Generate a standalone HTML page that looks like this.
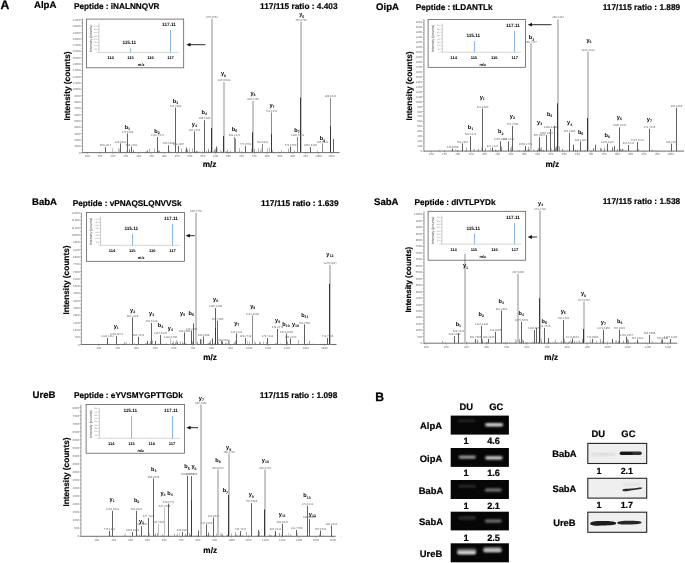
<!DOCTYPE html>
<html><head><meta charset="utf-8"><style>
html,body{margin:0;padding:0;background:#fff;}
svg{display:block;font-family:"Liberation Sans", sans-serif;text-rendering:geometricPrecision;filter:blur(0.35px);}
</style></head><body>
<svg width="685" height="563" viewBox="0 0 685 563" font-family='"Liberation Sans", sans-serif'>
<rect width="685" height="563" fill="#fff"/>
<g>
<text x="34.00" y="8.40" font-size="9.6" font-weight="bold" text-anchor="start" fill="#000" stroke="#000" stroke-width="0.211" >AlpA</text>
<text x="74.00" y="8.50" font-size="8.2" font-weight="bold" text-anchor="start" fill="#000" stroke="#000" stroke-width="0.180" >Peptide : iNALNNQVR</text>
<text x="337.60" y="8.50" font-size="8.3" font-weight="bold" text-anchor="end" fill="#000" stroke="#000" stroke-width="0.183" >117/115 ratio : 4.403</text>
<line x1="82.50" y1="18.80" x2="82.50" y2="153.10" stroke="#707070" stroke-width="0.7" />
<line x1="80.90" y1="152.60" x2="82.50" y2="152.60" stroke="#777" stroke-width="0.5" />
<text x="80.60" y="153.60" font-size="2.9" text-anchor="end" fill="#707070">0</text>
<line x1="81.50" y1="149.44" x2="82.50" y2="149.44" stroke="#777" stroke-width="0.5" />
<line x1="80.90" y1="146.28" x2="82.50" y2="146.28" stroke="#777" stroke-width="0.5" />
<text x="80.60" y="147.28" font-size="2.9" text-anchor="end" fill="#707070">1000</text>
<line x1="81.50" y1="143.12" x2="82.50" y2="143.12" stroke="#777" stroke-width="0.5" />
<line x1="80.90" y1="139.96" x2="82.50" y2="139.96" stroke="#777" stroke-width="0.5" />
<text x="80.60" y="140.96" font-size="2.9" text-anchor="end" fill="#707070">2000</text>
<line x1="81.50" y1="136.80" x2="82.50" y2="136.80" stroke="#777" stroke-width="0.5" />
<line x1="80.90" y1="133.64" x2="82.50" y2="133.64" stroke="#777" stroke-width="0.5" />
<text x="80.60" y="134.64" font-size="2.9" text-anchor="end" fill="#707070">3000</text>
<line x1="81.50" y1="130.48" x2="82.50" y2="130.48" stroke="#777" stroke-width="0.5" />
<line x1="80.90" y1="127.32" x2="82.50" y2="127.32" stroke="#777" stroke-width="0.5" />
<text x="80.60" y="128.32" font-size="2.9" text-anchor="end" fill="#707070">4000</text>
<line x1="81.50" y1="124.16" x2="82.50" y2="124.16" stroke="#777" stroke-width="0.5" />
<line x1="80.90" y1="121.00" x2="82.50" y2="121.00" stroke="#777" stroke-width="0.5" />
<text x="80.60" y="122.00" font-size="2.9" text-anchor="end" fill="#707070">5000</text>
<line x1="81.50" y1="117.84" x2="82.50" y2="117.84" stroke="#777" stroke-width="0.5" />
<line x1="80.90" y1="114.68" x2="82.50" y2="114.68" stroke="#777" stroke-width="0.5" />
<text x="80.60" y="115.68" font-size="2.9" text-anchor="end" fill="#707070">6000</text>
<line x1="81.50" y1="111.52" x2="82.50" y2="111.52" stroke="#777" stroke-width="0.5" />
<line x1="80.90" y1="108.36" x2="82.50" y2="108.36" stroke="#777" stroke-width="0.5" />
<text x="80.60" y="109.36" font-size="2.9" text-anchor="end" fill="#707070">7000</text>
<line x1="81.50" y1="105.20" x2="82.50" y2="105.20" stroke="#777" stroke-width="0.5" />
<line x1="80.90" y1="102.04" x2="82.50" y2="102.04" stroke="#777" stroke-width="0.5" />
<text x="80.60" y="103.04" font-size="2.9" text-anchor="end" fill="#707070">8000</text>
<line x1="81.50" y1="98.88" x2="82.50" y2="98.88" stroke="#777" stroke-width="0.5" />
<line x1="80.90" y1="95.72" x2="82.50" y2="95.72" stroke="#777" stroke-width="0.5" />
<text x="80.60" y="96.72" font-size="2.9" text-anchor="end" fill="#707070">9000</text>
<line x1="81.50" y1="92.56" x2="82.50" y2="92.56" stroke="#777" stroke-width="0.5" />
<line x1="80.90" y1="89.40" x2="82.50" y2="89.40" stroke="#777" stroke-width="0.5" />
<text x="80.60" y="90.40" font-size="2.9" text-anchor="end" fill="#707070">10000</text>
<line x1="81.50" y1="86.24" x2="82.50" y2="86.24" stroke="#777" stroke-width="0.5" />
<line x1="80.90" y1="83.08" x2="82.50" y2="83.08" stroke="#777" stroke-width="0.5" />
<text x="80.60" y="84.08" font-size="2.9" text-anchor="end" fill="#707070">11000</text>
<line x1="81.50" y1="79.92" x2="82.50" y2="79.92" stroke="#777" stroke-width="0.5" />
<line x1="80.90" y1="76.76" x2="82.50" y2="76.76" stroke="#777" stroke-width="0.5" />
<text x="80.60" y="77.76" font-size="2.9" text-anchor="end" fill="#707070">12000</text>
<line x1="81.50" y1="73.60" x2="82.50" y2="73.60" stroke="#777" stroke-width="0.5" />
<line x1="80.90" y1="70.44" x2="82.50" y2="70.44" stroke="#777" stroke-width="0.5" />
<text x="80.60" y="71.44" font-size="2.9" text-anchor="end" fill="#707070">13000</text>
<line x1="81.50" y1="67.28" x2="82.50" y2="67.28" stroke="#777" stroke-width="0.5" />
<line x1="80.90" y1="64.12" x2="82.50" y2="64.12" stroke="#777" stroke-width="0.5" />
<text x="80.60" y="65.12" font-size="2.9" text-anchor="end" fill="#707070">14000</text>
<line x1="81.50" y1="60.96" x2="82.50" y2="60.96" stroke="#777" stroke-width="0.5" />
<line x1="80.90" y1="57.80" x2="82.50" y2="57.80" stroke="#777" stroke-width="0.5" />
<text x="80.60" y="58.80" font-size="2.9" text-anchor="end" fill="#707070">15000</text>
<line x1="81.50" y1="54.64" x2="82.50" y2="54.64" stroke="#777" stroke-width="0.5" />
<line x1="80.90" y1="51.48" x2="82.50" y2="51.48" stroke="#777" stroke-width="0.5" />
<text x="80.60" y="52.48" font-size="2.9" text-anchor="end" fill="#707070">16000</text>
<line x1="81.50" y1="48.32" x2="82.50" y2="48.32" stroke="#777" stroke-width="0.5" />
<line x1="80.90" y1="45.16" x2="82.50" y2="45.16" stroke="#777" stroke-width="0.5" />
<text x="80.60" y="46.16" font-size="2.9" text-anchor="end" fill="#707070">17000</text>
<line x1="81.50" y1="42.00" x2="82.50" y2="42.00" stroke="#777" stroke-width="0.5" />
<line x1="80.90" y1="38.84" x2="82.50" y2="38.84" stroke="#777" stroke-width="0.5" />
<text x="80.60" y="39.84" font-size="2.9" text-anchor="end" fill="#707070">18000</text>
<line x1="81.50" y1="35.68" x2="82.50" y2="35.68" stroke="#777" stroke-width="0.5" />
<line x1="80.90" y1="32.52" x2="82.50" y2="32.52" stroke="#777" stroke-width="0.5" />
<text x="80.60" y="33.52" font-size="2.9" text-anchor="end" fill="#707070">19000</text>
<line x1="81.50" y1="29.36" x2="82.50" y2="29.36" stroke="#777" stroke-width="0.5" />
<line x1="80.90" y1="26.20" x2="82.50" y2="26.20" stroke="#777" stroke-width="0.5" />
<text x="80.60" y="27.20" font-size="2.9" text-anchor="end" fill="#707070">20000</text>
<line x1="81.50" y1="23.04" x2="82.50" y2="23.04" stroke="#777" stroke-width="0.5" />
<line x1="80.90" y1="19.88" x2="82.50" y2="19.88" stroke="#777" stroke-width="0.5" />
<text x="80.60" y="20.88" font-size="2.9" text-anchor="end" fill="#707070">21000</text>
<line x1="82.50" y1="152.60" x2="339.50" y2="152.60" stroke="#4a4a4a" stroke-width="0.8" />
<line x1="87.20" y1="152.60" x2="87.20" y2="154.10" stroke="#777" stroke-width="0.5" />
<text x="87.20" y="156.90" font-size="2.9" text-anchor="middle" fill="#707070">100</text>
<line x1="93.62" y1="152.60" x2="93.62" y2="153.50" stroke="#999" stroke-width="0.4" />
<line x1="100.05" y1="152.60" x2="100.05" y2="154.10" stroke="#777" stroke-width="0.5" />
<text x="100.05" y="156.90" font-size="2.9" text-anchor="middle" fill="#707070">150</text>
<line x1="106.47" y1="152.60" x2="106.47" y2="153.50" stroke="#999" stroke-width="0.4" />
<line x1="112.90" y1="152.60" x2="112.90" y2="154.10" stroke="#777" stroke-width="0.5" />
<text x="112.90" y="156.90" font-size="2.9" text-anchor="middle" fill="#707070">200</text>
<line x1="119.32" y1="152.60" x2="119.32" y2="153.50" stroke="#999" stroke-width="0.4" />
<line x1="125.75" y1="152.60" x2="125.75" y2="154.10" stroke="#777" stroke-width="0.5" />
<text x="125.75" y="156.90" font-size="2.9" text-anchor="middle" fill="#707070">250</text>
<line x1="132.17" y1="152.60" x2="132.17" y2="153.50" stroke="#999" stroke-width="0.4" />
<line x1="138.60" y1="152.60" x2="138.60" y2="154.10" stroke="#777" stroke-width="0.5" />
<text x="138.60" y="156.90" font-size="2.9" text-anchor="middle" fill="#707070">300</text>
<line x1="145.03" y1="152.60" x2="145.03" y2="153.50" stroke="#999" stroke-width="0.4" />
<line x1="151.45" y1="152.60" x2="151.45" y2="154.10" stroke="#777" stroke-width="0.5" />
<text x="151.45" y="156.90" font-size="2.9" text-anchor="middle" fill="#707070">350</text>
<line x1="157.88" y1="152.60" x2="157.88" y2="153.50" stroke="#999" stroke-width="0.4" />
<line x1="164.30" y1="152.60" x2="164.30" y2="154.10" stroke="#777" stroke-width="0.5" />
<text x="164.30" y="156.90" font-size="2.9" text-anchor="middle" fill="#707070">400</text>
<line x1="170.72" y1="152.60" x2="170.72" y2="153.50" stroke="#999" stroke-width="0.4" />
<line x1="177.15" y1="152.60" x2="177.15" y2="154.10" stroke="#777" stroke-width="0.5" />
<text x="177.15" y="156.90" font-size="2.9" text-anchor="middle" fill="#707070">450</text>
<line x1="183.57" y1="152.60" x2="183.57" y2="153.50" stroke="#999" stroke-width="0.4" />
<line x1="190.00" y1="152.60" x2="190.00" y2="154.10" stroke="#777" stroke-width="0.5" />
<text x="190.00" y="156.90" font-size="2.9" text-anchor="middle" fill="#707070">500</text>
<line x1="196.42" y1="152.60" x2="196.42" y2="153.50" stroke="#999" stroke-width="0.4" />
<line x1="202.85" y1="152.60" x2="202.85" y2="154.10" stroke="#777" stroke-width="0.5" />
<text x="202.85" y="156.90" font-size="2.9" text-anchor="middle" fill="#707070">550</text>
<line x1="209.27" y1="152.60" x2="209.27" y2="153.50" stroke="#999" stroke-width="0.4" />
<line x1="215.70" y1="152.60" x2="215.70" y2="154.10" stroke="#777" stroke-width="0.5" />
<text x="215.70" y="156.90" font-size="2.9" text-anchor="middle" fill="#707070">600</text>
<line x1="222.12" y1="152.60" x2="222.12" y2="153.50" stroke="#999" stroke-width="0.4" />
<line x1="228.55" y1="152.60" x2="228.55" y2="154.10" stroke="#777" stroke-width="0.5" />
<text x="228.55" y="156.90" font-size="2.9" text-anchor="middle" fill="#707070">650</text>
<line x1="234.97" y1="152.60" x2="234.97" y2="153.50" stroke="#999" stroke-width="0.4" />
<line x1="241.40" y1="152.60" x2="241.40" y2="154.10" stroke="#777" stroke-width="0.5" />
<text x="241.40" y="156.90" font-size="2.9" text-anchor="middle" fill="#707070">700</text>
<line x1="247.82" y1="152.60" x2="247.82" y2="153.50" stroke="#999" stroke-width="0.4" />
<line x1="254.25" y1="152.60" x2="254.25" y2="154.10" stroke="#777" stroke-width="0.5" />
<text x="254.25" y="156.90" font-size="2.9" text-anchor="middle" fill="#707070">750</text>
<line x1="260.67" y1="152.60" x2="260.67" y2="153.50" stroke="#999" stroke-width="0.4" />
<line x1="267.10" y1="152.60" x2="267.10" y2="154.10" stroke="#777" stroke-width="0.5" />
<text x="267.10" y="156.90" font-size="2.9" text-anchor="middle" fill="#707070">800</text>
<line x1="273.52" y1="152.60" x2="273.52" y2="153.50" stroke="#999" stroke-width="0.4" />
<line x1="279.95" y1="152.60" x2="279.95" y2="154.10" stroke="#777" stroke-width="0.5" />
<text x="279.95" y="156.90" font-size="2.9" text-anchor="middle" fill="#707070">850</text>
<line x1="286.38" y1="152.60" x2="286.38" y2="153.50" stroke="#999" stroke-width="0.4" />
<line x1="292.80" y1="152.60" x2="292.80" y2="154.10" stroke="#777" stroke-width="0.5" />
<text x="292.80" y="156.90" font-size="2.9" text-anchor="middle" fill="#707070">900</text>
<line x1="299.23" y1="152.60" x2="299.23" y2="153.50" stroke="#999" stroke-width="0.4" />
<line x1="305.65" y1="152.60" x2="305.65" y2="154.10" stroke="#777" stroke-width="0.5" />
<text x="305.65" y="156.90" font-size="2.9" text-anchor="middle" fill="#707070">950</text>
<line x1="312.08" y1="152.60" x2="312.08" y2="153.50" stroke="#999" stroke-width="0.4" />
<line x1="318.50" y1="152.60" x2="318.50" y2="154.10" stroke="#777" stroke-width="0.5" />
<text x="318.50" y="156.90" font-size="2.9" text-anchor="middle" fill="#707070">1000</text>
<line x1="324.93" y1="152.60" x2="324.93" y2="153.50" stroke="#999" stroke-width="0.4" />
<line x1="331.35" y1="152.60" x2="331.35" y2="154.10" stroke="#777" stroke-width="0.5" />
<text x="331.35" y="156.90" font-size="2.9" text-anchor="middle" fill="#707070">1050</text>
<line x1="337.78" y1="152.60" x2="337.78" y2="153.50" stroke="#999" stroke-width="0.4" />
<text x="0" y="0" font-size="8.3" font-weight="bold" text-anchor="middle" fill="#000" stroke="#000" stroke-width="0.18" transform="translate(70.00,86.00) rotate(-90)">Intensity (counts)</text>
<text x="209.50" y="167.20" font-size="8.2" font-weight="bold" text-anchor="middle" fill="#000" stroke="#000" stroke-width="0.180" >m/z</text>
<line x1="189.50" y1="151.98" x2="189.50" y2="152.60" stroke="rgb(143,143,143)" stroke-width="0.5" />
<line x1="129.50" y1="149.51" x2="129.50" y2="152.60" stroke="rgb(72,72,72)" stroke-width="0.5" />
<line x1="195.50" y1="152.00" x2="195.50" y2="152.60" stroke="rgb(124,124,124)" stroke-width="0.5" />
<line x1="171.50" y1="152.00" x2="171.50" y2="152.60" stroke="rgb(113,113,113)" stroke-width="0.5" />
<line x1="137.50" y1="152.00" x2="137.50" y2="152.60" stroke="rgb(114,114,114)" stroke-width="0.5" />
<line x1="133.50" y1="151.19" x2="133.50" y2="152.60" stroke="rgb(88,88,88)" stroke-width="0.5" />
<line x1="230.50" y1="151.11" x2="230.50" y2="152.60" stroke="rgb(67,67,67)" stroke-width="0.5" />
<line x1="223.50" y1="151.72" x2="223.50" y2="152.60" stroke="rgb(88,88,88)" stroke-width="0.5" />
<line x1="129.50" y1="149.15" x2="129.50" y2="152.60" stroke="rgb(97,97,97)" stroke-width="0.5" />
<line x1="202.50" y1="151.29" x2="202.50" y2="152.60" stroke="rgb(133,133,133)" stroke-width="0.5" />
<line x1="187.50" y1="149.55" x2="187.50" y2="152.60" stroke="rgb(83,83,83)" stroke-width="0.5" />
<line x1="147.50" y1="151.16" x2="147.50" y2="152.60" stroke="rgb(84,84,84)" stroke-width="0.5" />
<line x1="196.50" y1="151.26" x2="196.50" y2="152.60" stroke="rgb(68,68,68)" stroke-width="0.5" />
<line x1="221.50" y1="150.93" x2="221.50" y2="152.60" stroke="rgb(123,123,123)" stroke-width="0.5" />
<line x1="237.50" y1="151.65" x2="237.50" y2="152.60" stroke="rgb(100,100,100)" stroke-width="0.5" />
<line x1="208.50" y1="148.46" x2="208.50" y2="152.60" stroke="rgb(106,106,106)" stroke-width="0.5" />
<line x1="185.50" y1="149.74" x2="185.50" y2="152.60" stroke="rgb(149,149,149)" stroke-width="0.5" />
<line x1="254.50" y1="152.00" x2="254.50" y2="152.60" stroke="rgb(98,98,98)" stroke-width="0.5" />
<line x1="216.50" y1="148.98" x2="216.50" y2="152.60" stroke="rgb(153,153,153)" stroke-width="0.5" />
<line x1="206.50" y1="150.98" x2="206.50" y2="152.60" stroke="rgb(69,69,69)" stroke-width="0.5" />
<line x1="151.50" y1="151.67" x2="151.50" y2="152.60" stroke="rgb(156,156,156)" stroke-width="0.5" />
<line x1="192.50" y1="148.34" x2="192.50" y2="152.60" stroke="rgb(113,113,113)" stroke-width="0.5" />
<line x1="126.50" y1="150.66" x2="126.50" y2="152.60" stroke="rgb(157,157,157)" stroke-width="0.5" />
<line x1="220.50" y1="149.79" x2="220.50" y2="152.60" stroke="rgb(164,164,164)" stroke-width="0.5" />
<line x1="187.50" y1="150.49" x2="187.50" y2="152.60" stroke="rgb(136,136,136)" stroke-width="0.5" />
<line x1="212.50" y1="149.72" x2="212.50" y2="152.60" stroke="rgb(68,68,68)" stroke-width="0.5" />
<line x1="267.50" y1="148.21" x2="267.50" y2="152.60" stroke="rgb(120,120,120)" stroke-width="0.5" />
<line x1="240.50" y1="152.00" x2="240.50" y2="152.60" stroke="rgb(153,153,153)" stroke-width="0.5" />
<line x1="241.50" y1="150.78" x2="241.50" y2="152.60" stroke="rgb(147,147,147)" stroke-width="0.5" />
<line x1="263.50" y1="151.90" x2="263.50" y2="152.60" stroke="rgb(109,109,109)" stroke-width="0.5" />
<line x1="278.50" y1="151.81" x2="278.50" y2="152.60" stroke="rgb(119,119,119)" stroke-width="0.5" />
<line x1="194.50" y1="150.97" x2="194.50" y2="152.60" stroke="rgb(123,123,123)" stroke-width="0.5" />
<line x1="133.50" y1="149.96" x2="133.50" y2="152.60" stroke="rgb(76,76,76)" stroke-width="0.5" />
<line x1="247.50" y1="151.72" x2="247.50" y2="152.60" stroke="rgb(123,123,123)" stroke-width="0.5" />
<line x1="140.50" y1="151.59" x2="140.50" y2="152.60" stroke="rgb(130,130,130)" stroke-width="0.5" />
<line x1="182.50" y1="151.99" x2="182.50" y2="152.60" stroke="rgb(115,115,115)" stroke-width="0.5" />
<line x1="272.50" y1="151.90" x2="272.50" y2="152.60" stroke="rgb(113,113,113)" stroke-width="0.5" />
<line x1="317.50" y1="150.57" x2="317.50" y2="152.60" stroke="rgb(108,108,108)" stroke-width="0.5" />
<line x1="301.50" y1="151.98" x2="301.50" y2="152.60" stroke="rgb(82,82,82)" stroke-width="0.5" />
<line x1="158.50" y1="150.71" x2="158.50" y2="152.60" stroke="rgb(61,61,61)" stroke-width="0.5" />
<line x1="211.50" y1="151.08" x2="211.50" y2="152.60" stroke="rgb(93,93,93)" stroke-width="0.5" />
<line x1="182.50" y1="151.99" x2="182.50" y2="152.60" stroke="rgb(128,128,128)" stroke-width="0.5" />
<line x1="196.50" y1="151.18" x2="196.50" y2="152.60" stroke="rgb(76,76,76)" stroke-width="0.5" />
<line x1="239.50" y1="151.38" x2="239.50" y2="152.60" stroke="rgb(139,139,139)" stroke-width="0.5" />
<line x1="234.50" y1="150.18" x2="234.50" y2="152.60" stroke="rgb(118,118,118)" stroke-width="0.5" />
<line x1="281.50" y1="149.86" x2="281.50" y2="152.60" stroke="rgb(147,147,147)" stroke-width="0.5" />
<line x1="258.50" y1="151.73" x2="258.50" y2="152.60" stroke="rgb(111,111,111)" stroke-width="0.5" />
<line x1="199.50" y1="151.50" x2="199.50" y2="152.60" stroke="rgb(111,111,111)" stroke-width="0.5" />
<line x1="135.50" y1="152.00" x2="135.50" y2="152.60" stroke="rgb(86,86,86)" stroke-width="0.5" />
<line x1="205.50" y1="151.99" x2="205.50" y2="152.60" stroke="rgb(136,136,136)" stroke-width="0.5" />
<line x1="131.50" y1="152.00" x2="131.50" y2="152.60" stroke="rgb(79,79,79)" stroke-width="0.5" />
<line x1="217.50" y1="148.15" x2="217.50" y2="152.60" stroke="rgb(138,138,138)" stroke-width="0.5" />
<line x1="119.50" y1="148.99" x2="119.50" y2="152.60" stroke="rgb(138,138,138)" stroke-width="0.5" />
<line x1="197.50" y1="150.85" x2="197.50" y2="152.60" stroke="rgb(104,104,104)" stroke-width="0.5" />
<line x1="226.50" y1="151.52" x2="226.50" y2="152.60" stroke="rgb(74,74,74)" stroke-width="0.5" />
<line x1="269.50" y1="147.59" x2="269.50" y2="152.60" stroke="rgb(119,119,119)" stroke-width="0.5" />
<line x1="210.50" y1="151.86" x2="210.50" y2="152.60" stroke="rgb(78,78,78)" stroke-width="0.5" />
<line x1="146.50" y1="151.82" x2="146.50" y2="152.60" stroke="rgb(93,93,93)" stroke-width="0.5" />
<line x1="210.50" y1="150.51" x2="210.50" y2="152.60" stroke="rgb(126,126,126)" stroke-width="0.5" />
<line x1="118.50" y1="148.13" x2="118.50" y2="152.60" stroke="rgb(127,127,127)" stroke-width="0.5" />
<line x1="194.50" y1="150.52" x2="194.50" y2="152.60" stroke="rgb(63,63,63)" stroke-width="0.5" />
<line x1="250.50" y1="151.88" x2="250.50" y2="152.60" stroke="rgb(142,142,142)" stroke-width="0.5" />
<line x1="272.50" y1="150.48" x2="272.50" y2="152.60" stroke="rgb(93,93,93)" stroke-width="0.5" />
<line x1="215.50" y1="148.63" x2="215.50" y2="152.60" stroke="rgb(105,105,105)" stroke-width="0.5" />
<line x1="253.50" y1="151.32" x2="253.50" y2="152.60" stroke="rgb(159,159,159)" stroke-width="0.5" />
<line x1="213.50" y1="150.84" x2="213.50" y2="152.60" stroke="rgb(138,138,138)" stroke-width="0.5" />
<line x1="261.50" y1="147.70" x2="261.50" y2="152.60" stroke="rgb(169,169,169)" stroke-width="0.5" />
<line x1="167.50" y1="151.94" x2="167.50" y2="152.60" stroke="rgb(111,111,111)" stroke-width="0.5" />
<line x1="247.50" y1="151.95" x2="247.50" y2="152.60" stroke="rgb(126,126,126)" stroke-width="0.5" />
<line x1="212.50" y1="150.24" x2="212.50" y2="152.60" stroke="rgb(63,63,63)" stroke-width="0.5" />
<line x1="256.50" y1="151.53" x2="256.50" y2="152.60" stroke="rgb(84,84,84)" stroke-width="0.5" />
<line x1="239.50" y1="148.06" x2="239.50" y2="152.60" stroke="rgb(117,117,117)" stroke-width="0.5" />
<line x1="260.50" y1="150.30" x2="260.50" y2="152.60" stroke="rgb(104,104,104)" stroke-width="0.5" />
<line x1="300.50" y1="151.78" x2="300.50" y2="152.60" stroke="rgb(88,88,88)" stroke-width="0.5" />
<line x1="146.50" y1="151.53" x2="146.50" y2="152.60" stroke="rgb(103,103,103)" stroke-width="0.5" />
<line x1="169.50" y1="150.91" x2="169.50" y2="152.60" stroke="rgb(138,138,138)" stroke-width="0.5" />
<line x1="267.50" y1="151.50" x2="267.50" y2="152.60" stroke="rgb(143,143,143)" stroke-width="0.5" />
<line x1="192.50" y1="150.80" x2="192.50" y2="152.60" stroke="rgb(166,166,166)" stroke-width="0.5" />
<line x1="234.50" y1="148.61" x2="234.50" y2="152.60" stroke="rgb(160,160,160)" stroke-width="0.5" />
<line x1="242.50" y1="151.96" x2="242.50" y2="152.60" stroke="rgb(82,82,82)" stroke-width="0.5" />
<line x1="204.50" y1="150.84" x2="204.50" y2="152.60" stroke="rgb(71,71,71)" stroke-width="0.5" />
<line x1="258.50" y1="147.87" x2="258.50" y2="152.60" stroke="rgb(110,110,110)" stroke-width="0.5" />
<line x1="208.50" y1="150.15" x2="208.50" y2="152.60" stroke="rgb(70,70,70)" stroke-width="0.5" />
<line x1="245.50" y1="151.98" x2="245.50" y2="152.60" stroke="rgb(76,76,76)" stroke-width="0.5" />
<line x1="120.50" y1="151.07" x2="120.50" y2="152.60" stroke="rgb(119,119,119)" stroke-width="0.5" />
<line x1="260.50" y1="151.99" x2="260.50" y2="152.60" stroke="rgb(165,165,165)" stroke-width="0.5" />
<line x1="225.50" y1="151.52" x2="225.50" y2="152.60" stroke="rgb(104,104,104)" stroke-width="0.5" />
<line x1="159.50" y1="151.26" x2="159.50" y2="152.60" stroke="rgb(62,62,62)" stroke-width="0.5" />
<line x1="112.50" y1="147.88" x2="112.50" y2="152.60" stroke="rgb(143,143,143)" stroke-width="0.5" />
<line x1="147.50" y1="150.11" x2="147.50" y2="152.60" stroke="rgb(77,77,77)" stroke-width="0.5" />
<line x1="204.50" y1="149.02" x2="204.50" y2="152.60" stroke="rgb(165,165,165)" stroke-width="0.5" />
<line x1="274.50" y1="152.00" x2="274.50" y2="152.60" stroke="rgb(87,87,87)" stroke-width="0.5" />
<line x1="184.50" y1="151.94" x2="184.50" y2="152.60" stroke="rgb(135,135,135)" stroke-width="0.5" />
<line x1="189.50" y1="151.27" x2="189.50" y2="152.60" stroke="rgb(166,166,166)" stroke-width="0.5" />
<line x1="154.50" y1="148.61" x2="154.50" y2="152.60" stroke="rgb(105,105,105)" stroke-width="0.5" />
<line x1="281.50" y1="150.69" x2="281.50" y2="152.60" stroke="rgb(164,164,164)" stroke-width="0.5" />
<line x1="283.50" y1="151.67" x2="283.50" y2="152.60" stroke="rgb(124,124,124)" stroke-width="0.5" />
<line x1="154.50" y1="151.98" x2="154.50" y2="152.60" stroke="rgb(125,125,125)" stroke-width="0.5" />
<line x1="115.50" y1="151.62" x2="115.50" y2="152.60" stroke="rgb(83,83,83)" stroke-width="0.5" />
<line x1="227.50" y1="149.90" x2="227.50" y2="152.60" stroke="rgb(79,79,79)" stroke-width="0.5" />
<line x1="163.50" y1="151.52" x2="163.50" y2="152.60" stroke="rgb(152,152,152)" stroke-width="0.5" />
<line x1="151.50" y1="152.00" x2="151.50" y2="152.60" stroke="rgb(147,147,147)" stroke-width="0.5" />
<line x1="215.50" y1="151.23" x2="215.50" y2="152.60" stroke="rgb(160,160,160)" stroke-width="0.5" />
<line x1="254.50" y1="148.90" x2="254.50" y2="152.60" stroke="rgb(67,67,67)" stroke-width="0.5" />
<line x1="177.50" y1="151.90" x2="177.50" y2="152.60" stroke="rgb(158,158,158)" stroke-width="0.5" />
<line x1="145.50" y1="151.58" x2="145.50" y2="152.60" stroke="rgb(63,63,63)" stroke-width="0.5" />
<line x1="251.50" y1="148.58" x2="251.50" y2="152.60" stroke="rgb(116,116,116)" stroke-width="0.5" />
<line x1="189.50" y1="147.85" x2="189.50" y2="152.60" stroke="rgb(137,137,137)" stroke-width="0.5" />
<line x1="214.50" y1="150.50" x2="214.50" y2="152.60" stroke="rgb(117,117,117)" stroke-width="0.5" />
<line x1="214.50" y1="149.63" x2="214.50" y2="152.60" stroke="rgb(124,124,124)" stroke-width="0.5" />
<line x1="294.50" y1="150.46" x2="294.50" y2="152.60" stroke="rgb(93,93,93)" stroke-width="0.5" />
<line x1="288.50" y1="148.80" x2="288.50" y2="152.60" stroke="rgb(85,85,85)" stroke-width="0.5" />
<line x1="267.50" y1="151.99" x2="267.50" y2="152.60" stroke="rgb(75,75,75)" stroke-width="0.5" />
<line x1="199.50" y1="151.86" x2="199.50" y2="152.60" stroke="rgb(145,145,145)" stroke-width="0.5" />
<line x1="176.50" y1="152.00" x2="176.50" y2="152.60" stroke="rgb(145,145,145)" stroke-width="0.5" />
<line x1="186.50" y1="151.99" x2="186.50" y2="152.60" stroke="rgb(159,159,159)" stroke-width="0.5" />
<line x1="159.50" y1="150.35" x2="159.50" y2="152.60" stroke="rgb(144,144,144)" stroke-width="0.5" />
<line x1="195.50" y1="151.93" x2="195.50" y2="152.60" stroke="rgb(77,77,77)" stroke-width="0.5" />
<line x1="305.50" y1="151.95" x2="305.50" y2="152.60" stroke="rgb(72,72,72)" stroke-width="0.5" />
<line x1="200.50" y1="151.48" x2="200.50" y2="152.60" stroke="rgb(145,145,145)" stroke-width="0.5" />
<line x1="265.50" y1="151.98" x2="265.50" y2="152.60" stroke="rgb(115,115,115)" stroke-width="0.5" />
<line x1="323.50" y1="151.70" x2="323.50" y2="152.60" stroke="rgb(113,113,113)" stroke-width="0.5" />
<line x1="167.50" y1="151.85" x2="167.50" y2="152.60" stroke="rgb(152,152,152)" stroke-width="0.5" />
<line x1="195.50" y1="151.83" x2="195.50" y2="152.60" stroke="rgb(118,118,118)" stroke-width="0.5" />
<line x1="205.50" y1="152.00" x2="205.50" y2="152.60" stroke="rgb(102,102,102)" stroke-width="0.5" />
<line x1="215.50" y1="151.88" x2="215.50" y2="152.60" stroke="rgb(68,68,68)" stroke-width="0.5" />
<line x1="149.50" y1="148.51" x2="149.50" y2="152.60" stroke="rgb(89,89,89)" stroke-width="0.5" />
<line x1="307.50" y1="151.99" x2="307.50" y2="152.60" stroke="rgb(93,93,93)" stroke-width="0.5" />
<line x1="181.50" y1="148.65" x2="181.50" y2="152.60" stroke="rgb(83,83,83)" stroke-width="0.5" />
<line x1="181.50" y1="151.99" x2="181.50" y2="152.60" stroke="rgb(114,114,114)" stroke-width="0.5" />
<line x1="212.00" y1="18.40" x2="212.00" y2="152.60" stroke="#c4c4c4" stroke-width="1.9" />
<line x1="211.50" y1="128.00" x2="211.50" y2="152.60" stroke="#383838" stroke-width="1.0" />
<text x="212.00" y="17.50" font-size="2.8" text-anchor="middle" fill="#6a6a6a" font-weight="normal">679.7651</text>
<line x1="301.00" y1="21.70" x2="301.00" y2="152.60" stroke="#c4c4c4" stroke-width="1.9" />
<line x1="300.50" y1="97.50" x2="300.50" y2="152.60" stroke="#383838" stroke-width="1.0" />
<text x="301.00" y="20.80" font-size="2.8" text-anchor="middle" fill="#6a6a6a" font-weight="normal">455.9791</text>
<line x1="224.00" y1="82.20" x2="224.00" y2="152.60" stroke="#c4c4c4" stroke-width="1.9" />
<line x1="223.50" y1="136.00" x2="223.50" y2="152.60" stroke="#383838" stroke-width="1.0" />
<text x="224.00" y="81.30" font-size="2.8" text-anchor="middle" fill="#6a6a6a" font-weight="normal">1204.9103</text>
<line x1="253.00" y1="101.00" x2="253.00" y2="152.60" stroke="#c4c4c4" stroke-width="1.9" />
<line x1="252.50" y1="132.30" x2="252.50" y2="152.60" stroke="#383838" stroke-width="1.0" />
<text x="253.00" y="100.10" font-size="2.8" text-anchor="middle" fill="#6a6a6a" font-weight="normal">819.2465</text>
<line x1="271.50" y1="112.50" x2="271.50" y2="152.60" stroke="#8a8a8a" stroke-width="1.0" />
<line x1="271.50" y1="134.00" x2="271.50" y2="152.60" stroke="#383838" stroke-width="1.0" />
<text x="271.50" y="111.60" font-size="2.8" text-anchor="middle" fill="#6a6a6a" font-weight="normal">721.1942</text>
<line x1="175.50" y1="107.60" x2="175.50" y2="152.60" stroke="#505050" stroke-width="0.9" />
<text x="175.50" y="106.70" font-size="2.8" text-anchor="middle" fill="#6a6a6a" font-weight="normal">525.7968</text>
<line x1="204.50" y1="120.20" x2="204.50" y2="152.60" stroke="#505050" stroke-width="0.9" />
<text x="204.50" y="119.30" font-size="2.8" text-anchor="middle" fill="#6a6a6a" font-weight="normal">298.5406</text>
<line x1="194.50" y1="131.50" x2="194.50" y2="152.60" stroke="#505050" stroke-width="0.9" />
<text x="194.50" y="130.60" font-size="2.8" text-anchor="middle" fill="#6a6a6a" font-weight="normal">184.2451</text>
<line x1="234.50" y1="137.00" x2="234.50" y2="152.60" stroke="#8a8a8a" stroke-width="1.0" />
<text x="234.50" y="136.10" font-size="2.8" text-anchor="middle" fill="#6a6a6a" font-weight="normal">683.2372</text>
<line x1="235.50" y1="138.50" x2="235.50" y2="152.60" stroke="#8a8a8a" stroke-width="1.0" />
<line x1="297.50" y1="137.00" x2="297.50" y2="152.60" stroke="#8a8a8a" stroke-width="1.0" />
<text x="297.50" y="136.10" font-size="2.8" text-anchor="middle" fill="#6a6a6a" font-weight="normal">1395.4643</text>
<line x1="322.50" y1="143.50" x2="322.50" y2="152.60" stroke="#8a8a8a" stroke-width="1.0" />
<text x="322.50" y="142.60" font-size="2.8" text-anchor="middle" fill="#6a6a6a" font-weight="normal">286.5332</text>
<line x1="330.50" y1="98.00" x2="330.50" y2="152.60" stroke="#8a8a8a" stroke-width="1.0" />
<line x1="330.50" y1="126.00" x2="330.50" y2="152.60" stroke="#383838" stroke-width="1.0" />
<text x="330.50" y="97.10" font-size="2.8" text-anchor="middle" fill="#6a6a6a" font-weight="normal">399.8434</text>
<line x1="333.50" y1="139.00" x2="333.50" y2="152.60" stroke="#505050" stroke-width="0.9" />
<line x1="127.50" y1="133.50" x2="127.50" y2="152.60" stroke="#505050" stroke-width="0.9" />
<text x="127.50" y="132.60" font-size="2.8" text-anchor="middle" fill="#6a6a6a" font-weight="normal">173.6556</text>
<line x1="157.50" y1="137.00" x2="157.50" y2="152.60" stroke="#505050" stroke-width="0.9" />
<text x="157.50" y="136.10" font-size="2.8" text-anchor="middle" fill="#6a6a6a" font-weight="normal">1282.7844</text>
<line x1="105.50" y1="147.20" x2="105.50" y2="152.60" stroke="#505050" stroke-width="0.9" />
<text x="105.50" y="146.30" font-size="2.8" text-anchor="middle" fill="#6a6a6a" font-weight="normal">698.3117</text>
<line x1="120.50" y1="143.40" x2="120.50" y2="152.60" stroke="#505050" stroke-width="0.9" />
<text x="120.50" y="142.50" font-size="2.8" text-anchor="middle" fill="#6a6a6a" font-weight="normal">238.9632</text>
<line x1="131.50" y1="146.70" x2="131.50" y2="152.60" stroke="#505050" stroke-width="0.9" />
<text x="131.50" y="145.80" font-size="2.8" text-anchor="middle" fill="#6a6a6a" font-weight="normal">638.2793</text>
<line x1="168.50" y1="145.30" x2="168.50" y2="152.60" stroke="#505050" stroke-width="0.9" />
<text x="168.50" y="144.40" font-size="2.8" text-anchor="middle" fill="#6a6a6a" font-weight="normal">480.5290</text>
<line x1="178.50" y1="146.00" x2="178.50" y2="152.60" stroke="#505050" stroke-width="0.9" />
<text x="178.50" y="145.10" font-size="2.8" text-anchor="middle" fill="#6a6a6a" font-weight="normal">253.3967</text>
<line x1="262.50" y1="144.00" x2="262.50" y2="152.60" stroke="#8a8a8a" stroke-width="1.0" />
<text x="262.50" y="143.10" font-size="2.8" text-anchor="middle" fill="#6a6a6a" font-weight="normal">563.6111</text>
<line x1="245.50" y1="146.00" x2="245.50" y2="152.60" stroke="#505050" stroke-width="0.9" />
<text x="245.50" y="145.10" font-size="2.8" text-anchor="middle" fill="#6a6a6a" font-weight="normal">774.9701</text>
<line x1="290.50" y1="146.50" x2="290.50" y2="152.60" stroke="#505050" stroke-width="0.9" />
<text x="290.50" y="145.60" font-size="2.8" text-anchor="middle" fill="#6a6a6a" font-weight="normal">571.5750</text>
<line x1="310.50" y1="147.00" x2="310.50" y2="152.60" stroke="#505050" stroke-width="0.9" />
<text x="310.50" y="146.10" font-size="2.8" text-anchor="middle" fill="#6a6a6a" font-weight="normal">1062.9193</text>
<line x1="186.50" y1="147.50" x2="186.50" y2="152.60" stroke="#505050" stroke-width="0.9" />
<line x1="216.50" y1="146.50" x2="216.50" y2="152.60" stroke="#505050" stroke-width="0.9" />
<text x="127.40" y="128.50" font-size="5.6" font-weight="bold" text-anchor="middle" fill="#000">b<tspan font-size="3.58" dy="1.2">1</tspan></text>
<text x="157.00" y="132.70" font-size="5.6" font-weight="bold" text-anchor="middle" fill="#000">b<tspan font-size="3.58" dy="1.2">2</tspan></text>
<text x="175.50" y="102.90" font-size="5.6" font-weight="bold" text-anchor="middle" fill="#000">b<tspan font-size="3.58" dy="1.2">3</tspan></text>
<text x="194.40" y="125.70" font-size="5.6" font-weight="bold" text-anchor="middle" fill="#000">y<tspan font-size="3.58" dy="1.2">4</tspan></text>
<text x="204.30" y="113.70" font-size="5.6" font-weight="bold" text-anchor="middle" fill="#000">b<tspan font-size="3.58" dy="1.2">4</tspan></text>
<text x="234.50" y="130.70" font-size="5.6" font-weight="bold" text-anchor="middle" fill="#000">b<tspan font-size="3.58" dy="1.2">5</tspan></text>
<text x="223.50" y="75.40" font-size="5.6" font-weight="bold" text-anchor="middle" fill="#000">y<tspan font-size="3.58" dy="1.2">6</tspan></text>
<text x="253.00" y="94.70" font-size="5.6" font-weight="bold" text-anchor="middle" fill="#000">y<tspan font-size="3.58" dy="1.2">8</tspan></text>
<text x="272.00" y="106.70" font-size="5.6" font-weight="bold" text-anchor="middle" fill="#000">y<tspan font-size="3.58" dy="1.2">7</tspan></text>
<text x="297.00" y="131.70" font-size="5.6" font-weight="bold" text-anchor="middle" fill="#000">b<tspan font-size="3.58" dy="1.2">7</tspan></text>
<text x="322.50" y="140.40" font-size="5.6" font-weight="bold" text-anchor="middle" fill="#000">b<tspan font-size="3.58" dy="1.2">8</tspan></text>
<text x="301.80" y="16.30" font-size="5.6" font-weight="bold" text-anchor="middle" fill="#000">y<tspan font-size="3.58" dy="1.2">5</tspan></text>
<rect x="86.50" y="19.10" width="97.20" height="48.70" fill="none" stroke="#555" stroke-width="0.75"/>
<line x1="98.90" y1="23.30" x2="98.90" y2="52.40" stroke="#999" stroke-width="0.5" />
<line x1="97.70" y1="52.40" x2="98.90" y2="52.40" stroke="#999" stroke-width="0.4" />
<text x="97.30" y="53.00" font-size="1.7" text-anchor="end" fill="#888">0</text>
<line x1="97.70" y1="49.10" x2="98.90" y2="49.10" stroke="#999" stroke-width="0.4" />
<text x="97.30" y="49.70" font-size="1.7" text-anchor="end" fill="#888">500</text>
<line x1="97.70" y1="45.80" x2="98.90" y2="45.80" stroke="#999" stroke-width="0.4" />
<text x="97.30" y="46.40" font-size="1.7" text-anchor="end" fill="#888">1000</text>
<line x1="97.70" y1="42.50" x2="98.90" y2="42.50" stroke="#999" stroke-width="0.4" />
<text x="97.30" y="43.10" font-size="1.7" text-anchor="end" fill="#888">1500</text>
<line x1="97.70" y1="39.20" x2="98.90" y2="39.20" stroke="#999" stroke-width="0.4" />
<text x="97.30" y="39.80" font-size="1.7" text-anchor="end" fill="#888">2000</text>
<line x1="97.70" y1="35.90" x2="98.90" y2="35.90" stroke="#999" stroke-width="0.4" />
<text x="97.30" y="36.50" font-size="1.7" text-anchor="end" fill="#888">2500</text>
<line x1="97.70" y1="32.60" x2="98.90" y2="32.60" stroke="#999" stroke-width="0.4" />
<text x="97.30" y="33.20" font-size="1.7" text-anchor="end" fill="#888">3000</text>
<line x1="97.70" y1="29.30" x2="98.90" y2="29.30" stroke="#999" stroke-width="0.4" />
<text x="97.30" y="29.90" font-size="1.7" text-anchor="end" fill="#888">3500</text>
<line x1="97.70" y1="26.00" x2="98.90" y2="26.00" stroke="#999" stroke-width="0.4" />
<text x="97.30" y="26.60" font-size="1.7" text-anchor="end" fill="#888">4000</text>
<line x1="98.90" y1="52.40" x2="179.20" y2="52.40" stroke="#b8b8b8" stroke-width="0.6" />
<text x="0" y="0" font-size="3.6" text-anchor="middle" fill="#333" transform="translate(92.20,38.35) rotate(-90)">Intensity (counts)</text>
<line x1="110.45" y1="52.40" x2="110.45" y2="53.20" stroke="#aaa" stroke-width="0.4" />
<text x="110.45" y="59.30" font-size="4.1" font-weight="bold" text-anchor="middle" fill="#000" >114</text>
<line x1="130.50" y1="52.40" x2="130.50" y2="53.20" stroke="#aaa" stroke-width="0.4" />
<text x="130.50" y="59.30" font-size="4.1" font-weight="bold" text-anchor="middle" fill="#000" >115</text>
<line x1="150.55" y1="52.40" x2="150.55" y2="53.20" stroke="#aaa" stroke-width="0.4" />
<text x="150.55" y="59.30" font-size="4.1" font-weight="bold" text-anchor="middle" fill="#000" >116</text>
<line x1="170.60" y1="52.40" x2="170.60" y2="53.20" stroke="#aaa" stroke-width="0.4" />
<text x="170.60" y="59.30" font-size="4.1" font-weight="bold" text-anchor="middle" fill="#000" >117</text>
<text x="141.20" y="66.00" font-size="4.0" font-weight="bold" text-anchor="middle" fill="#000" >m/z</text>
<line x1="130.50" y1="48.20" x2="130.50" y2="52.40" stroke="#78aade" stroke-width="0.85" />
<line x1="170.50" y1="29.80" x2="170.50" y2="52.40" stroke="#78aade" stroke-width="0.85" />
<text x="129.30" y="44.40" font-size="4.7" font-weight="bold" text-anchor="middle" fill="#000" >115.11</text>
<text x="169.00" y="26.10" font-size="4.7" font-weight="bold" text-anchor="middle" fill="#000" >117.11</text>
<line x1="189.60" y1="44.70" x2="205.40" y2="44.70" stroke="#111" stroke-width="0.9" />
<path d="M186.30,44.70 L190.50,42.80 L190.50,46.60 Z" fill="#111"/>
</g>
<g>
<text x="376.00" y="10.10" font-size="9.6" font-weight="bold" text-anchor="start" fill="#000" stroke="#000" stroke-width="0.211" >OipA</text>
<text x="415.70" y="10.30" font-size="8.2" font-weight="bold" text-anchor="start" fill="#000" stroke="#000" stroke-width="0.180" >Peptide : tLDANTLk</text>
<text x="680.20" y="10.30" font-size="8.3" font-weight="bold" text-anchor="end" fill="#000" stroke="#000" stroke-width="0.183" >117/115 ratio : 1.889</text>
<line x1="424.00" y1="19.50" x2="424.00" y2="151.60" stroke="#707070" stroke-width="0.7" />
<line x1="422.40" y1="151.10" x2="424.00" y2="151.10" stroke="#777" stroke-width="0.5" />
<text x="422.10" y="152.10" font-size="2.9" text-anchor="end" fill="#707070">0</text>
<line x1="423.00" y1="148.62" x2="424.00" y2="148.62" stroke="#777" stroke-width="0.5" />
<line x1="422.40" y1="146.15" x2="424.00" y2="146.15" stroke="#777" stroke-width="0.5" />
<text x="422.10" y="147.15" font-size="2.9" text-anchor="end" fill="#707070">100</text>
<line x1="423.00" y1="143.68" x2="424.00" y2="143.68" stroke="#777" stroke-width="0.5" />
<line x1="422.40" y1="141.20" x2="424.00" y2="141.20" stroke="#777" stroke-width="0.5" />
<text x="422.10" y="142.20" font-size="2.9" text-anchor="end" fill="#707070">200</text>
<line x1="423.00" y1="138.73" x2="424.00" y2="138.73" stroke="#777" stroke-width="0.5" />
<line x1="422.40" y1="136.25" x2="424.00" y2="136.25" stroke="#777" stroke-width="0.5" />
<text x="422.10" y="137.25" font-size="2.9" text-anchor="end" fill="#707070">300</text>
<line x1="423.00" y1="133.78" x2="424.00" y2="133.78" stroke="#777" stroke-width="0.5" />
<line x1="422.40" y1="131.30" x2="424.00" y2="131.30" stroke="#777" stroke-width="0.5" />
<text x="422.10" y="132.30" font-size="2.9" text-anchor="end" fill="#707070">400</text>
<line x1="423.00" y1="128.83" x2="424.00" y2="128.83" stroke="#777" stroke-width="0.5" />
<line x1="422.40" y1="126.35" x2="424.00" y2="126.35" stroke="#777" stroke-width="0.5" />
<text x="422.10" y="127.35" font-size="2.9" text-anchor="end" fill="#707070">500</text>
<line x1="423.00" y1="123.88" x2="424.00" y2="123.88" stroke="#777" stroke-width="0.5" />
<line x1="422.40" y1="121.40" x2="424.00" y2="121.40" stroke="#777" stroke-width="0.5" />
<text x="422.10" y="122.40" font-size="2.9" text-anchor="end" fill="#707070">600</text>
<line x1="423.00" y1="118.93" x2="424.00" y2="118.93" stroke="#777" stroke-width="0.5" />
<line x1="422.40" y1="116.45" x2="424.00" y2="116.45" stroke="#777" stroke-width="0.5" />
<text x="422.10" y="117.45" font-size="2.9" text-anchor="end" fill="#707070">700</text>
<line x1="423.00" y1="113.98" x2="424.00" y2="113.98" stroke="#777" stroke-width="0.5" />
<line x1="422.40" y1="111.50" x2="424.00" y2="111.50" stroke="#777" stroke-width="0.5" />
<text x="422.10" y="112.50" font-size="2.9" text-anchor="end" fill="#707070">800</text>
<line x1="423.00" y1="109.03" x2="424.00" y2="109.03" stroke="#777" stroke-width="0.5" />
<line x1="422.40" y1="106.55" x2="424.00" y2="106.55" stroke="#777" stroke-width="0.5" />
<text x="422.10" y="107.55" font-size="2.9" text-anchor="end" fill="#707070">900</text>
<line x1="423.00" y1="104.08" x2="424.00" y2="104.08" stroke="#777" stroke-width="0.5" />
<line x1="422.40" y1="101.60" x2="424.00" y2="101.60" stroke="#777" stroke-width="0.5" />
<text x="422.10" y="102.60" font-size="2.9" text-anchor="end" fill="#707070">1000</text>
<line x1="423.00" y1="99.13" x2="424.00" y2="99.13" stroke="#777" stroke-width="0.5" />
<line x1="422.40" y1="96.65" x2="424.00" y2="96.65" stroke="#777" stroke-width="0.5" />
<text x="422.10" y="97.65" font-size="2.9" text-anchor="end" fill="#707070">1100</text>
<line x1="423.00" y1="94.18" x2="424.00" y2="94.18" stroke="#777" stroke-width="0.5" />
<line x1="422.40" y1="91.70" x2="424.00" y2="91.70" stroke="#777" stroke-width="0.5" />
<text x="422.10" y="92.70" font-size="2.9" text-anchor="end" fill="#707070">1200</text>
<line x1="423.00" y1="89.23" x2="424.00" y2="89.23" stroke="#777" stroke-width="0.5" />
<line x1="422.40" y1="86.75" x2="424.00" y2="86.75" stroke="#777" stroke-width="0.5" />
<text x="422.10" y="87.75" font-size="2.9" text-anchor="end" fill="#707070">1300</text>
<line x1="423.00" y1="84.28" x2="424.00" y2="84.28" stroke="#777" stroke-width="0.5" />
<line x1="422.40" y1="81.80" x2="424.00" y2="81.80" stroke="#777" stroke-width="0.5" />
<text x="422.10" y="82.80" font-size="2.9" text-anchor="end" fill="#707070">1400</text>
<line x1="423.00" y1="79.33" x2="424.00" y2="79.33" stroke="#777" stroke-width="0.5" />
<line x1="422.40" y1="76.85" x2="424.00" y2="76.85" stroke="#777" stroke-width="0.5" />
<text x="422.10" y="77.85" font-size="2.9" text-anchor="end" fill="#707070">1500</text>
<line x1="423.00" y1="74.38" x2="424.00" y2="74.38" stroke="#777" stroke-width="0.5" />
<line x1="422.40" y1="71.90" x2="424.00" y2="71.90" stroke="#777" stroke-width="0.5" />
<text x="422.10" y="72.90" font-size="2.9" text-anchor="end" fill="#707070">1600</text>
<line x1="423.00" y1="69.43" x2="424.00" y2="69.43" stroke="#777" stroke-width="0.5" />
<line x1="422.40" y1="66.95" x2="424.00" y2="66.95" stroke="#777" stroke-width="0.5" />
<text x="422.10" y="67.95" font-size="2.9" text-anchor="end" fill="#707070">1700</text>
<line x1="423.00" y1="64.48" x2="424.00" y2="64.48" stroke="#777" stroke-width="0.5" />
<line x1="422.40" y1="62.00" x2="424.00" y2="62.00" stroke="#777" stroke-width="0.5" />
<text x="422.10" y="63.00" font-size="2.9" text-anchor="end" fill="#707070">1800</text>
<line x1="423.00" y1="59.53" x2="424.00" y2="59.53" stroke="#777" stroke-width="0.5" />
<line x1="422.40" y1="57.05" x2="424.00" y2="57.05" stroke="#777" stroke-width="0.5" />
<text x="422.10" y="58.05" font-size="2.9" text-anchor="end" fill="#707070">1900</text>
<line x1="423.00" y1="54.58" x2="424.00" y2="54.58" stroke="#777" stroke-width="0.5" />
<line x1="422.40" y1="52.10" x2="424.00" y2="52.10" stroke="#777" stroke-width="0.5" />
<text x="422.10" y="53.10" font-size="2.9" text-anchor="end" fill="#707070">2000</text>
<line x1="423.00" y1="49.63" x2="424.00" y2="49.63" stroke="#777" stroke-width="0.5" />
<line x1="422.40" y1="47.15" x2="424.00" y2="47.15" stroke="#777" stroke-width="0.5" />
<text x="422.10" y="48.15" font-size="2.9" text-anchor="end" fill="#707070">2100</text>
<line x1="423.00" y1="44.68" x2="424.00" y2="44.68" stroke="#777" stroke-width="0.5" />
<line x1="422.40" y1="42.20" x2="424.00" y2="42.20" stroke="#777" stroke-width="0.5" />
<text x="422.10" y="43.20" font-size="2.9" text-anchor="end" fill="#707070">2200</text>
<line x1="423.00" y1="39.73" x2="424.00" y2="39.73" stroke="#777" stroke-width="0.5" />
<line x1="422.40" y1="37.25" x2="424.00" y2="37.25" stroke="#777" stroke-width="0.5" />
<text x="422.10" y="38.25" font-size="2.9" text-anchor="end" fill="#707070">2300</text>
<line x1="423.00" y1="34.78" x2="424.00" y2="34.78" stroke="#777" stroke-width="0.5" />
<line x1="422.40" y1="32.30" x2="424.00" y2="32.30" stroke="#777" stroke-width="0.5" />
<text x="422.10" y="33.30" font-size="2.9" text-anchor="end" fill="#707070">2400</text>
<line x1="423.00" y1="29.83" x2="424.00" y2="29.83" stroke="#777" stroke-width="0.5" />
<line x1="422.40" y1="27.35" x2="424.00" y2="27.35" stroke="#777" stroke-width="0.5" />
<text x="422.10" y="28.35" font-size="2.9" text-anchor="end" fill="#707070">2500</text>
<line x1="423.00" y1="24.88" x2="424.00" y2="24.88" stroke="#777" stroke-width="0.5" />
<line x1="422.40" y1="22.40" x2="424.00" y2="22.40" stroke="#777" stroke-width="0.5" />
<text x="422.10" y="23.40" font-size="2.9" text-anchor="end" fill="#707070">2600</text>
<line x1="423.00" y1="19.93" x2="424.00" y2="19.93" stroke="#777" stroke-width="0.5" />
<line x1="424.00" y1="151.10" x2="684.00" y2="151.10" stroke="#4a4a4a" stroke-width="0.8" />
<line x1="431.20" y1="151.10" x2="431.20" y2="152.60" stroke="#777" stroke-width="0.5" />
<text x="431.20" y="155.40" font-size="2.9" text-anchor="middle" fill="#707070">100</text>
<line x1="437.85" y1="151.10" x2="437.85" y2="152.00" stroke="#999" stroke-width="0.4" />
<line x1="444.50" y1="151.10" x2="444.50" y2="152.60" stroke="#777" stroke-width="0.5" />
<text x="444.50" y="155.40" font-size="2.9" text-anchor="middle" fill="#707070">150</text>
<line x1="451.15" y1="151.10" x2="451.15" y2="152.00" stroke="#999" stroke-width="0.4" />
<line x1="457.80" y1="151.10" x2="457.80" y2="152.60" stroke="#777" stroke-width="0.5" />
<text x="457.80" y="155.40" font-size="2.9" text-anchor="middle" fill="#707070">200</text>
<line x1="464.45" y1="151.10" x2="464.45" y2="152.00" stroke="#999" stroke-width="0.4" />
<line x1="471.10" y1="151.10" x2="471.10" y2="152.60" stroke="#777" stroke-width="0.5" />
<text x="471.10" y="155.40" font-size="2.9" text-anchor="middle" fill="#707070">250</text>
<line x1="477.75" y1="151.10" x2="477.75" y2="152.00" stroke="#999" stroke-width="0.4" />
<line x1="484.40" y1="151.10" x2="484.40" y2="152.60" stroke="#777" stroke-width="0.5" />
<text x="484.40" y="155.40" font-size="2.9" text-anchor="middle" fill="#707070">300</text>
<line x1="491.05" y1="151.10" x2="491.05" y2="152.00" stroke="#999" stroke-width="0.4" />
<line x1="497.70" y1="151.10" x2="497.70" y2="152.60" stroke="#777" stroke-width="0.5" />
<text x="497.70" y="155.40" font-size="2.9" text-anchor="middle" fill="#707070">350</text>
<line x1="504.35" y1="151.10" x2="504.35" y2="152.00" stroke="#999" stroke-width="0.4" />
<line x1="511.00" y1="151.10" x2="511.00" y2="152.60" stroke="#777" stroke-width="0.5" />
<text x="511.00" y="155.40" font-size="2.9" text-anchor="middle" fill="#707070">400</text>
<line x1="517.65" y1="151.10" x2="517.65" y2="152.00" stroke="#999" stroke-width="0.4" />
<line x1="524.30" y1="151.10" x2="524.30" y2="152.60" stroke="#777" stroke-width="0.5" />
<text x="524.30" y="155.40" font-size="2.9" text-anchor="middle" fill="#707070">450</text>
<line x1="530.95" y1="151.10" x2="530.95" y2="152.00" stroke="#999" stroke-width="0.4" />
<line x1="537.60" y1="151.10" x2="537.60" y2="152.60" stroke="#777" stroke-width="0.5" />
<text x="537.60" y="155.40" font-size="2.9" text-anchor="middle" fill="#707070">500</text>
<line x1="544.25" y1="151.10" x2="544.25" y2="152.00" stroke="#999" stroke-width="0.4" />
<line x1="550.90" y1="151.10" x2="550.90" y2="152.60" stroke="#777" stroke-width="0.5" />
<text x="550.90" y="155.40" font-size="2.9" text-anchor="middle" fill="#707070">550</text>
<line x1="557.55" y1="151.10" x2="557.55" y2="152.00" stroke="#999" stroke-width="0.4" />
<line x1="564.20" y1="151.10" x2="564.20" y2="152.60" stroke="#777" stroke-width="0.5" />
<text x="564.20" y="155.40" font-size="2.9" text-anchor="middle" fill="#707070">600</text>
<line x1="570.85" y1="151.10" x2="570.85" y2="152.00" stroke="#999" stroke-width="0.4" />
<line x1="577.50" y1="151.10" x2="577.50" y2="152.60" stroke="#777" stroke-width="0.5" />
<text x="577.50" y="155.40" font-size="2.9" text-anchor="middle" fill="#707070">650</text>
<line x1="584.15" y1="151.10" x2="584.15" y2="152.00" stroke="#999" stroke-width="0.4" />
<line x1="590.80" y1="151.10" x2="590.80" y2="152.60" stroke="#777" stroke-width="0.5" />
<text x="590.80" y="155.40" font-size="2.9" text-anchor="middle" fill="#707070">700</text>
<line x1="597.45" y1="151.10" x2="597.45" y2="152.00" stroke="#999" stroke-width="0.4" />
<line x1="604.10" y1="151.10" x2="604.10" y2="152.60" stroke="#777" stroke-width="0.5" />
<text x="604.10" y="155.40" font-size="2.9" text-anchor="middle" fill="#707070">750</text>
<line x1="610.75" y1="151.10" x2="610.75" y2="152.00" stroke="#999" stroke-width="0.4" />
<line x1="617.40" y1="151.10" x2="617.40" y2="152.60" stroke="#777" stroke-width="0.5" />
<text x="617.40" y="155.40" font-size="2.9" text-anchor="middle" fill="#707070">800</text>
<line x1="624.05" y1="151.10" x2="624.05" y2="152.00" stroke="#999" stroke-width="0.4" />
<line x1="630.70" y1="151.10" x2="630.70" y2="152.60" stroke="#777" stroke-width="0.5" />
<text x="630.70" y="155.40" font-size="2.9" text-anchor="middle" fill="#707070">850</text>
<line x1="637.35" y1="151.10" x2="637.35" y2="152.00" stroke="#999" stroke-width="0.4" />
<line x1="644.00" y1="151.10" x2="644.00" y2="152.60" stroke="#777" stroke-width="0.5" />
<text x="644.00" y="155.40" font-size="2.9" text-anchor="middle" fill="#707070">900</text>
<line x1="650.65" y1="151.10" x2="650.65" y2="152.00" stroke="#999" stroke-width="0.4" />
<line x1="657.30" y1="151.10" x2="657.30" y2="152.60" stroke="#777" stroke-width="0.5" />
<text x="657.30" y="155.40" font-size="2.9" text-anchor="middle" fill="#707070">950</text>
<line x1="663.95" y1="151.10" x2="663.95" y2="152.00" stroke="#999" stroke-width="0.4" />
<line x1="670.60" y1="151.10" x2="670.60" y2="152.60" stroke="#777" stroke-width="0.5" />
<text x="670.60" y="155.40" font-size="2.9" text-anchor="middle" fill="#707070">1000</text>
<line x1="677.25" y1="151.10" x2="677.25" y2="152.00" stroke="#999" stroke-width="0.4" />
<text x="0" y="0" font-size="8.3" font-weight="bold" text-anchor="middle" fill="#000" stroke="#000" stroke-width="0.18" transform="translate(411.50,86.00) rotate(-90)">Intensity (counts)</text>
<text x="552.30" y="166.80" font-size="8.2" font-weight="bold" text-anchor="middle" fill="#000" stroke="#000" stroke-width="0.180" >m/z</text>
<line x1="579.50" y1="150.41" x2="579.50" y2="151.10" stroke="rgb(162,162,162)" stroke-width="0.5" />
<line x1="457.50" y1="150.43" x2="457.50" y2="151.10" stroke="rgb(61,61,61)" stroke-width="0.5" />
<line x1="457.50" y1="149.92" x2="457.50" y2="151.10" stroke="rgb(84,84,84)" stroke-width="0.5" />
<line x1="557.50" y1="150.43" x2="557.50" y2="151.10" stroke="rgb(117,117,117)" stroke-width="0.5" />
<line x1="490.50" y1="148.03" x2="490.50" y2="151.10" stroke="rgb(115,115,115)" stroke-width="0.5" />
<line x1="577.50" y1="149.77" x2="577.50" y2="151.10" stroke="rgb(110,110,110)" stroke-width="0.5" />
<line x1="651.50" y1="150.37" x2="651.50" y2="151.10" stroke="rgb(87,87,87)" stroke-width="0.5" />
<line x1="658.50" y1="150.32" x2="658.50" y2="151.10" stroke="rgb(166,166,166)" stroke-width="0.5" />
<line x1="620.50" y1="148.76" x2="620.50" y2="151.10" stroke="rgb(77,77,77)" stroke-width="0.5" />
<line x1="543.50" y1="150.31" x2="543.50" y2="151.10" stroke="rgb(66,66,66)" stroke-width="0.5" />
<line x1="610.50" y1="150.50" x2="610.50" y2="151.10" stroke="rgb(140,140,140)" stroke-width="0.5" />
<line x1="591.50" y1="150.42" x2="591.50" y2="151.10" stroke="rgb(80,80,80)" stroke-width="0.5" />
<line x1="474.50" y1="149.18" x2="474.50" y2="151.10" stroke="rgb(108,108,108)" stroke-width="0.5" />
<line x1="617.50" y1="149.14" x2="617.50" y2="151.10" stroke="rgb(96,96,96)" stroke-width="0.5" />
<line x1="569.50" y1="149.00" x2="569.50" y2="151.10" stroke="rgb(65,65,65)" stroke-width="0.5" />
<line x1="550.50" y1="150.48" x2="550.50" y2="151.10" stroke="rgb(117,117,117)" stroke-width="0.5" />
<line x1="444.50" y1="150.28" x2="444.50" y2="151.10" stroke="rgb(102,102,102)" stroke-width="0.5" />
<line x1="652.50" y1="149.76" x2="652.50" y2="151.10" stroke="rgb(91,91,91)" stroke-width="0.5" />
<line x1="466.50" y1="147.41" x2="466.50" y2="151.10" stroke="rgb(87,87,87)" stroke-width="0.5" />
<line x1="537.50" y1="150.50" x2="537.50" y2="151.10" stroke="rgb(108,108,108)" stroke-width="0.5" />
<line x1="483.50" y1="150.40" x2="483.50" y2="151.10" stroke="rgb(143,143,143)" stroke-width="0.5" />
<line x1="511.50" y1="149.92" x2="511.50" y2="151.10" stroke="rgb(60,60,60)" stroke-width="0.5" />
<line x1="485.50" y1="148.05" x2="485.50" y2="151.10" stroke="rgb(78,78,78)" stroke-width="0.5" />
<line x1="543.50" y1="150.50" x2="543.50" y2="151.10" stroke="rgb(62,62,62)" stroke-width="0.5" />
<line x1="528.50" y1="149.38" x2="528.50" y2="151.10" stroke="rgb(70,70,70)" stroke-width="0.5" />
<line x1="567.50" y1="149.83" x2="567.50" y2="151.10" stroke="rgb(156,156,156)" stroke-width="0.5" />
<line x1="501.50" y1="147.30" x2="501.50" y2="151.10" stroke="rgb(160,160,160)" stroke-width="0.5" />
<line x1="620.50" y1="150.23" x2="620.50" y2="151.10" stroke="rgb(101,101,101)" stroke-width="0.5" />
<line x1="587.50" y1="149.96" x2="587.50" y2="151.10" stroke="rgb(96,96,96)" stroke-width="0.5" />
<line x1="588.50" y1="149.30" x2="588.50" y2="151.10" stroke="rgb(65,65,65)" stroke-width="0.5" />
<line x1="607.50" y1="148.86" x2="607.50" y2="151.10" stroke="rgb(125,125,125)" stroke-width="0.5" />
<line x1="573.50" y1="148.72" x2="573.50" y2="151.10" stroke="rgb(163,163,163)" stroke-width="0.5" />
<line x1="556.50" y1="147.11" x2="556.50" y2="151.10" stroke="rgb(156,156,156)" stroke-width="0.5" />
<line x1="556.50" y1="147.88" x2="556.50" y2="151.10" stroke="rgb(162,162,162)" stroke-width="0.5" />
<line x1="455.50" y1="149.04" x2="455.50" y2="151.10" stroke="rgb(162,162,162)" stroke-width="0.5" />
<line x1="623.50" y1="149.07" x2="623.50" y2="151.10" stroke="rgb(148,148,148)" stroke-width="0.5" />
<line x1="575.50" y1="150.50" x2="575.50" y2="151.10" stroke="rgb(65,65,65)" stroke-width="0.5" />
<line x1="496.50" y1="150.29" x2="496.50" y2="151.10" stroke="rgb(73,73,73)" stroke-width="0.5" />
<line x1="539.50" y1="150.09" x2="539.50" y2="151.10" stroke="rgb(66,66,66)" stroke-width="0.5" />
<line x1="573.50" y1="149.39" x2="573.50" y2="151.10" stroke="rgb(147,147,147)" stroke-width="0.5" />
<line x1="519.50" y1="150.42" x2="519.50" y2="151.10" stroke="rgb(118,118,118)" stroke-width="0.5" />
<line x1="601.50" y1="148.61" x2="601.50" y2="151.10" stroke="rgb(124,124,124)" stroke-width="0.5" />
<line x1="625.50" y1="150.50" x2="625.50" y2="151.10" stroke="rgb(127,127,127)" stroke-width="0.5" />
<line x1="478.50" y1="148.70" x2="478.50" y2="151.10" stroke="rgb(92,92,92)" stroke-width="0.5" />
<line x1="604.50" y1="147.77" x2="604.50" y2="151.10" stroke="rgb(90,90,90)" stroke-width="0.5" />
<line x1="589.50" y1="150.46" x2="589.50" y2="151.10" stroke="rgb(154,154,154)" stroke-width="0.5" />
<line x1="576.50" y1="150.06" x2="576.50" y2="151.10" stroke="rgb(168,168,168)" stroke-width="0.5" />
<line x1="540.50" y1="150.01" x2="540.50" y2="151.10" stroke="rgb(147,147,147)" stroke-width="0.5" />
<line x1="526.50" y1="150.50" x2="526.50" y2="151.10" stroke="rgb(140,140,140)" stroke-width="0.5" />
<line x1="575.50" y1="150.50" x2="575.50" y2="151.10" stroke="rgb(78,78,78)" stroke-width="0.5" />
<line x1="533.50" y1="149.26" x2="533.50" y2="151.10" stroke="rgb(148,148,148)" stroke-width="0.5" />
<line x1="529.50" y1="149.68" x2="529.50" y2="151.10" stroke="rgb(61,61,61)" stroke-width="0.5" />
<line x1="553.50" y1="149.98" x2="553.50" y2="151.10" stroke="rgb(146,146,146)" stroke-width="0.5" />
<line x1="488.50" y1="150.45" x2="488.50" y2="151.10" stroke="rgb(122,122,122)" stroke-width="0.5" />
<line x1="527.50" y1="149.88" x2="527.50" y2="151.10" stroke="rgb(119,119,119)" stroke-width="0.5" />
<line x1="551.50" y1="148.47" x2="551.50" y2="151.10" stroke="rgb(130,130,130)" stroke-width="0.5" />
<line x1="511.50" y1="146.29" x2="511.50" y2="151.10" stroke="rgb(120,120,120)" stroke-width="0.5" />
<line x1="456.50" y1="150.06" x2="456.50" y2="151.10" stroke="rgb(164,164,164)" stroke-width="0.5" />
<line x1="556.50" y1="146.07" x2="556.50" y2="151.10" stroke="rgb(94,94,94)" stroke-width="0.5" />
<line x1="541.50" y1="147.04" x2="541.50" y2="151.10" stroke="rgb(86,86,86)" stroke-width="0.5" />
<line x1="481.50" y1="150.50" x2="481.50" y2="151.10" stroke="rgb(155,155,155)" stroke-width="0.5" />
<line x1="559.50" y1="146.61" x2="559.50" y2="151.10" stroke="rgb(76,76,76)" stroke-width="0.5" />
<line x1="569.50" y1="149.37" x2="569.50" y2="151.10" stroke="rgb(95,95,95)" stroke-width="0.5" />
<line x1="622.50" y1="148.93" x2="622.50" y2="151.10" stroke="rgb(89,89,89)" stroke-width="0.5" />
<line x1="555.50" y1="147.47" x2="555.50" y2="151.10" stroke="rgb(110,110,110)" stroke-width="0.5" />
<line x1="461.50" y1="150.50" x2="461.50" y2="151.10" stroke="rgb(122,122,122)" stroke-width="0.5" />
<line x1="581.50" y1="150.20" x2="581.50" y2="151.10" stroke="rgb(153,153,153)" stroke-width="0.5" />
<line x1="498.50" y1="150.32" x2="498.50" y2="151.10" stroke="rgb(100,100,100)" stroke-width="0.5" />
<line x1="493.50" y1="150.34" x2="493.50" y2="151.10" stroke="rgb(101,101,101)" stroke-width="0.5" />
<line x1="593.50" y1="147.84" x2="593.50" y2="151.10" stroke="rgb(75,75,75)" stroke-width="0.5" />
<line x1="638.50" y1="150.47" x2="638.50" y2="151.10" stroke="rgb(61,61,61)" stroke-width="0.5" />
<line x1="626.50" y1="150.39" x2="626.50" y2="151.10" stroke="rgb(107,107,107)" stroke-width="0.5" />
<line x1="477.50" y1="150.23" x2="477.50" y2="151.10" stroke="rgb(135,135,135)" stroke-width="0.5" />
<line x1="481.50" y1="146.93" x2="481.50" y2="151.10" stroke="rgb(156,156,156)" stroke-width="0.5" />
<line x1="524.50" y1="150.50" x2="524.50" y2="151.10" stroke="rgb(73,73,73)" stroke-width="0.5" />
<line x1="473.50" y1="149.19" x2="473.50" y2="151.10" stroke="rgb(141,141,141)" stroke-width="0.5" />
<line x1="636.50" y1="150.43" x2="636.50" y2="151.10" stroke="rgb(94,94,94)" stroke-width="0.5" />
<line x1="547.50" y1="150.36" x2="547.50" y2="151.10" stroke="rgb(158,158,158)" stroke-width="0.5" />
<line x1="539.50" y1="146.57" x2="539.50" y2="151.10" stroke="rgb(63,63,63)" stroke-width="0.5" />
<line x1="604.50" y1="149.37" x2="604.50" y2="151.10" stroke="rgb(130,130,130)" stroke-width="0.5" />
<line x1="562.50" y1="148.82" x2="562.50" y2="151.10" stroke="rgb(66,66,66)" stroke-width="0.5" />
<line x1="636.50" y1="150.19" x2="636.50" y2="151.10" stroke="rgb(138,138,138)" stroke-width="0.5" />
<line x1="593.50" y1="149.30" x2="593.50" y2="151.10" stroke="rgb(96,96,96)" stroke-width="0.5" />
<line x1="554.50" y1="147.09" x2="554.50" y2="151.10" stroke="rgb(130,130,130)" stroke-width="0.5" />
<line x1="495.50" y1="150.03" x2="495.50" y2="151.10" stroke="rgb(103,103,103)" stroke-width="0.5" />
<line x1="525.50" y1="150.42" x2="525.50" y2="151.10" stroke="rgb(154,154,154)" stroke-width="0.5" />
<line x1="654.50" y1="150.42" x2="654.50" y2="151.10" stroke="rgb(143,143,143)" stroke-width="0.5" />
<line x1="518.50" y1="149.99" x2="518.50" y2="151.10" stroke="rgb(145,145,145)" stroke-width="0.5" />
<line x1="542.50" y1="150.48" x2="542.50" y2="151.10" stroke="rgb(80,80,80)" stroke-width="0.5" />
<line x1="481.50" y1="149.94" x2="481.50" y2="151.10" stroke="rgb(163,163,163)" stroke-width="0.5" />
<line x1="555.50" y1="150.45" x2="555.50" y2="151.10" stroke="rgb(102,102,102)" stroke-width="0.5" />
<line x1="671.50" y1="150.09" x2="671.50" y2="151.10" stroke="rgb(77,77,77)" stroke-width="0.5" />
<line x1="562.50" y1="150.43" x2="562.50" y2="151.10" stroke="rgb(82,82,82)" stroke-width="0.5" />
<line x1="534.50" y1="150.50" x2="534.50" y2="151.10" stroke="rgb(90,90,90)" stroke-width="0.5" />
<line x1="538.50" y1="148.11" x2="538.50" y2="151.10" stroke="rgb(85,85,85)" stroke-width="0.5" />
<line x1="622.50" y1="148.60" x2="622.50" y2="151.10" stroke="rgb(112,112,112)" stroke-width="0.5" />
<line x1="540.50" y1="148.63" x2="540.50" y2="151.10" stroke="rgb(86,86,86)" stroke-width="0.5" />
<line x1="539.50" y1="150.33" x2="539.50" y2="151.10" stroke="rgb(67,67,67)" stroke-width="0.5" />
<line x1="555.50" y1="149.65" x2="555.50" y2="151.10" stroke="rgb(106,106,106)" stroke-width="0.5" />
<line x1="495.50" y1="149.93" x2="495.50" y2="151.10" stroke="rgb(140,140,140)" stroke-width="0.5" />
<line x1="600.50" y1="147.75" x2="600.50" y2="151.10" stroke="rgb(71,71,71)" stroke-width="0.5" />
<line x1="523.50" y1="150.43" x2="523.50" y2="151.10" stroke="rgb(111,111,111)" stroke-width="0.5" />
<line x1="575.50" y1="150.14" x2="575.50" y2="151.10" stroke="rgb(99,99,99)" stroke-width="0.5" />
<line x1="612.50" y1="147.51" x2="612.50" y2="151.10" stroke="rgb(62,62,62)" stroke-width="0.5" />
<line x1="495.50" y1="150.15" x2="495.50" y2="151.10" stroke="rgb(157,157,157)" stroke-width="0.5" />
<line x1="624.50" y1="150.02" x2="624.50" y2="151.10" stroke="rgb(135,135,135)" stroke-width="0.5" />
<line x1="554.50" y1="150.50" x2="554.50" y2="151.10" stroke="rgb(165,165,165)" stroke-width="0.5" />
<line x1="559.50" y1="150.04" x2="559.50" y2="151.10" stroke="rgb(117,117,117)" stroke-width="0.5" />
<line x1="519.50" y1="150.49" x2="519.50" y2="151.10" stroke="rgb(79,79,79)" stroke-width="0.5" />
<line x1="501.50" y1="146.37" x2="501.50" y2="151.10" stroke="rgb(73,73,73)" stroke-width="0.5" />
<line x1="638.50" y1="148.81" x2="638.50" y2="151.10" stroke="rgb(142,142,142)" stroke-width="0.5" />
<line x1="612.50" y1="147.28" x2="612.50" y2="151.10" stroke="rgb(70,70,70)" stroke-width="0.5" />
<line x1="562.50" y1="150.50" x2="562.50" y2="151.10" stroke="rgb(160,160,160)" stroke-width="0.5" />
<line x1="495.50" y1="149.67" x2="495.50" y2="151.10" stroke="rgb(64,64,64)" stroke-width="0.5" />
<line x1="575.50" y1="150.37" x2="575.50" y2="151.10" stroke="rgb(76,76,76)" stroke-width="0.5" />
<line x1="573.50" y1="149.84" x2="573.50" y2="151.10" stroke="rgb(115,115,115)" stroke-width="0.5" />
<line x1="584.50" y1="150.49" x2="584.50" y2="151.10" stroke="rgb(69,69,69)" stroke-width="0.5" />
<line x1="528.50" y1="146.72" x2="528.50" y2="151.10" stroke="rgb(84,84,84)" stroke-width="0.5" />
<line x1="541.50" y1="150.45" x2="541.50" y2="151.10" stroke="rgb(136,136,136)" stroke-width="0.5" />
<line x1="439.50" y1="149.80" x2="439.50" y2="151.10" stroke="rgb(118,118,118)" stroke-width="0.5" />
<line x1="525.50" y1="150.36" x2="525.50" y2="151.10" stroke="rgb(167,167,167)" stroke-width="0.5" />
<line x1="621.50" y1="150.02" x2="621.50" y2="151.10" stroke="rgb(90,90,90)" stroke-width="0.5" />
<line x1="562.50" y1="150.50" x2="562.50" y2="151.10" stroke="rgb(112,112,112)" stroke-width="0.5" />
<line x1="585.50" y1="150.37" x2="585.50" y2="151.10" stroke="rgb(62,62,62)" stroke-width="0.5" />
<line x1="510.50" y1="147.38" x2="510.50" y2="151.10" stroke="rgb(142,142,142)" stroke-width="0.5" />
<line x1="545.50" y1="150.42" x2="545.50" y2="151.10" stroke="rgb(145,145,145)" stroke-width="0.5" />
<line x1="546.50" y1="150.27" x2="546.50" y2="151.10" stroke="rgb(123,123,123)" stroke-width="0.5" />
<line x1="465.50" y1="150.33" x2="465.50" y2="151.10" stroke="rgb(113,113,113)" stroke-width="0.5" />
<line x1="537.50" y1="150.22" x2="537.50" y2="151.10" stroke="rgb(60,60,60)" stroke-width="0.5" />
<line x1="601.50" y1="148.68" x2="601.50" y2="151.10" stroke="rgb(124,124,124)" stroke-width="0.5" />
<line x1="558.00" y1="19.20" x2="558.00" y2="151.10" stroke="#c4c4c4" stroke-width="1.9" />
<line x1="557.50" y1="103.40" x2="557.50" y2="151.10" stroke="#383838" stroke-width="1.0" />
<text x="558.00" y="18.30" font-size="2.8" text-anchor="middle" fill="#6a6a6a" font-weight="normal">288.4362</text>
<line x1="588.00" y1="51.60" x2="588.00" y2="151.10" stroke="#c4c4c4" stroke-width="1.9" />
<line x1="587.50" y1="118.00" x2="587.50" y2="151.10" stroke="#383838" stroke-width="1.0" />
<text x="588.00" y="50.70" font-size="2.8" text-anchor="middle" fill="#6a6a6a" font-weight="normal">1165.4283</text>
<line x1="531.00" y1="43.50" x2="531.00" y2="151.10" stroke="#c4c4c4" stroke-width="1.9" />
<text x="531.00" y="42.60" font-size="2.8" text-anchor="middle" fill="#6a6a6a" font-weight="normal">788.4177</text>
<line x1="482.50" y1="108.60" x2="482.50" y2="151.10" stroke="#505050" stroke-width="0.9" />
<text x="482.50" y="107.70" font-size="2.8" text-anchor="middle" fill="#6a6a6a" font-weight="normal">622.8620</text>
<line x1="470.50" y1="136.20" x2="470.50" y2="151.10" stroke="#505050" stroke-width="0.9" />
<text x="470.50" y="135.30" font-size="2.8" text-anchor="middle" fill="#6a6a6a" font-weight="normal">603.5342</text>
<line x1="512.50" y1="126.00" x2="512.50" y2="151.10" stroke="#505050" stroke-width="0.9" />
<text x="512.50" y="125.10" font-size="2.8" text-anchor="middle" fill="#6a6a6a" font-weight="normal">754.2785</text>
<line x1="500.50" y1="141.30" x2="500.50" y2="151.10" stroke="#505050" stroke-width="0.9" />
<text x="500.50" y="140.40" font-size="2.8" text-anchor="middle" fill="#6a6a6a" font-weight="normal">1165.4068</text>
<line x1="539.50" y1="137.20" x2="539.50" y2="151.10" stroke="#505050" stroke-width="0.9" />
<text x="539.50" y="136.30" font-size="2.8" text-anchor="middle" fill="#6a6a6a" font-weight="normal">607.8947</text>
<line x1="546.50" y1="135.00" x2="546.50" y2="151.10" stroke="#505050" stroke-width="0.9" />
<text x="546.50" y="134.10" font-size="2.8" text-anchor="middle" fill="#6a6a6a" font-weight="normal">1004.1924</text>
<line x1="550.50" y1="129.00" x2="550.50" y2="151.10" stroke="#505050" stroke-width="0.9" />
<text x="550.50" y="128.10" font-size="2.8" text-anchor="middle" fill="#6a6a6a" font-weight="normal">1368.3398</text>
<line x1="554.50" y1="126.00" x2="554.50" y2="151.10" stroke="#505050" stroke-width="0.9" />
<line x1="569.50" y1="133.00" x2="569.50" y2="151.10" stroke="#505050" stroke-width="0.9" />
<text x="569.50" y="132.10" font-size="2.8" text-anchor="middle" fill="#6a6a6a" font-weight="normal">955.1890</text>
<line x1="580.50" y1="141.50" x2="580.50" y2="151.10" stroke="#505050" stroke-width="0.9" />
<text x="580.50" y="140.60" font-size="2.8" text-anchor="middle" fill="#6a6a6a" font-weight="normal">586.1387</text>
<line x1="607.50" y1="143.60" x2="607.50" y2="151.10" stroke="#505050" stroke-width="0.9" />
<text x="607.50" y="142.70" font-size="2.8" text-anchor="middle" fill="#6a6a6a" font-weight="normal">1370.3325</text>
<line x1="619.50" y1="127.30" x2="619.50" y2="151.10" stroke="#505050" stroke-width="0.9" />
<text x="619.50" y="126.40" font-size="2.8" text-anchor="middle" fill="#6a6a6a" font-weight="normal">1000.1849</text>
<line x1="649.50" y1="128.80" x2="649.50" y2="151.10" stroke="#505050" stroke-width="0.9" />
<text x="649.50" y="127.90" font-size="2.8" text-anchor="middle" fill="#6a6a6a" font-weight="normal">273.4016</text>
<line x1="676.50" y1="107.60" x2="676.50" y2="151.10" stroke="#505050" stroke-width="0.9" />
<text x="676.50" y="106.70" font-size="2.8" text-anchor="middle" fill="#6a6a6a" font-weight="normal">955.8366</text>
<line x1="462.50" y1="143.40" x2="462.50" y2="151.10" stroke="#505050" stroke-width="0.9" />
<text x="462.50" y="142.50" font-size="2.8" text-anchor="middle" fill="#6a6a6a" font-weight="normal">793.2854</text>
<line x1="508.50" y1="141.30" x2="508.50" y2="151.10" stroke="#505050" stroke-width="0.9" />
<text x="508.50" y="140.40" font-size="2.8" text-anchor="middle" fill="#6a6a6a" font-weight="normal">312.3713</text>
<line x1="492.50" y1="147.40" x2="492.50" y2="151.10" stroke="#505050" stroke-width="0.9" />
<text x="492.50" y="146.50" font-size="2.8" text-anchor="middle" fill="#6a6a6a" font-weight="normal">824.4124</text>
<line x1="452.50" y1="148.50" x2="452.50" y2="151.10" stroke="#505050" stroke-width="0.9" />
<text x="452.50" y="147.60" font-size="2.8" text-anchor="middle" fill="#6a6a6a" font-weight="normal">529.9598</text>
<line x1="637.50" y1="142.00" x2="637.50" y2="151.10" stroke="#505050" stroke-width="0.9" />
<text x="637.50" y="141.10" font-size="2.8" text-anchor="middle" fill="#6a6a6a" font-weight="normal">1107.1522</text>
<line x1="671.50" y1="143.60" x2="671.50" y2="151.10" stroke="#505050" stroke-width="0.9" />
<text x="671.50" y="142.70" font-size="2.8" text-anchor="middle" fill="#6a6a6a" font-weight="normal">788.7203</text>
<line x1="595.50" y1="144.70" x2="595.50" y2="151.10" stroke="#505050" stroke-width="0.9" />
<line x1="573.50" y1="144.70" x2="573.50" y2="151.10" stroke="#505050" stroke-width="0.9" />
<line x1="628.50" y1="145.00" x2="628.50" y2="151.10" stroke="#505050" stroke-width="0.9" />
<text x="628.50" y="144.10" font-size="2.8" text-anchor="middle" fill="#6a6a6a" font-weight="normal">915.6434</text>
<line x1="525.50" y1="146.00" x2="525.50" y2="151.10" stroke="#505050" stroke-width="0.9" />
<text x="525.50" y="145.10" font-size="2.8" text-anchor="middle" fill="#6a6a6a" font-weight="normal">1056.3773</text>
<line x1="614.50" y1="146.00" x2="614.50" y2="151.10" stroke="#505050" stroke-width="0.9" />
<text x="531.50" y="39.30" font-size="5.6" font-weight="bold" text-anchor="middle" fill="#000">b<tspan font-size="3.58" dy="1.2">3</tspan></text>
<text x="589.00" y="41.70" font-size="5.6" font-weight="bold" text-anchor="middle" fill="#000">y<tspan font-size="3.58" dy="1.2">6</tspan></text>
<text x="482.30" y="99.10" font-size="5.6" font-weight="bold" text-anchor="middle" fill="#000">y<tspan font-size="3.58" dy="1.2">1</tspan></text>
<text x="470.50" y="129.20" font-size="5.6" font-weight="bold" text-anchor="middle" fill="#000">b<tspan font-size="3.58" dy="1.2">1</tspan></text>
<text x="512.40" y="117.50" font-size="5.6" font-weight="bold" text-anchor="middle" fill="#000">y<tspan font-size="3.58" dy="1.2">2</tspan></text>
<text x="500.70" y="133.40" font-size="5.6" font-weight="bold" text-anchor="middle" fill="#000">b<tspan font-size="3.58" dy="1.2">2</tspan></text>
<text x="539.60" y="123.70" font-size="5.6" font-weight="bold" text-anchor="middle" fill="#000">y<tspan font-size="3.58" dy="1.2">3</tspan></text>
<text x="549.60" y="116.20" font-size="5.6" font-weight="bold" text-anchor="middle" fill="#000">b<tspan font-size="3.58" dy="1.2">4</tspan></text>
<text x="569.60" y="124.30" font-size="5.6" font-weight="bold" text-anchor="middle" fill="#000">y<tspan font-size="3.58" dy="1.2">4</tspan></text>
<text x="580.60" y="133.80" font-size="5.6" font-weight="bold" text-anchor="middle" fill="#000">b<tspan font-size="3.58" dy="1.2">5</tspan></text>
<text x="607.30" y="137.00" font-size="5.6" font-weight="bold" text-anchor="middle" fill="#000">b<tspan font-size="3.58" dy="1.2">6</tspan></text>
<text x="619.40" y="118.50" font-size="5.6" font-weight="bold" text-anchor="middle" fill="#000">y<tspan font-size="3.58" dy="1.2">6</tspan></text>
<text x="649.40" y="121.10" font-size="5.6" font-weight="bold" text-anchor="middle" fill="#000">y<tspan font-size="3.58" dy="1.2">7</tspan></text>
<rect x="428.10" y="19.40" width="97.50" height="47.90" fill="none" stroke="#555" stroke-width="0.75"/>
<line x1="442.30" y1="23.60" x2="442.30" y2="52.20" stroke="#999" stroke-width="0.5" />
<line x1="441.10" y1="52.20" x2="442.30" y2="52.20" stroke="#999" stroke-width="0.4" />
<text x="440.70" y="52.80" font-size="1.7" text-anchor="end" fill="#888">0</text>
<line x1="441.10" y1="48.90" x2="442.30" y2="48.90" stroke="#999" stroke-width="0.4" />
<text x="440.70" y="49.50" font-size="1.7" text-anchor="end" fill="#888">500</text>
<line x1="441.10" y1="45.60" x2="442.30" y2="45.60" stroke="#999" stroke-width="0.4" />
<text x="440.70" y="46.20" font-size="1.7" text-anchor="end" fill="#888">1000</text>
<line x1="441.10" y1="42.30" x2="442.30" y2="42.30" stroke="#999" stroke-width="0.4" />
<text x="440.70" y="42.90" font-size="1.7" text-anchor="end" fill="#888">1500</text>
<line x1="441.10" y1="39.00" x2="442.30" y2="39.00" stroke="#999" stroke-width="0.4" />
<text x="440.70" y="39.60" font-size="1.7" text-anchor="end" fill="#888">2000</text>
<line x1="441.10" y1="35.70" x2="442.30" y2="35.70" stroke="#999" stroke-width="0.4" />
<text x="440.70" y="36.30" font-size="1.7" text-anchor="end" fill="#888">2500</text>
<line x1="441.10" y1="32.40" x2="442.30" y2="32.40" stroke="#999" stroke-width="0.4" />
<text x="440.70" y="33.00" font-size="1.7" text-anchor="end" fill="#888">3000</text>
<line x1="441.10" y1="29.10" x2="442.30" y2="29.10" stroke="#999" stroke-width="0.4" />
<text x="440.70" y="29.70" font-size="1.7" text-anchor="end" fill="#888">3500</text>
<line x1="441.10" y1="25.80" x2="442.30" y2="25.80" stroke="#999" stroke-width="0.4" />
<text x="440.70" y="26.40" font-size="1.7" text-anchor="end" fill="#888">4000</text>
<line x1="442.30" y1="52.20" x2="521.10" y2="52.20" stroke="#b8b8b8" stroke-width="0.6" />
<text x="0" y="0" font-size="3.6" text-anchor="middle" fill="#333" transform="translate(433.80,38.40) rotate(-90)">Intensity (counts)</text>
<line x1="453.65" y1="52.20" x2="453.65" y2="53.00" stroke="#aaa" stroke-width="0.4" />
<text x="453.65" y="59.10" font-size="4.1" font-weight="bold" text-anchor="middle" fill="#000" >114</text>
<line x1="474.00" y1="52.20" x2="474.00" y2="53.00" stroke="#aaa" stroke-width="0.4" />
<text x="474.00" y="59.10" font-size="4.1" font-weight="bold" text-anchor="middle" fill="#000" >115</text>
<line x1="494.35" y1="52.20" x2="494.35" y2="53.00" stroke="#aaa" stroke-width="0.4" />
<text x="494.35" y="59.10" font-size="4.1" font-weight="bold" text-anchor="middle" fill="#000" >116</text>
<line x1="514.70" y1="52.20" x2="514.70" y2="53.00" stroke="#aaa" stroke-width="0.4" />
<text x="514.70" y="59.10" font-size="4.1" font-weight="bold" text-anchor="middle" fill="#000" >117</text>
<text x="482.80" y="65.80" font-size="4.0" font-weight="bold" text-anchor="middle" fill="#000" >m/z</text>
<line x1="474.50" y1="41.00" x2="474.50" y2="52.20" stroke="#78aade" stroke-width="0.85" />
<line x1="514.50" y1="30.60" x2="514.50" y2="52.20" stroke="#78aade" stroke-width="0.85" />
<text x="473.30" y="37.20" font-size="4.7" font-weight="bold" text-anchor="middle" fill="#000" >115.11</text>
<text x="513.00" y="26.90" font-size="4.7" font-weight="bold" text-anchor="middle" fill="#000" >117.11</text>
<line x1="531.10" y1="24.70" x2="551.50" y2="24.70" stroke="#111" stroke-width="0.9" />
<path d="M527.80,24.70 L532.00,22.80 L532.00,26.60 Z" fill="#111"/>
</g>
<g>
<text x="32.00" y="205.40" font-size="9.6" font-weight="bold" text-anchor="start" fill="#000" stroke="#000" stroke-width="0.211" >BabA</text>
<text x="72.80" y="206.30" font-size="8.2" font-weight="bold" text-anchor="start" fill="#000" stroke="#000" stroke-width="0.180" >Peptide : vPNAQSLQNVVSk</text>
<text x="338.60" y="205.70" font-size="8.3" font-weight="bold" text-anchor="end" fill="#000" stroke="#000" stroke-width="0.183" >117/115 ratio : 1.639</text>
<line x1="81.40" y1="213.00" x2="81.40" y2="345.00" stroke="#707070" stroke-width="0.7" />
<line x1="79.80" y1="344.50" x2="81.40" y2="344.50" stroke="#777" stroke-width="0.5" />
<text x="79.50" y="345.50" font-size="2.9" text-anchor="end" fill="#707070">0</text>
<line x1="80.40" y1="340.85" x2="81.40" y2="340.85" stroke="#777" stroke-width="0.5" />
<line x1="79.80" y1="337.20" x2="81.40" y2="337.20" stroke="#777" stroke-width="0.5" />
<text x="79.50" y="338.20" font-size="2.9" text-anchor="end" fill="#707070">700</text>
<line x1="80.40" y1="333.55" x2="81.40" y2="333.55" stroke="#777" stroke-width="0.5" />
<line x1="79.80" y1="329.90" x2="81.40" y2="329.90" stroke="#777" stroke-width="0.5" />
<text x="79.50" y="330.90" font-size="2.9" text-anchor="end" fill="#707070">1400</text>
<line x1="80.40" y1="326.25" x2="81.40" y2="326.25" stroke="#777" stroke-width="0.5" />
<line x1="79.80" y1="322.60" x2="81.40" y2="322.60" stroke="#777" stroke-width="0.5" />
<text x="79.50" y="323.60" font-size="2.9" text-anchor="end" fill="#707070">2100</text>
<line x1="80.40" y1="318.95" x2="81.40" y2="318.95" stroke="#777" stroke-width="0.5" />
<line x1="79.80" y1="315.30" x2="81.40" y2="315.30" stroke="#777" stroke-width="0.5" />
<text x="79.50" y="316.30" font-size="2.9" text-anchor="end" fill="#707070">2800</text>
<line x1="80.40" y1="311.65" x2="81.40" y2="311.65" stroke="#777" stroke-width="0.5" />
<line x1="79.80" y1="308.00" x2="81.40" y2="308.00" stroke="#777" stroke-width="0.5" />
<text x="79.50" y="309.00" font-size="2.9" text-anchor="end" fill="#707070">3500</text>
<line x1="80.40" y1="304.35" x2="81.40" y2="304.35" stroke="#777" stroke-width="0.5" />
<line x1="79.80" y1="300.70" x2="81.40" y2="300.70" stroke="#777" stroke-width="0.5" />
<text x="79.50" y="301.70" font-size="2.9" text-anchor="end" fill="#707070">4200</text>
<line x1="80.40" y1="297.05" x2="81.40" y2="297.05" stroke="#777" stroke-width="0.5" />
<line x1="79.80" y1="293.40" x2="81.40" y2="293.40" stroke="#777" stroke-width="0.5" />
<text x="79.50" y="294.40" font-size="2.9" text-anchor="end" fill="#707070">4900</text>
<line x1="80.40" y1="289.75" x2="81.40" y2="289.75" stroke="#777" stroke-width="0.5" />
<line x1="79.80" y1="286.10" x2="81.40" y2="286.10" stroke="#777" stroke-width="0.5" />
<text x="79.50" y="287.10" font-size="2.9" text-anchor="end" fill="#707070">5600</text>
<line x1="80.40" y1="282.45" x2="81.40" y2="282.45" stroke="#777" stroke-width="0.5" />
<line x1="79.80" y1="278.80" x2="81.40" y2="278.80" stroke="#777" stroke-width="0.5" />
<text x="79.50" y="279.80" font-size="2.9" text-anchor="end" fill="#707070">6300</text>
<line x1="80.40" y1="275.15" x2="81.40" y2="275.15" stroke="#777" stroke-width="0.5" />
<line x1="79.80" y1="271.50" x2="81.40" y2="271.50" stroke="#777" stroke-width="0.5" />
<text x="79.50" y="272.50" font-size="2.9" text-anchor="end" fill="#707070">7000</text>
<line x1="80.40" y1="267.85" x2="81.40" y2="267.85" stroke="#777" stroke-width="0.5" />
<line x1="79.80" y1="264.20" x2="81.40" y2="264.20" stroke="#777" stroke-width="0.5" />
<text x="79.50" y="265.20" font-size="2.9" text-anchor="end" fill="#707070">7700</text>
<line x1="80.40" y1="260.55" x2="81.40" y2="260.55" stroke="#777" stroke-width="0.5" />
<line x1="79.80" y1="256.90" x2="81.40" y2="256.90" stroke="#777" stroke-width="0.5" />
<text x="79.50" y="257.90" font-size="2.9" text-anchor="end" fill="#707070">8400</text>
<line x1="80.40" y1="253.25" x2="81.40" y2="253.25" stroke="#777" stroke-width="0.5" />
<line x1="79.80" y1="249.60" x2="81.40" y2="249.60" stroke="#777" stroke-width="0.5" />
<text x="79.50" y="250.60" font-size="2.9" text-anchor="end" fill="#707070">9100</text>
<line x1="80.40" y1="245.95" x2="81.40" y2="245.95" stroke="#777" stroke-width="0.5" />
<line x1="79.80" y1="242.30" x2="81.40" y2="242.30" stroke="#777" stroke-width="0.5" />
<text x="79.50" y="243.30" font-size="2.9" text-anchor="end" fill="#707070">9800</text>
<line x1="80.40" y1="238.65" x2="81.40" y2="238.65" stroke="#777" stroke-width="0.5" />
<line x1="79.80" y1="235.00" x2="81.40" y2="235.00" stroke="#777" stroke-width="0.5" />
<text x="79.50" y="236.00" font-size="2.9" text-anchor="end" fill="#707070">10500</text>
<line x1="80.40" y1="231.35" x2="81.40" y2="231.35" stroke="#777" stroke-width="0.5" />
<line x1="79.80" y1="227.70" x2="81.40" y2="227.70" stroke="#777" stroke-width="0.5" />
<text x="79.50" y="228.70" font-size="2.9" text-anchor="end" fill="#707070">11200</text>
<line x1="80.40" y1="224.05" x2="81.40" y2="224.05" stroke="#777" stroke-width="0.5" />
<line x1="79.80" y1="220.40" x2="81.40" y2="220.40" stroke="#777" stroke-width="0.5" />
<text x="79.50" y="221.40" font-size="2.9" text-anchor="end" fill="#707070">11900</text>
<line x1="80.40" y1="216.75" x2="81.40" y2="216.75" stroke="#777" stroke-width="0.5" />
<line x1="79.80" y1="213.10" x2="81.40" y2="213.10" stroke="#777" stroke-width="0.5" />
<text x="79.50" y="214.10" font-size="2.9" text-anchor="end" fill="#707070">12600</text>
<line x1="81.40" y1="344.50" x2="336.50" y2="344.50" stroke="#4a4a4a" stroke-width="0.8" />
<line x1="98.80" y1="344.50" x2="98.80" y2="346.00" stroke="#777" stroke-width="0.5" />
<text x="98.80" y="348.80" font-size="2.9" text-anchor="middle" fill="#707070">200</text>
<line x1="108.20" y1="344.50" x2="108.20" y2="345.40" stroke="#999" stroke-width="0.4" />
<line x1="117.60" y1="344.50" x2="117.60" y2="346.00" stroke="#777" stroke-width="0.5" />
<text x="117.60" y="348.80" font-size="2.9" text-anchor="middle" fill="#707070">300</text>
<line x1="127.00" y1="344.50" x2="127.00" y2="345.40" stroke="#999" stroke-width="0.4" />
<line x1="136.40" y1="344.50" x2="136.40" y2="346.00" stroke="#777" stroke-width="0.5" />
<text x="136.40" y="348.80" font-size="2.9" text-anchor="middle" fill="#707070">400</text>
<line x1="145.80" y1="344.50" x2="145.80" y2="345.40" stroke="#999" stroke-width="0.4" />
<line x1="155.20" y1="344.50" x2="155.20" y2="346.00" stroke="#777" stroke-width="0.5" />
<text x="155.20" y="348.80" font-size="2.9" text-anchor="middle" fill="#707070">500</text>
<line x1="164.60" y1="344.50" x2="164.60" y2="345.40" stroke="#999" stroke-width="0.4" />
<line x1="174.00" y1="344.50" x2="174.00" y2="346.00" stroke="#777" stroke-width="0.5" />
<text x="174.00" y="348.80" font-size="2.9" text-anchor="middle" fill="#707070">600</text>
<line x1="183.40" y1="344.50" x2="183.40" y2="345.40" stroke="#999" stroke-width="0.4" />
<line x1="192.80" y1="344.50" x2="192.80" y2="346.00" stroke="#777" stroke-width="0.5" />
<text x="192.80" y="348.80" font-size="2.9" text-anchor="middle" fill="#707070">700</text>
<line x1="202.20" y1="344.50" x2="202.20" y2="345.40" stroke="#999" stroke-width="0.4" />
<line x1="211.60" y1="344.50" x2="211.60" y2="346.00" stroke="#777" stroke-width="0.5" />
<text x="211.60" y="348.80" font-size="2.9" text-anchor="middle" fill="#707070">800</text>
<line x1="221.00" y1="344.50" x2="221.00" y2="345.40" stroke="#999" stroke-width="0.4" />
<line x1="230.40" y1="344.50" x2="230.40" y2="346.00" stroke="#777" stroke-width="0.5" />
<text x="230.40" y="348.80" font-size="2.9" text-anchor="middle" fill="#707070">900</text>
<line x1="239.80" y1="344.50" x2="239.80" y2="345.40" stroke="#999" stroke-width="0.4" />
<line x1="249.20" y1="344.50" x2="249.20" y2="346.00" stroke="#777" stroke-width="0.5" />
<text x="249.20" y="348.80" font-size="2.9" text-anchor="middle" fill="#707070">1000</text>
<line x1="258.60" y1="344.50" x2="258.60" y2="345.40" stroke="#999" stroke-width="0.4" />
<line x1="268.00" y1="344.50" x2="268.00" y2="346.00" stroke="#777" stroke-width="0.5" />
<text x="268.00" y="348.80" font-size="2.9" text-anchor="middle" fill="#707070">1100</text>
<line x1="277.40" y1="344.50" x2="277.40" y2="345.40" stroke="#999" stroke-width="0.4" />
<line x1="286.80" y1="344.50" x2="286.80" y2="346.00" stroke="#777" stroke-width="0.5" />
<text x="286.80" y="348.80" font-size="2.9" text-anchor="middle" fill="#707070">1200</text>
<line x1="296.20" y1="344.50" x2="296.20" y2="345.40" stroke="#999" stroke-width="0.4" />
<line x1="305.60" y1="344.50" x2="305.60" y2="346.00" stroke="#777" stroke-width="0.5" />
<text x="305.60" y="348.80" font-size="2.9" text-anchor="middle" fill="#707070">1300</text>
<line x1="315.00" y1="344.50" x2="315.00" y2="345.40" stroke="#999" stroke-width="0.4" />
<line x1="324.40" y1="344.50" x2="324.40" y2="346.00" stroke="#777" stroke-width="0.5" />
<text x="324.40" y="348.80" font-size="2.9" text-anchor="middle" fill="#707070">1400</text>
<line x1="333.80" y1="344.50" x2="333.80" y2="345.40" stroke="#999" stroke-width="0.4" />
<text x="0" y="0" font-size="8.3" font-weight="bold" text-anchor="middle" fill="#000" stroke="#000" stroke-width="0.18" transform="translate(69.00,280.00) rotate(-90)">Intensity (counts)</text>
<text x="210.10" y="359.80" font-size="8.2" font-weight="bold" text-anchor="middle" fill="#000" stroke="#000" stroke-width="0.180" >m/z</text>
<line x1="147.50" y1="343.90" x2="147.50" y2="344.50" stroke="rgb(70,70,70)" stroke-width="0.5" />
<line x1="191.50" y1="339.97" x2="191.50" y2="344.50" stroke="rgb(75,75,75)" stroke-width="0.5" />
<line x1="218.50" y1="341.93" x2="218.50" y2="344.50" stroke="rgb(108,108,108)" stroke-width="0.5" />
<line x1="192.50" y1="341.40" x2="192.50" y2="344.50" stroke="rgb(165,165,165)" stroke-width="0.5" />
<line x1="257.50" y1="343.90" x2="257.50" y2="344.50" stroke="rgb(150,150,150)" stroke-width="0.5" />
<line x1="207.50" y1="343.67" x2="207.50" y2="344.50" stroke="rgb(117,117,117)" stroke-width="0.5" />
<line x1="165.50" y1="343.68" x2="165.50" y2="344.50" stroke="rgb(120,120,120)" stroke-width="0.5" />
<line x1="120.50" y1="343.59" x2="120.50" y2="344.50" stroke="rgb(163,163,163)" stroke-width="0.5" />
<line x1="227.50" y1="343.60" x2="227.50" y2="344.50" stroke="rgb(108,108,108)" stroke-width="0.5" />
<line x1="122.50" y1="343.90" x2="122.50" y2="344.50" stroke="rgb(67,67,67)" stroke-width="0.5" />
<line x1="177.50" y1="342.02" x2="177.50" y2="344.50" stroke="rgb(137,137,137)" stroke-width="0.5" />
<line x1="189.50" y1="343.81" x2="189.50" y2="344.50" stroke="rgb(138,138,138)" stroke-width="0.5" />
<line x1="126.50" y1="342.03" x2="126.50" y2="344.50" stroke="rgb(148,148,148)" stroke-width="0.5" />
<line x1="186.50" y1="343.81" x2="186.50" y2="344.50" stroke="rgb(60,60,60)" stroke-width="0.5" />
<line x1="242.50" y1="342.95" x2="242.50" y2="344.50" stroke="rgb(163,163,163)" stroke-width="0.5" />
<line x1="228.50" y1="340.12" x2="228.50" y2="344.50" stroke="rgb(63,63,63)" stroke-width="0.5" />
<line x1="261.50" y1="343.89" x2="261.50" y2="344.50" stroke="rgb(151,151,151)" stroke-width="0.5" />
<line x1="298.50" y1="339.99" x2="298.50" y2="344.50" stroke="rgb(109,109,109)" stroke-width="0.5" />
<line x1="254.50" y1="340.47" x2="254.50" y2="344.50" stroke="rgb(164,164,164)" stroke-width="0.5" />
<line x1="210.50" y1="340.30" x2="210.50" y2="344.50" stroke="rgb(83,83,83)" stroke-width="0.5" />
<line x1="107.50" y1="340.27" x2="107.50" y2="344.50" stroke="rgb(98,98,98)" stroke-width="0.5" />
<line x1="260.50" y1="341.82" x2="260.50" y2="344.50" stroke="rgb(137,137,137)" stroke-width="0.5" />
<line x1="173.50" y1="341.03" x2="173.50" y2="344.50" stroke="rgb(118,118,118)" stroke-width="0.5" />
<line x1="193.50" y1="341.75" x2="193.50" y2="344.50" stroke="rgb(70,70,70)" stroke-width="0.5" />
<line x1="212.50" y1="343.63" x2="212.50" y2="344.50" stroke="rgb(80,80,80)" stroke-width="0.5" />
<line x1="175.50" y1="343.90" x2="175.50" y2="344.50" stroke="rgb(64,64,64)" stroke-width="0.5" />
<line x1="208.50" y1="343.17" x2="208.50" y2="344.50" stroke="rgb(80,80,80)" stroke-width="0.5" />
<line x1="309.50" y1="340.80" x2="309.50" y2="344.50" stroke="rgb(69,69,69)" stroke-width="0.5" />
<line x1="178.50" y1="343.90" x2="178.50" y2="344.50" stroke="rgb(72,72,72)" stroke-width="0.5" />
<line x1="201.50" y1="339.55" x2="201.50" y2="344.50" stroke="rgb(117,117,117)" stroke-width="0.5" />
<line x1="161.50" y1="343.89" x2="161.50" y2="344.50" stroke="rgb(118,118,118)" stroke-width="0.5" />
<line x1="226.50" y1="342.52" x2="226.50" y2="344.50" stroke="rgb(155,155,155)" stroke-width="0.5" />
<line x1="215.50" y1="341.81" x2="215.50" y2="344.50" stroke="rgb(157,157,157)" stroke-width="0.5" />
<line x1="150.50" y1="341.22" x2="150.50" y2="344.50" stroke="rgb(97,97,97)" stroke-width="0.5" />
<line x1="180.50" y1="343.81" x2="180.50" y2="344.50" stroke="rgb(92,92,92)" stroke-width="0.5" />
<line x1="245.50" y1="343.86" x2="245.50" y2="344.50" stroke="rgb(91,91,91)" stroke-width="0.5" />
<line x1="164.50" y1="343.84" x2="164.50" y2="344.50" stroke="rgb(96,96,96)" stroke-width="0.5" />
<line x1="275.50" y1="343.03" x2="275.50" y2="344.50" stroke="rgb(101,101,101)" stroke-width="0.5" />
<line x1="134.50" y1="343.83" x2="134.50" y2="344.50" stroke="rgb(91,91,91)" stroke-width="0.5" />
<line x1="211.50" y1="343.84" x2="211.50" y2="344.50" stroke="rgb(163,163,163)" stroke-width="0.5" />
<line x1="145.50" y1="343.45" x2="145.50" y2="344.50" stroke="rgb(64,64,64)" stroke-width="0.5" />
<line x1="145.50" y1="343.42" x2="145.50" y2="344.50" stroke="rgb(164,164,164)" stroke-width="0.5" />
<line x1="172.50" y1="343.49" x2="172.50" y2="344.50" stroke="rgb(107,107,107)" stroke-width="0.5" />
<line x1="125.50" y1="343.79" x2="125.50" y2="344.50" stroke="rgb(75,75,75)" stroke-width="0.5" />
<line x1="129.50" y1="342.93" x2="129.50" y2="344.50" stroke="rgb(165,165,165)" stroke-width="0.5" />
<line x1="221.50" y1="340.28" x2="221.50" y2="344.50" stroke="rgb(107,107,107)" stroke-width="0.5" />
<line x1="212.50" y1="343.87" x2="212.50" y2="344.50" stroke="rgb(137,137,137)" stroke-width="0.5" />
<line x1="177.50" y1="341.78" x2="177.50" y2="344.50" stroke="rgb(60,60,60)" stroke-width="0.5" />
<line x1="146.50" y1="342.95" x2="146.50" y2="344.50" stroke="rgb(139,139,139)" stroke-width="0.5" />
<line x1="191.50" y1="343.90" x2="191.50" y2="344.50" stroke="rgb(103,103,103)" stroke-width="0.5" />
<line x1="154.50" y1="343.86" x2="154.50" y2="344.50" stroke="rgb(92,92,92)" stroke-width="0.5" />
<line x1="124.50" y1="342.13" x2="124.50" y2="344.50" stroke="rgb(86,86,86)" stroke-width="0.5" />
<line x1="259.50" y1="341.43" x2="259.50" y2="344.50" stroke="rgb(112,112,112)" stroke-width="0.5" />
<line x1="235.50" y1="343.87" x2="235.50" y2="344.50" stroke="rgb(99,99,99)" stroke-width="0.5" />
<line x1="138.50" y1="343.90" x2="138.50" y2="344.50" stroke="rgb(123,123,123)" stroke-width="0.5" />
<line x1="217.50" y1="343.90" x2="217.50" y2="344.50" stroke="rgb(72,72,72)" stroke-width="0.5" />
<line x1="255.50" y1="342.58" x2="255.50" y2="344.50" stroke="rgb(79,79,79)" stroke-width="0.5" />
<line x1="229.50" y1="343.90" x2="229.50" y2="344.50" stroke="rgb(80,80,80)" stroke-width="0.5" />
<line x1="198.50" y1="343.81" x2="198.50" y2="344.50" stroke="rgb(96,96,96)" stroke-width="0.5" />
<line x1="233.50" y1="343.57" x2="233.50" y2="344.50" stroke="rgb(66,66,66)" stroke-width="0.5" />
<line x1="185.50" y1="343.08" x2="185.50" y2="344.50" stroke="rgb(105,105,105)" stroke-width="0.5" />
<line x1="200.50" y1="343.90" x2="200.50" y2="344.50" stroke="rgb(158,158,158)" stroke-width="0.5" />
<line x1="324.50" y1="343.68" x2="324.50" y2="344.50" stroke="rgb(85,85,85)" stroke-width="0.5" />
<line x1="197.50" y1="343.60" x2="197.50" y2="344.50" stroke="rgb(60,60,60)" stroke-width="0.5" />
<line x1="202.50" y1="343.88" x2="202.50" y2="344.50" stroke="rgb(74,74,74)" stroke-width="0.5" />
<line x1="260.50" y1="343.60" x2="260.50" y2="344.50" stroke="rgb(106,106,106)" stroke-width="0.5" />
<line x1="206.50" y1="343.88" x2="206.50" y2="344.50" stroke="rgb(61,61,61)" stroke-width="0.5" />
<line x1="129.50" y1="343.89" x2="129.50" y2="344.50" stroke="rgb(163,163,163)" stroke-width="0.5" />
<line x1="282.50" y1="343.90" x2="282.50" y2="344.50" stroke="rgb(139,139,139)" stroke-width="0.5" />
<line x1="287.50" y1="342.10" x2="287.50" y2="344.50" stroke="rgb(81,81,81)" stroke-width="0.5" />
<line x1="155.50" y1="343.80" x2="155.50" y2="344.50" stroke="rgb(126,126,126)" stroke-width="0.5" />
<line x1="161.50" y1="343.90" x2="161.50" y2="344.50" stroke="rgb(109,109,109)" stroke-width="0.5" />
<line x1="209.50" y1="341.55" x2="209.50" y2="344.50" stroke="rgb(163,163,163)" stroke-width="0.5" />
<line x1="166.50" y1="343.89" x2="166.50" y2="344.50" stroke="rgb(65,65,65)" stroke-width="0.5" />
<line x1="307.50" y1="343.39" x2="307.50" y2="344.50" stroke="rgb(66,66,66)" stroke-width="0.5" />
<line x1="225.50" y1="342.74" x2="225.50" y2="344.50" stroke="rgb(71,71,71)" stroke-width="0.5" />
<line x1="280.50" y1="342.83" x2="280.50" y2="344.50" stroke="rgb(165,165,165)" stroke-width="0.5" />
<line x1="276.50" y1="342.72" x2="276.50" y2="344.50" stroke="rgb(169,169,169)" stroke-width="0.5" />
<line x1="171.50" y1="343.60" x2="171.50" y2="344.50" stroke="rgb(168,168,168)" stroke-width="0.5" />
<line x1="166.50" y1="343.42" x2="166.50" y2="344.50" stroke="rgb(132,132,132)" stroke-width="0.5" />
<line x1="170.50" y1="343.61" x2="170.50" y2="344.50" stroke="rgb(126,126,126)" stroke-width="0.5" />
<line x1="158.50" y1="343.69" x2="158.50" y2="344.50" stroke="rgb(79,79,79)" stroke-width="0.5" />
<line x1="175.50" y1="342.19" x2="175.50" y2="344.50" stroke="rgb(84,84,84)" stroke-width="0.5" />
<line x1="125.50" y1="343.10" x2="125.50" y2="344.50" stroke="rgb(156,156,156)" stroke-width="0.5" />
<line x1="234.50" y1="342.56" x2="234.50" y2="344.50" stroke="rgb(101,101,101)" stroke-width="0.5" />
<line x1="149.50" y1="342.93" x2="149.50" y2="344.50" stroke="rgb(130,130,130)" stroke-width="0.5" />
<line x1="266.50" y1="341.78" x2="266.50" y2="344.50" stroke="rgb(143,143,143)" stroke-width="0.5" />
<line x1="200.50" y1="343.01" x2="200.50" y2="344.50" stroke="rgb(114,114,114)" stroke-width="0.5" />
<line x1="196.50" y1="343.68" x2="196.50" y2="344.50" stroke="rgb(124,124,124)" stroke-width="0.5" />
<line x1="203.50" y1="343.90" x2="203.50" y2="344.50" stroke="rgb(139,139,139)" stroke-width="0.5" />
<line x1="313.50" y1="343.45" x2="313.50" y2="344.50" stroke="rgb(117,117,117)" stroke-width="0.5" />
<line x1="249.50" y1="341.76" x2="249.50" y2="344.50" stroke="rgb(118,118,118)" stroke-width="0.5" />
<line x1="263.50" y1="341.50" x2="263.50" y2="344.50" stroke="rgb(111,111,111)" stroke-width="0.5" />
<line x1="146.50" y1="343.89" x2="146.50" y2="344.50" stroke="rgb(115,115,115)" stroke-width="0.5" />
<line x1="193.50" y1="341.58" x2="193.50" y2="344.50" stroke="rgb(124,124,124)" stroke-width="0.5" />
<line x1="212.50" y1="343.90" x2="212.50" y2="344.50" stroke="rgb(141,141,141)" stroke-width="0.5" />
<line x1="152.50" y1="340.37" x2="152.50" y2="344.50" stroke="rgb(100,100,100)" stroke-width="0.5" />
<line x1="252.50" y1="343.30" x2="252.50" y2="344.50" stroke="rgb(66,66,66)" stroke-width="0.5" />
<line x1="247.50" y1="340.68" x2="247.50" y2="344.50" stroke="rgb(143,143,143)" stroke-width="0.5" />
<line x1="295.50" y1="343.89" x2="295.50" y2="344.50" stroke="rgb(169,169,169)" stroke-width="0.5" />
<line x1="134.50" y1="342.86" x2="134.50" y2="344.50" stroke="rgb(148,148,148)" stroke-width="0.5" />
<line x1="259.50" y1="343.87" x2="259.50" y2="344.50" stroke="rgb(122,122,122)" stroke-width="0.5" />
<line x1="182.50" y1="341.50" x2="182.50" y2="344.50" stroke="rgb(161,161,161)" stroke-width="0.5" />
<line x1="160.50" y1="341.69" x2="160.50" y2="344.50" stroke="rgb(88,88,88)" stroke-width="0.5" />
<line x1="134.50" y1="343.71" x2="134.50" y2="344.50" stroke="rgb(156,156,156)" stroke-width="0.5" />
<line x1="176.50" y1="343.75" x2="176.50" y2="344.50" stroke="rgb(138,138,138)" stroke-width="0.5" />
<line x1="180.50" y1="341.46" x2="180.50" y2="344.50" stroke="rgb(78,78,78)" stroke-width="0.5" />
<line x1="176.50" y1="339.86" x2="176.50" y2="344.50" stroke="rgb(121,121,121)" stroke-width="0.5" />
<line x1="168.50" y1="343.82" x2="168.50" y2="344.50" stroke="rgb(124,124,124)" stroke-width="0.5" />
<line x1="173.50" y1="343.67" x2="173.50" y2="344.50" stroke="rgb(85,85,85)" stroke-width="0.5" />
<line x1="163.50" y1="343.88" x2="163.50" y2="344.50" stroke="rgb(95,95,95)" stroke-width="0.5" />
<line x1="235.50" y1="340.67" x2="235.50" y2="344.50" stroke="rgb(81,81,81)" stroke-width="0.5" />
<line x1="254.50" y1="343.82" x2="254.50" y2="344.50" stroke="rgb(158,158,158)" stroke-width="0.5" />
<line x1="214.50" y1="342.74" x2="214.50" y2="344.50" stroke="rgb(106,106,106)" stroke-width="0.5" />
<line x1="302.50" y1="343.48" x2="302.50" y2="344.50" stroke="rgb(126,126,126)" stroke-width="0.5" />
<line x1="221.50" y1="340.81" x2="221.50" y2="344.50" stroke="rgb(73,73,73)" stroke-width="0.5" />
<line x1="176.50" y1="343.21" x2="176.50" y2="344.50" stroke="rgb(169,169,169)" stroke-width="0.5" />
<line x1="197.50" y1="341.62" x2="197.50" y2="344.50" stroke="rgb(93,93,93)" stroke-width="0.5" />
<line x1="195.50" y1="343.67" x2="195.50" y2="344.50" stroke="rgb(78,78,78)" stroke-width="0.5" />
<line x1="192.50" y1="341.89" x2="192.50" y2="344.50" stroke="rgb(116,116,116)" stroke-width="0.5" />
<line x1="172.50" y1="342.85" x2="172.50" y2="344.50" stroke="rgb(66,66,66)" stroke-width="0.5" />
<line x1="183.50" y1="343.28" x2="183.50" y2="344.50" stroke="rgb(99,99,99)" stroke-width="0.5" />
<line x1="229.50" y1="339.61" x2="229.50" y2="344.50" stroke="rgb(134,134,134)" stroke-width="0.5" />
<line x1="287.50" y1="340.67" x2="287.50" y2="344.50" stroke="rgb(153,153,153)" stroke-width="0.5" />
<line x1="98.50" y1="343.90" x2="98.50" y2="344.50" stroke="rgb(79,79,79)" stroke-width="0.5" />
<line x1="182.50" y1="342.80" x2="182.50" y2="344.50" stroke="rgb(113,113,113)" stroke-width="0.5" />
<line x1="212.50" y1="340.67" x2="212.50" y2="344.50" stroke="rgb(76,76,76)" stroke-width="0.5" />
<line x1="209.50" y1="342.87" x2="209.50" y2="344.50" stroke="rgb(65,65,65)" stroke-width="0.5" />
<line x1="116.50" y1="343.90" x2="116.50" y2="344.50" stroke="rgb(105,105,105)" stroke-width="0.5" />
<line x1="184.50" y1="343.26" x2="184.50" y2="344.50" stroke="rgb(128,128,128)" stroke-width="0.5" />
<line x1="196.00" y1="212.70" x2="196.00" y2="344.50" stroke="#c4c4c4" stroke-width="1.9" />
<text x="196.00" y="211.80" font-size="2.8" text-anchor="middle" fill="#6a6a6a" font-weight="normal">609.7770</text>
<line x1="330.00" y1="265.00" x2="330.00" y2="344.50" stroke="#c4c4c4" stroke-width="1.9" />
<line x1="329.50" y1="283.70" x2="329.50" y2="344.50" stroke="#383838" stroke-width="1.0" />
<text x="330.00" y="264.10" font-size="2.8" text-anchor="middle" fill="#6a6a6a" font-weight="normal">1345.5934</text>
<line x1="215.50" y1="308.00" x2="215.50" y2="344.50" stroke="#505050" stroke-width="0.9" />
<line x1="215.50" y1="327.90" x2="215.50" y2="344.50" stroke="#383838" stroke-width="1.0" />
<text x="215.50" y="307.10" font-size="2.8" text-anchor="middle" fill="#6a6a6a" font-weight="normal">1356.3190</text>
<line x1="217.50" y1="320.60" x2="217.50" y2="344.50" stroke="#505050" stroke-width="0.9" />
<text x="217.50" y="319.70" font-size="2.8" text-anchor="middle" fill="#6a6a6a" font-weight="normal">568.7000</text>
<line x1="252.50" y1="315.40" x2="252.50" y2="344.50" stroke="#8a8a8a" stroke-width="1.0" />
<text x="252.50" y="314.50" font-size="2.8" text-anchor="middle" fill="#6a6a6a" font-weight="normal">1122.3598</text>
<line x1="236.50" y1="333.50" x2="236.50" y2="344.50" stroke="#505050" stroke-width="0.9" />
<text x="236.50" y="332.60" font-size="2.8" text-anchor="middle" fill="#6a6a6a" font-weight="normal">425.1231</text>
<line x1="277.50" y1="329.00" x2="277.50" y2="344.50" stroke="#505050" stroke-width="0.9" />
<text x="277.50" y="328.10" font-size="2.8" text-anchor="middle" fill="#6a6a6a" font-weight="normal">648.3446</text>
<line x1="286.50" y1="333.50" x2="286.50" y2="344.50" stroke="#505050" stroke-width="0.9" />
<text x="286.50" y="332.60" font-size="2.8" text-anchor="middle" fill="#6a6a6a" font-weight="normal">1073.2569</text>
<line x1="290.50" y1="338.50" x2="290.50" y2="344.50" stroke="#505050" stroke-width="0.9" />
<text x="290.50" y="337.60" font-size="2.8" text-anchor="middle" fill="#6a6a6a" font-weight="normal">280.3370</text>
<line x1="304.50" y1="324.40" x2="304.50" y2="344.50" stroke="#505050" stroke-width="0.9" />
<text x="304.50" y="323.50" font-size="2.8" text-anchor="middle" fill="#6a6a6a" font-weight="normal">702.7585</text>
<line x1="132.50" y1="317.40" x2="132.50" y2="344.50" stroke="#505050" stroke-width="0.9" />
<text x="132.50" y="316.50" font-size="2.8" text-anchor="middle" fill="#6a6a6a" font-weight="normal">691.1188</text>
<line x1="151.50" y1="323.00" x2="151.50" y2="344.50" stroke="#505050" stroke-width="0.9" />
<text x="151.50" y="322.10" font-size="2.8" text-anchor="middle" fill="#6a6a6a" font-weight="normal">264.6739</text>
<line x1="160.50" y1="335.00" x2="160.50" y2="344.50" stroke="#505050" stroke-width="0.9" />
<text x="160.50" y="334.10" font-size="2.8" text-anchor="middle" fill="#6a6a6a" font-weight="normal">1367.8270</text>
<line x1="170.50" y1="338.40" x2="170.50" y2="344.50" stroke="#c0c0c0" stroke-width="1.0" />
<text x="170.50" y="337.50" font-size="2.8" text-anchor="middle" fill="#6a6a6a" font-weight="normal">1382.9480</text>
<line x1="116.50" y1="335.80" x2="116.50" y2="344.50" stroke="#505050" stroke-width="0.9" />
<text x="116.50" y="334.90" font-size="2.8" text-anchor="middle" fill="#6a6a6a" font-weight="normal">1159.5071</text>
<line x1="184.50" y1="332.50" x2="184.50" y2="344.50" stroke="#505050" stroke-width="0.9" />
<text x="184.50" y="331.60" font-size="2.8" text-anchor="middle" fill="#6a6a6a" font-weight="normal">488.1006</text>
<line x1="191.50" y1="330.50" x2="191.50" y2="344.50" stroke="#505050" stroke-width="0.9" />
<text x="191.50" y="329.60" font-size="2.8" text-anchor="middle" fill="#6a6a6a" font-weight="normal">240.2008</text>
<line x1="193.50" y1="323.30" x2="193.50" y2="344.50" stroke="#505050" stroke-width="0.9" />
<line x1="107.50" y1="337.90" x2="107.50" y2="344.50" stroke="#505050" stroke-width="0.9" />
<text x="107.50" y="337.00" font-size="2.8" text-anchor="middle" fill="#6a6a6a" font-weight="normal">1238.1413</text>
<line x1="138.50" y1="336.90" x2="138.50" y2="344.50" stroke="#505050" stroke-width="0.9" />
<text x="138.50" y="336.00" font-size="2.8" text-anchor="middle" fill="#6a6a6a" font-weight="normal">981.4041</text>
<line x1="203.50" y1="336.50" x2="203.50" y2="344.50" stroke="#505050" stroke-width="0.9" />
<text x="203.50" y="335.60" font-size="2.8" text-anchor="middle" fill="#6a6a6a" font-weight="normal">636.3608</text>
<line x1="245.50" y1="338.00" x2="245.50" y2="344.50" stroke="#505050" stroke-width="0.9" />
<text x="245.50" y="337.10" font-size="2.8" text-anchor="middle" fill="#6a6a6a" font-weight="normal">269.2718</text>
<line x1="267.50" y1="338.00" x2="267.50" y2="344.50" stroke="#505050" stroke-width="0.9" />
<text x="267.50" y="337.10" font-size="2.8" text-anchor="middle" fill="#6a6a6a" font-weight="normal">175.4231</text>
<line x1="327.50" y1="338.00" x2="327.50" y2="344.50" stroke="#505050" stroke-width="0.9" />
<text x="327.50" y="337.10" font-size="2.8" text-anchor="middle" fill="#6a6a6a" font-weight="normal">441.7769</text>
<line x1="200.50" y1="339.00" x2="200.50" y2="344.50" stroke="#505050" stroke-width="0.9" />
<line x1="212.50" y1="338.40" x2="212.50" y2="344.50" stroke="#505050" stroke-width="0.9" />
<line x1="155.50" y1="341.00" x2="155.50" y2="344.50" stroke="#505050" stroke-width="0.9" />
<line x1="147.50" y1="341.00" x2="147.50" y2="344.50" stroke="#505050" stroke-width="0.9" />
<line x1="222.50" y1="341.60" x2="222.50" y2="344.50" stroke="#505050" stroke-width="0.9" />
<text x="222.50" y="340.70" font-size="2.8" text-anchor="middle" fill="#6a6a6a" font-weight="normal">558.9491</text>
<text x="329.90" y="256.20" font-size="5.6" font-weight="bold" text-anchor="middle" fill="#000">y<tspan font-size="3.58" dy="1.2">12</tspan></text>
<text x="215.60" y="300.90" font-size="5.6" font-weight="bold" text-anchor="middle" fill="#000">y<tspan font-size="3.58" dy="1.2">6</tspan></text>
<text x="252.80" y="307.50" font-size="5.6" font-weight="bold" text-anchor="middle" fill="#000">y<tspan font-size="3.58" dy="1.2">8</tspan></text>
<text x="236.80" y="324.70" font-size="5.6" font-weight="bold" text-anchor="middle" fill="#000">y<tspan font-size="3.58" dy="1.2">7</tspan></text>
<text x="277.60" y="322.00" font-size="5.6" font-weight="bold" text-anchor="middle" fill="#000">y<tspan font-size="3.58" dy="1.2">9</tspan></text>
<text x="286.00" y="326.20" font-size="5.6" font-weight="bold" text-anchor="middle" fill="#000">b<tspan font-size="3.58" dy="1.2">10</tspan></text>
<text x="295.50" y="326.20" font-size="5.6" font-weight="bold" text-anchor="middle" fill="#000">y<tspan font-size="3.58" dy="1.2">10</tspan></text>
<text x="304.80" y="316.60" font-size="5.6" font-weight="bold" text-anchor="middle" fill="#000">b<tspan font-size="3.58" dy="1.2">11</tspan></text>
<text x="132.60" y="312.00" font-size="5.6" font-weight="bold" text-anchor="middle" fill="#000">y<tspan font-size="3.58" dy="1.2">2</tspan></text>
<text x="151.60" y="315.10" font-size="5.6" font-weight="bold" text-anchor="middle" fill="#000">y<tspan font-size="3.58" dy="1.2">3</tspan></text>
<text x="160.50" y="327.00" font-size="5.6" font-weight="bold" text-anchor="middle" fill="#000">b<tspan font-size="3.58" dy="1.2">4</tspan></text>
<text x="170.40" y="330.00" font-size="5.6" font-weight="bold" text-anchor="middle" fill="#000">y<tspan font-size="3.58" dy="1.2">4</tspan></text>
<text x="116.20" y="327.70" font-size="5.6" font-weight="bold" text-anchor="middle" fill="#000">y<tspan font-size="3.58" dy="1.2">1</tspan></text>
<text x="182.60" y="315.10" font-size="5.6" font-weight="bold" text-anchor="middle" fill="#000">y<tspan font-size="3.58" dy="1.2">5</tspan></text>
<text x="191.20" y="315.10" font-size="5.6" font-weight="bold" text-anchor="middle" fill="#000">b<tspan font-size="3.58" dy="1.2">5</tspan></text>
<rect x="86.50" y="212.50" width="98.10" height="48.80" fill="none" stroke="#555" stroke-width="0.75"/>
<line x1="100.50" y1="216.70" x2="100.50" y2="245.30" stroke="#999" stroke-width="0.5" />
<line x1="99.30" y1="245.30" x2="100.50" y2="245.30" stroke="#999" stroke-width="0.4" />
<text x="98.90" y="245.90" font-size="1.7" text-anchor="end" fill="#888">0</text>
<line x1="99.30" y1="242.00" x2="100.50" y2="242.00" stroke="#999" stroke-width="0.4" />
<text x="98.90" y="242.60" font-size="1.7" text-anchor="end" fill="#888">500</text>
<line x1="99.30" y1="238.70" x2="100.50" y2="238.70" stroke="#999" stroke-width="0.4" />
<text x="98.90" y="239.30" font-size="1.7" text-anchor="end" fill="#888">1000</text>
<line x1="99.30" y1="235.40" x2="100.50" y2="235.40" stroke="#999" stroke-width="0.4" />
<text x="98.90" y="236.00" font-size="1.7" text-anchor="end" fill="#888">1500</text>
<line x1="99.30" y1="232.10" x2="100.50" y2="232.10" stroke="#999" stroke-width="0.4" />
<text x="98.90" y="232.70" font-size="1.7" text-anchor="end" fill="#888">2000</text>
<line x1="99.30" y1="228.80" x2="100.50" y2="228.80" stroke="#999" stroke-width="0.4" />
<text x="98.90" y="229.40" font-size="1.7" text-anchor="end" fill="#888">2500</text>
<line x1="99.30" y1="225.50" x2="100.50" y2="225.50" stroke="#999" stroke-width="0.4" />
<text x="98.90" y="226.10" font-size="1.7" text-anchor="end" fill="#888">3000</text>
<line x1="99.30" y1="222.20" x2="100.50" y2="222.20" stroke="#999" stroke-width="0.4" />
<text x="98.90" y="222.80" font-size="1.7" text-anchor="end" fill="#888">3500</text>
<line x1="99.30" y1="218.90" x2="100.50" y2="218.90" stroke="#999" stroke-width="0.4" />
<text x="98.90" y="219.50" font-size="1.7" text-anchor="end" fill="#888">4000</text>
<line x1="100.50" y1="245.30" x2="180.10" y2="245.30" stroke="#b8b8b8" stroke-width="0.6" />
<text x="0" y="0" font-size="3.6" text-anchor="middle" fill="#333" transform="translate(92.20,231.50) rotate(-90)">Intensity (counts)</text>
<line x1="112.05" y1="245.30" x2="112.05" y2="246.10" stroke="#aaa" stroke-width="0.4" />
<text x="112.05" y="252.20" font-size="4.1" font-weight="bold" text-anchor="middle" fill="#000" >114</text>
<line x1="132.20" y1="245.30" x2="132.20" y2="246.10" stroke="#aaa" stroke-width="0.4" />
<text x="132.20" y="252.20" font-size="4.1" font-weight="bold" text-anchor="middle" fill="#000" >115</text>
<line x1="152.35" y1="245.30" x2="152.35" y2="246.10" stroke="#aaa" stroke-width="0.4" />
<text x="152.35" y="252.20" font-size="4.1" font-weight="bold" text-anchor="middle" fill="#000" >116</text>
<line x1="172.50" y1="245.30" x2="172.50" y2="246.10" stroke="#aaa" stroke-width="0.4" />
<text x="172.50" y="252.20" font-size="4.1" font-weight="bold" text-anchor="middle" fill="#000" >117</text>
<text x="141.20" y="258.90" font-size="4.0" font-weight="bold" text-anchor="middle" fill="#000" >m/z</text>
<line x1="132.50" y1="233.90" x2="132.50" y2="245.30" stroke="#78aade" stroke-width="0.85" />
<line x1="172.50" y1="223.90" x2="172.50" y2="245.30" stroke="#78aade" stroke-width="0.85" />
<text x="131.30" y="230.10" font-size="4.7" font-weight="bold" text-anchor="middle" fill="#000" >115.11</text>
<text x="171.00" y="220.20" font-size="4.7" font-weight="bold" text-anchor="middle" fill="#000" >117.11</text>
<line x1="189.00" y1="235.70" x2="194.80" y2="235.70" stroke="#111" stroke-width="0.9" />
<path d="M185.70,235.70 L189.90,233.80 L189.90,237.60 Z" fill="#111"/>
</g>
<g>
<text x="374.00" y="205.30" font-size="9.6" font-weight="bold" text-anchor="start" fill="#000" stroke="#000" stroke-width="0.211" >SabA</text>
<text x="414.50" y="204.90" font-size="8.2" font-weight="bold" text-anchor="start" fill="#000" stroke="#000" stroke-width="0.180" >Peptide : dIVTLPYDk</text>
<text x="680.20" y="203.70" font-size="8.3" font-weight="bold" text-anchor="end" fill="#000" stroke="#000" stroke-width="0.183" >117/115 ratio : 1.538</text>
<line x1="424.00" y1="211.50" x2="424.00" y2="343.70" stroke="#707070" stroke-width="0.7" />
<line x1="422.40" y1="343.20" x2="424.00" y2="343.20" stroke="#777" stroke-width="0.5" />
<text x="422.10" y="344.20" font-size="2.9" text-anchor="end" fill="#707070">0</text>
<line x1="423.00" y1="339.97" x2="424.00" y2="339.97" stroke="#777" stroke-width="0.5" />
<line x1="422.40" y1="336.75" x2="424.00" y2="336.75" stroke="#777" stroke-width="0.5" />
<text x="422.10" y="337.75" font-size="2.9" text-anchor="end" fill="#707070">500</text>
<line x1="423.00" y1="333.52" x2="424.00" y2="333.52" stroke="#777" stroke-width="0.5" />
<line x1="422.40" y1="330.30" x2="424.00" y2="330.30" stroke="#777" stroke-width="0.5" />
<text x="422.10" y="331.30" font-size="2.9" text-anchor="end" fill="#707070">1000</text>
<line x1="423.00" y1="327.07" x2="424.00" y2="327.07" stroke="#777" stroke-width="0.5" />
<line x1="422.40" y1="323.85" x2="424.00" y2="323.85" stroke="#777" stroke-width="0.5" />
<text x="422.10" y="324.85" font-size="2.9" text-anchor="end" fill="#707070">1500</text>
<line x1="423.00" y1="320.62" x2="424.00" y2="320.62" stroke="#777" stroke-width="0.5" />
<line x1="422.40" y1="317.40" x2="424.00" y2="317.40" stroke="#777" stroke-width="0.5" />
<text x="422.10" y="318.40" font-size="2.9" text-anchor="end" fill="#707070">2000</text>
<line x1="423.00" y1="314.17" x2="424.00" y2="314.17" stroke="#777" stroke-width="0.5" />
<line x1="422.40" y1="310.95" x2="424.00" y2="310.95" stroke="#777" stroke-width="0.5" />
<text x="422.10" y="311.95" font-size="2.9" text-anchor="end" fill="#707070">2500</text>
<line x1="423.00" y1="307.72" x2="424.00" y2="307.72" stroke="#777" stroke-width="0.5" />
<line x1="422.40" y1="304.50" x2="424.00" y2="304.50" stroke="#777" stroke-width="0.5" />
<text x="422.10" y="305.50" font-size="2.9" text-anchor="end" fill="#707070">3000</text>
<line x1="423.00" y1="301.27" x2="424.00" y2="301.27" stroke="#777" stroke-width="0.5" />
<line x1="422.40" y1="298.05" x2="424.00" y2="298.05" stroke="#777" stroke-width="0.5" />
<text x="422.10" y="299.05" font-size="2.9" text-anchor="end" fill="#707070">3500</text>
<line x1="423.00" y1="294.82" x2="424.00" y2="294.82" stroke="#777" stroke-width="0.5" />
<line x1="422.40" y1="291.60" x2="424.00" y2="291.60" stroke="#777" stroke-width="0.5" />
<text x="422.10" y="292.60" font-size="2.9" text-anchor="end" fill="#707070">4000</text>
<line x1="423.00" y1="288.37" x2="424.00" y2="288.37" stroke="#777" stroke-width="0.5" />
<line x1="422.40" y1="285.15" x2="424.00" y2="285.15" stroke="#777" stroke-width="0.5" />
<text x="422.10" y="286.15" font-size="2.9" text-anchor="end" fill="#707070">4500</text>
<line x1="423.00" y1="281.92" x2="424.00" y2="281.92" stroke="#777" stroke-width="0.5" />
<line x1="422.40" y1="278.70" x2="424.00" y2="278.70" stroke="#777" stroke-width="0.5" />
<text x="422.10" y="279.70" font-size="2.9" text-anchor="end" fill="#707070">5000</text>
<line x1="423.00" y1="275.47" x2="424.00" y2="275.47" stroke="#777" stroke-width="0.5" />
<line x1="422.40" y1="272.25" x2="424.00" y2="272.25" stroke="#777" stroke-width="0.5" />
<text x="422.10" y="273.25" font-size="2.9" text-anchor="end" fill="#707070">5500</text>
<line x1="423.00" y1="269.02" x2="424.00" y2="269.02" stroke="#777" stroke-width="0.5" />
<line x1="422.40" y1="265.80" x2="424.00" y2="265.80" stroke="#777" stroke-width="0.5" />
<text x="422.10" y="266.80" font-size="2.9" text-anchor="end" fill="#707070">6000</text>
<line x1="423.00" y1="262.57" x2="424.00" y2="262.57" stroke="#777" stroke-width="0.5" />
<line x1="422.40" y1="259.35" x2="424.00" y2="259.35" stroke="#777" stroke-width="0.5" />
<text x="422.10" y="260.35" font-size="2.9" text-anchor="end" fill="#707070">6500</text>
<line x1="423.00" y1="256.12" x2="424.00" y2="256.12" stroke="#777" stroke-width="0.5" />
<line x1="422.40" y1="252.90" x2="424.00" y2="252.90" stroke="#777" stroke-width="0.5" />
<text x="422.10" y="253.90" font-size="2.9" text-anchor="end" fill="#707070">7000</text>
<line x1="423.00" y1="249.67" x2="424.00" y2="249.67" stroke="#777" stroke-width="0.5" />
<line x1="422.40" y1="246.45" x2="424.00" y2="246.45" stroke="#777" stroke-width="0.5" />
<text x="422.10" y="247.45" font-size="2.9" text-anchor="end" fill="#707070">7500</text>
<line x1="423.00" y1="243.22" x2="424.00" y2="243.22" stroke="#777" stroke-width="0.5" />
<line x1="422.40" y1="240.00" x2="424.00" y2="240.00" stroke="#777" stroke-width="0.5" />
<text x="422.10" y="241.00" font-size="2.9" text-anchor="end" fill="#707070">8000</text>
<line x1="423.00" y1="236.77" x2="424.00" y2="236.77" stroke="#777" stroke-width="0.5" />
<line x1="422.40" y1="233.55" x2="424.00" y2="233.55" stroke="#777" stroke-width="0.5" />
<text x="422.10" y="234.55" font-size="2.9" text-anchor="end" fill="#707070">8500</text>
<line x1="423.00" y1="230.32" x2="424.00" y2="230.32" stroke="#777" stroke-width="0.5" />
<line x1="422.40" y1="227.10" x2="424.00" y2="227.10" stroke="#777" stroke-width="0.5" />
<text x="422.10" y="228.10" font-size="2.9" text-anchor="end" fill="#707070">9000</text>
<line x1="423.00" y1="223.87" x2="424.00" y2="223.87" stroke="#777" stroke-width="0.5" />
<line x1="422.40" y1="220.65" x2="424.00" y2="220.65" stroke="#777" stroke-width="0.5" />
<text x="422.10" y="221.65" font-size="2.9" text-anchor="end" fill="#707070">9500</text>
<line x1="423.00" y1="217.42" x2="424.00" y2="217.42" stroke="#777" stroke-width="0.5" />
<line x1="422.40" y1="214.20" x2="424.00" y2="214.20" stroke="#777" stroke-width="0.5" />
<text x="422.10" y="215.20" font-size="2.9" text-anchor="end" fill="#707070">10000</text>
<line x1="424.00" y1="343.20" x2="677.00" y2="343.20" stroke="#4a4a4a" stroke-width="0.8" />
<line x1="426.10" y1="343.20" x2="426.10" y2="344.70" stroke="#777" stroke-width="0.5" />
<text x="426.10" y="347.50" font-size="2.9" text-anchor="middle" fill="#707070">100</text>
<line x1="436.18" y1="343.20" x2="436.18" y2="344.10" stroke="#999" stroke-width="0.4" />
<line x1="446.25" y1="343.20" x2="446.25" y2="344.70" stroke="#777" stroke-width="0.5" />
<text x="446.25" y="347.50" font-size="2.9" text-anchor="middle" fill="#707070">200</text>
<line x1="456.32" y1="343.20" x2="456.32" y2="344.10" stroke="#999" stroke-width="0.4" />
<line x1="466.40" y1="343.20" x2="466.40" y2="344.70" stroke="#777" stroke-width="0.5" />
<text x="466.40" y="347.50" font-size="2.9" text-anchor="middle" fill="#707070">300</text>
<line x1="476.47" y1="343.20" x2="476.47" y2="344.10" stroke="#999" stroke-width="0.4" />
<line x1="486.55" y1="343.20" x2="486.55" y2="344.70" stroke="#777" stroke-width="0.5" />
<text x="486.55" y="347.50" font-size="2.9" text-anchor="middle" fill="#707070">400</text>
<line x1="496.62" y1="343.20" x2="496.62" y2="344.10" stroke="#999" stroke-width="0.4" />
<line x1="506.70" y1="343.20" x2="506.70" y2="344.70" stroke="#777" stroke-width="0.5" />
<text x="506.70" y="347.50" font-size="2.9" text-anchor="middle" fill="#707070">500</text>
<line x1="516.77" y1="343.20" x2="516.77" y2="344.10" stroke="#999" stroke-width="0.4" />
<line x1="526.85" y1="343.20" x2="526.85" y2="344.70" stroke="#777" stroke-width="0.5" />
<text x="526.85" y="347.50" font-size="2.9" text-anchor="middle" fill="#707070">600</text>
<line x1="536.92" y1="343.20" x2="536.92" y2="344.10" stroke="#999" stroke-width="0.4" />
<line x1="547.00" y1="343.20" x2="547.00" y2="344.70" stroke="#777" stroke-width="0.5" />
<text x="547.00" y="347.50" font-size="2.9" text-anchor="middle" fill="#707070">700</text>
<line x1="557.07" y1="343.20" x2="557.07" y2="344.10" stroke="#999" stroke-width="0.4" />
<line x1="567.15" y1="343.20" x2="567.15" y2="344.70" stroke="#777" stroke-width="0.5" />
<text x="567.15" y="347.50" font-size="2.9" text-anchor="middle" fill="#707070">800</text>
<line x1="577.22" y1="343.20" x2="577.22" y2="344.10" stroke="#999" stroke-width="0.4" />
<line x1="587.30" y1="343.20" x2="587.30" y2="344.70" stroke="#777" stroke-width="0.5" />
<text x="587.30" y="347.50" font-size="2.9" text-anchor="middle" fill="#707070">900</text>
<line x1="597.37" y1="343.20" x2="597.37" y2="344.10" stroke="#999" stroke-width="0.4" />
<line x1="607.45" y1="343.20" x2="607.45" y2="344.70" stroke="#777" stroke-width="0.5" />
<text x="607.45" y="347.50" font-size="2.9" text-anchor="middle" fill="#707070">1000</text>
<line x1="617.52" y1="343.20" x2="617.52" y2="344.10" stroke="#999" stroke-width="0.4" />
<line x1="627.60" y1="343.20" x2="627.60" y2="344.70" stroke="#777" stroke-width="0.5" />
<text x="627.60" y="347.50" font-size="2.9" text-anchor="middle" fill="#707070">1100</text>
<line x1="637.67" y1="343.20" x2="637.67" y2="344.10" stroke="#999" stroke-width="0.4" />
<line x1="647.75" y1="343.20" x2="647.75" y2="344.70" stroke="#777" stroke-width="0.5" />
<text x="647.75" y="347.50" font-size="2.9" text-anchor="middle" fill="#707070">1200</text>
<line x1="657.82" y1="343.20" x2="657.82" y2="344.10" stroke="#999" stroke-width="0.4" />
<line x1="667.90" y1="343.20" x2="667.90" y2="344.70" stroke="#777" stroke-width="0.5" />
<text x="667.90" y="347.50" font-size="2.9" text-anchor="middle" fill="#707070">1300</text>
<line x1="677.97" y1="343.20" x2="677.97" y2="344.10" stroke="#999" stroke-width="0.4" />
<text x="0" y="0" font-size="7.9" font-weight="bold" text-anchor="middle" fill="#000" stroke="#000" stroke-width="0.18" transform="translate(411.30,279.70) rotate(-90)">Intensity (counts)</text>
<text x="551.20" y="359.80" font-size="8.2" font-weight="bold" text-anchor="middle" fill="#000" stroke="#000" stroke-width="0.180" >m/z</text>
<line x1="566.50" y1="342.01" x2="566.50" y2="343.20" stroke="rgb(142,142,142)" stroke-width="0.5" />
<line x1="541.50" y1="341.56" x2="541.50" y2="343.20" stroke="rgb(125,125,125)" stroke-width="0.5" />
<line x1="527.50" y1="342.48" x2="527.50" y2="343.20" stroke="rgb(66,66,66)" stroke-width="0.5" />
<line x1="661.50" y1="340.89" x2="661.50" y2="343.20" stroke="rgb(121,121,121)" stroke-width="0.5" />
<line x1="582.50" y1="342.60" x2="582.50" y2="343.20" stroke="rgb(168,168,168)" stroke-width="0.5" />
<line x1="544.50" y1="339.18" x2="544.50" y2="343.20" stroke="rgb(70,70,70)" stroke-width="0.5" />
<line x1="586.50" y1="342.18" x2="586.50" y2="343.20" stroke="rgb(88,88,88)" stroke-width="0.5" />
<line x1="664.50" y1="342.52" x2="664.50" y2="343.20" stroke="rgb(142,142,142)" stroke-width="0.5" />
<line x1="467.50" y1="342.43" x2="467.50" y2="343.20" stroke="rgb(155,155,155)" stroke-width="0.5" />
<line x1="627.50" y1="338.83" x2="627.50" y2="343.20" stroke="rgb(93,93,93)" stroke-width="0.5" />
<line x1="581.50" y1="342.52" x2="581.50" y2="343.20" stroke="rgb(130,130,130)" stroke-width="0.5" />
<line x1="576.50" y1="341.15" x2="576.50" y2="343.20" stroke="rgb(126,126,126)" stroke-width="0.5" />
<line x1="645.50" y1="342.48" x2="645.50" y2="343.20" stroke="rgb(87,87,87)" stroke-width="0.5" />
<line x1="482.50" y1="342.01" x2="482.50" y2="343.20" stroke="rgb(81,81,81)" stroke-width="0.5" />
<line x1="519.50" y1="342.54" x2="519.50" y2="343.20" stroke="rgb(155,155,155)" stroke-width="0.5" />
<line x1="509.50" y1="342.58" x2="509.50" y2="343.20" stroke="rgb(101,101,101)" stroke-width="0.5" />
<line x1="507.50" y1="342.34" x2="507.50" y2="343.20" stroke="rgb(136,136,136)" stroke-width="0.5" />
<line x1="515.50" y1="339.24" x2="515.50" y2="343.20" stroke="rgb(140,140,140)" stroke-width="0.5" />
<line x1="626.50" y1="338.34" x2="626.50" y2="343.20" stroke="rgb(167,167,167)" stroke-width="0.5" />
<line x1="649.50" y1="342.13" x2="649.50" y2="343.20" stroke="rgb(167,167,167)" stroke-width="0.5" />
<line x1="556.50" y1="342.60" x2="556.50" y2="343.20" stroke="rgb(63,63,63)" stroke-width="0.5" />
<line x1="544.50" y1="340.89" x2="544.50" y2="343.20" stroke="rgb(133,133,133)" stroke-width="0.5" />
<line x1="616.50" y1="340.39" x2="616.50" y2="343.20" stroke="rgb(110,110,110)" stroke-width="0.5" />
<line x1="568.50" y1="342.60" x2="568.50" y2="343.20" stroke="rgb(81,81,81)" stroke-width="0.5" />
<line x1="497.50" y1="342.60" x2="497.50" y2="343.20" stroke="rgb(73,73,73)" stroke-width="0.5" />
<line x1="568.50" y1="342.58" x2="568.50" y2="343.20" stroke="rgb(78,78,78)" stroke-width="0.5" />
<line x1="580.50" y1="342.60" x2="580.50" y2="343.20" stroke="rgb(77,77,77)" stroke-width="0.5" />
<line x1="578.50" y1="341.45" x2="578.50" y2="343.20" stroke="rgb(149,149,149)" stroke-width="0.5" />
<line x1="477.50" y1="342.60" x2="477.50" y2="343.20" stroke="rgb(169,169,169)" stroke-width="0.5" />
<line x1="564.50" y1="342.38" x2="564.50" y2="343.20" stroke="rgb(164,164,164)" stroke-width="0.5" />
<line x1="638.50" y1="341.92" x2="638.50" y2="343.20" stroke="rgb(145,145,145)" stroke-width="0.5" />
<line x1="477.50" y1="339.66" x2="477.50" y2="343.20" stroke="rgb(151,151,151)" stroke-width="0.5" />
<line x1="634.50" y1="342.59" x2="634.50" y2="343.20" stroke="rgb(86,86,86)" stroke-width="0.5" />
<line x1="509.50" y1="342.60" x2="509.50" y2="343.20" stroke="rgb(168,168,168)" stroke-width="0.5" />
<line x1="623.50" y1="340.67" x2="623.50" y2="343.20" stroke="rgb(71,71,71)" stroke-width="0.5" />
<line x1="602.50" y1="341.47" x2="602.50" y2="343.20" stroke="rgb(96,96,96)" stroke-width="0.5" />
<line x1="549.50" y1="342.59" x2="549.50" y2="343.20" stroke="rgb(161,161,161)" stroke-width="0.5" />
<line x1="589.50" y1="342.56" x2="589.50" y2="343.20" stroke="rgb(100,100,100)" stroke-width="0.5" />
<line x1="531.50" y1="342.52" x2="531.50" y2="343.20" stroke="rgb(104,104,104)" stroke-width="0.5" />
<line x1="518.50" y1="342.50" x2="518.50" y2="343.20" stroke="rgb(151,151,151)" stroke-width="0.5" />
<line x1="590.50" y1="339.21" x2="590.50" y2="343.20" stroke="rgb(158,158,158)" stroke-width="0.5" />
<line x1="642.50" y1="342.02" x2="642.50" y2="343.20" stroke="rgb(168,168,168)" stroke-width="0.5" />
<line x1="523.50" y1="340.73" x2="523.50" y2="343.20" stroke="rgb(160,160,160)" stroke-width="0.5" />
<line x1="541.50" y1="342.23" x2="541.50" y2="343.20" stroke="rgb(158,158,158)" stroke-width="0.5" />
<line x1="486.50" y1="342.14" x2="486.50" y2="343.20" stroke="rgb(66,66,66)" stroke-width="0.5" />
<line x1="557.50" y1="342.55" x2="557.50" y2="343.20" stroke="rgb(170,170,170)" stroke-width="0.5" />
<line x1="603.50" y1="341.75" x2="603.50" y2="343.20" stroke="rgb(96,96,96)" stroke-width="0.5" />
<line x1="503.50" y1="342.60" x2="503.50" y2="343.20" stroke="rgb(85,85,85)" stroke-width="0.5" />
<line x1="523.50" y1="340.70" x2="523.50" y2="343.20" stroke="rgb(66,66,66)" stroke-width="0.5" />
<line x1="445.50" y1="342.07" x2="445.50" y2="343.20" stroke="rgb(122,122,122)" stroke-width="0.5" />
<line x1="579.50" y1="340.07" x2="579.50" y2="343.20" stroke="rgb(123,123,123)" stroke-width="0.5" />
<line x1="564.50" y1="338.65" x2="564.50" y2="343.20" stroke="rgb(125,125,125)" stroke-width="0.5" />
<line x1="519.50" y1="338.82" x2="519.50" y2="343.20" stroke="rgb(96,96,96)" stroke-width="0.5" />
<line x1="600.50" y1="338.88" x2="600.50" y2="343.20" stroke="rgb(89,89,89)" stroke-width="0.5" />
<line x1="552.50" y1="342.59" x2="552.50" y2="343.20" stroke="rgb(141,141,141)" stroke-width="0.5" />
<line x1="591.50" y1="342.07" x2="591.50" y2="343.20" stroke="rgb(149,149,149)" stroke-width="0.5" />
<line x1="560.50" y1="342.59" x2="560.50" y2="343.20" stroke="rgb(101,101,101)" stroke-width="0.5" />
<line x1="533.50" y1="342.31" x2="533.50" y2="343.20" stroke="rgb(110,110,110)" stroke-width="0.5" />
<line x1="618.50" y1="340.74" x2="618.50" y2="343.20" stroke="rgb(114,114,114)" stroke-width="0.5" />
<line x1="617.50" y1="342.60" x2="617.50" y2="343.20" stroke="rgb(86,86,86)" stroke-width="0.5" />
<line x1="526.50" y1="342.25" x2="526.50" y2="343.20" stroke="rgb(129,129,129)" stroke-width="0.5" />
<line x1="552.50" y1="342.35" x2="552.50" y2="343.20" stroke="rgb(140,140,140)" stroke-width="0.5" />
<line x1="514.50" y1="342.16" x2="514.50" y2="343.20" stroke="rgb(128,128,128)" stroke-width="0.5" />
<line x1="564.50" y1="341.13" x2="564.50" y2="343.20" stroke="rgb(137,137,137)" stroke-width="0.5" />
<line x1="571.50" y1="342.41" x2="571.50" y2="343.20" stroke="rgb(101,101,101)" stroke-width="0.5" />
<line x1="555.50" y1="339.66" x2="555.50" y2="343.20" stroke="rgb(117,117,117)" stroke-width="0.5" />
<line x1="574.50" y1="340.76" x2="574.50" y2="343.20" stroke="rgb(81,81,81)" stroke-width="0.5" />
<line x1="548.50" y1="341.13" x2="548.50" y2="343.20" stroke="rgb(92,92,92)" stroke-width="0.5" />
<line x1="562.50" y1="342.59" x2="562.50" y2="343.20" stroke="rgb(119,119,119)" stroke-width="0.5" />
<line x1="571.50" y1="341.08" x2="571.50" y2="343.20" stroke="rgb(124,124,124)" stroke-width="0.5" />
<line x1="507.50" y1="342.48" x2="507.50" y2="343.20" stroke="rgb(150,150,150)" stroke-width="0.5" />
<line x1="602.50" y1="341.54" x2="602.50" y2="343.20" stroke="rgb(152,152,152)" stroke-width="0.5" />
<line x1="500.50" y1="342.53" x2="500.50" y2="343.20" stroke="rgb(101,101,101)" stroke-width="0.5" />
<line x1="565.50" y1="342.41" x2="565.50" y2="343.20" stroke="rgb(90,90,90)" stroke-width="0.5" />
<line x1="529.50" y1="342.57" x2="529.50" y2="343.20" stroke="rgb(153,153,153)" stroke-width="0.5" />
<line x1="662.50" y1="342.58" x2="662.50" y2="343.20" stroke="rgb(144,144,144)" stroke-width="0.5" />
<line x1="487.50" y1="342.34" x2="487.50" y2="343.20" stroke="rgb(78,78,78)" stroke-width="0.5" />
<line x1="596.50" y1="340.83" x2="596.50" y2="343.20" stroke="rgb(115,115,115)" stroke-width="0.5" />
<line x1="521.50" y1="342.59" x2="521.50" y2="343.20" stroke="rgb(73,73,73)" stroke-width="0.5" />
<line x1="522.50" y1="339.48" x2="522.50" y2="343.20" stroke="rgb(119,119,119)" stroke-width="0.5" />
<line x1="464.50" y1="342.31" x2="464.50" y2="343.20" stroke="rgb(161,161,161)" stroke-width="0.5" />
<line x1="544.50" y1="342.55" x2="544.50" y2="343.20" stroke="rgb(140,140,140)" stroke-width="0.5" />
<line x1="525.50" y1="342.60" x2="525.50" y2="343.20" stroke="rgb(92,92,92)" stroke-width="0.5" />
<line x1="565.50" y1="342.30" x2="565.50" y2="343.20" stroke="rgb(154,154,154)" stroke-width="0.5" />
<line x1="516.50" y1="339.81" x2="516.50" y2="343.20" stroke="rgb(149,149,149)" stroke-width="0.5" />
<line x1="561.50" y1="340.71" x2="561.50" y2="343.20" stroke="rgb(113,113,113)" stroke-width="0.5" />
<line x1="607.50" y1="341.26" x2="607.50" y2="343.20" stroke="rgb(143,143,143)" stroke-width="0.5" />
<line x1="615.50" y1="340.51" x2="615.50" y2="343.20" stroke="rgb(149,149,149)" stroke-width="0.5" />
<line x1="563.50" y1="342.55" x2="563.50" y2="343.20" stroke="rgb(83,83,83)" stroke-width="0.5" />
<line x1="571.50" y1="342.18" x2="571.50" y2="343.20" stroke="rgb(100,100,100)" stroke-width="0.5" />
<line x1="519.50" y1="341.05" x2="519.50" y2="343.20" stroke="rgb(113,113,113)" stroke-width="0.5" />
<line x1="516.50" y1="342.31" x2="516.50" y2="343.20" stroke="rgb(151,151,151)" stroke-width="0.5" />
<line x1="569.50" y1="342.53" x2="569.50" y2="343.20" stroke="rgb(114,114,114)" stroke-width="0.5" />
<line x1="550.50" y1="342.60" x2="550.50" y2="343.20" stroke="rgb(169,169,169)" stroke-width="0.5" />
<line x1="541.50" y1="341.21" x2="541.50" y2="343.20" stroke="rgb(83,83,83)" stroke-width="0.5" />
<line x1="618.50" y1="342.44" x2="618.50" y2="343.20" stroke="rgb(61,61,61)" stroke-width="0.5" />
<line x1="538.50" y1="342.07" x2="538.50" y2="343.20" stroke="rgb(73,73,73)" stroke-width="0.5" />
<line x1="466.50" y1="341.88" x2="466.50" y2="343.20" stroke="rgb(80,80,80)" stroke-width="0.5" />
<line x1="582.50" y1="338.73" x2="582.50" y2="343.20" stroke="rgb(85,85,85)" stroke-width="0.5" />
<line x1="554.50" y1="342.60" x2="554.50" y2="343.20" stroke="rgb(133,133,133)" stroke-width="0.5" />
<line x1="547.50" y1="342.56" x2="547.50" y2="343.20" stroke="rgb(120,120,120)" stroke-width="0.5" />
<line x1="554.50" y1="341.42" x2="554.50" y2="343.20" stroke="rgb(166,166,166)" stroke-width="0.5" />
<line x1="535.50" y1="342.42" x2="535.50" y2="343.20" stroke="rgb(154,154,154)" stroke-width="0.5" />
<line x1="635.50" y1="342.56" x2="635.50" y2="343.20" stroke="rgb(147,147,147)" stroke-width="0.5" />
<line x1="505.50" y1="341.99" x2="505.50" y2="343.20" stroke="rgb(75,75,75)" stroke-width="0.5" />
<line x1="584.50" y1="341.56" x2="584.50" y2="343.20" stroke="rgb(141,141,141)" stroke-width="0.5" />
<line x1="473.50" y1="342.51" x2="473.50" y2="343.20" stroke="rgb(111,111,111)" stroke-width="0.5" />
<line x1="475.50" y1="342.60" x2="475.50" y2="343.20" stroke="rgb(113,113,113)" stroke-width="0.5" />
<line x1="569.50" y1="341.22" x2="569.50" y2="343.20" stroke="rgb(134,134,134)" stroke-width="0.5" />
<line x1="520.50" y1="342.55" x2="520.50" y2="343.20" stroke="rgb(154,154,154)" stroke-width="0.5" />
<line x1="540.50" y1="338.70" x2="540.50" y2="343.20" stroke="rgb(88,88,88)" stroke-width="0.5" />
<line x1="661.50" y1="338.61" x2="661.50" y2="343.20" stroke="rgb(119,119,119)" stroke-width="0.5" />
<line x1="511.50" y1="342.59" x2="511.50" y2="343.20" stroke="rgb(159,159,159)" stroke-width="0.5" />
<line x1="477.50" y1="340.31" x2="477.50" y2="343.20" stroke="rgb(84,84,84)" stroke-width="0.5" />
<line x1="548.50" y1="341.80" x2="548.50" y2="343.20" stroke="rgb(88,88,88)" stroke-width="0.5" />
<line x1="600.50" y1="342.59" x2="600.50" y2="343.20" stroke="rgb(145,145,145)" stroke-width="0.5" />
<line x1="570.50" y1="340.13" x2="570.50" y2="343.20" stroke="rgb(164,164,164)" stroke-width="0.5" />
<line x1="541.50" y1="338.15" x2="541.50" y2="343.20" stroke="rgb(157,157,157)" stroke-width="0.5" />
<line x1="558.50" y1="342.59" x2="558.50" y2="343.20" stroke="rgb(166,166,166)" stroke-width="0.5" />
<line x1="548.50" y1="340.43" x2="548.50" y2="343.20" stroke="rgb(89,89,89)" stroke-width="0.5" />
<line x1="520.50" y1="342.36" x2="520.50" y2="343.20" stroke="rgb(92,92,92)" stroke-width="0.5" />
<line x1="652.50" y1="341.19" x2="652.50" y2="343.20" stroke="rgb(121,121,121)" stroke-width="0.5" />
<line x1="442.50" y1="340.91" x2="442.50" y2="343.20" stroke="rgb(95,95,95)" stroke-width="0.5" />
<line x1="534.50" y1="341.34" x2="534.50" y2="343.20" stroke="rgb(101,101,101)" stroke-width="0.5" />
<line x1="550.50" y1="342.25" x2="550.50" y2="343.20" stroke="rgb(141,141,141)" stroke-width="0.5" />
<line x1="482.50" y1="339.35" x2="482.50" y2="343.20" stroke="rgb(79,79,79)" stroke-width="0.5" />
<line x1="628.50" y1="339.79" x2="628.50" y2="343.20" stroke="rgb(67,67,67)" stroke-width="0.5" />
<line x1="482.50" y1="341.79" x2="482.50" y2="343.20" stroke="rgb(101,101,101)" stroke-width="0.5" />
<line x1="594.50" y1="342.59" x2="594.50" y2="343.20" stroke="rgb(166,166,166)" stroke-width="0.5" />
<line x1="532.50" y1="341.71" x2="532.50" y2="343.20" stroke="rgb(144,144,144)" stroke-width="0.5" />
<line x1="540.00" y1="210.50" x2="540.00" y2="343.20" stroke="#c4c4c4" stroke-width="1.9" />
<line x1="539.50" y1="298.20" x2="539.50" y2="343.20" stroke="#383838" stroke-width="1.0" />
<text x="540.00" y="209.60" font-size="2.8" text-anchor="middle" fill="#6a6a6a" font-weight="normal">173.4436</text>
<line x1="465.00" y1="253.80" x2="465.00" y2="343.20" stroke="#c4c4c4" stroke-width="1.9" />
<line x1="518.00" y1="273.70" x2="518.00" y2="343.20" stroke="#c4c4c4" stroke-width="1.9" />
<text x="518.00" y="272.80" font-size="2.8" text-anchor="middle" fill="#6a6a6a" font-weight="normal">297.5800</text>
<line x1="501.50" y1="310.50" x2="501.50" y2="343.20" stroke="#505050" stroke-width="0.9" />
<text x="501.50" y="309.60" font-size="2.8" text-anchor="middle" fill="#6a6a6a" font-weight="normal">662.2663</text>
<line x1="481.50" y1="325.80" x2="481.50" y2="343.20" stroke="#505050" stroke-width="0.9" />
<text x="481.50" y="324.90" font-size="2.8" text-anchor="middle" fill="#6a6a6a" font-weight="normal">1334.3338</text>
<line x1="458.50" y1="333.00" x2="458.50" y2="343.20" stroke="#505050" stroke-width="0.9" />
<text x="458.50" y="332.10" font-size="2.8" text-anchor="middle" fill="#6a6a6a" font-weight="normal">628.4041</text>
<line x1="521.50" y1="321.70" x2="521.50" y2="343.20" stroke="#505050" stroke-width="0.9" />
<text x="521.50" y="320.80" font-size="2.8" text-anchor="middle" fill="#6a6a6a" font-weight="normal">1075.6676</text>
<line x1="544.50" y1="327.90" x2="544.50" y2="343.20" stroke="#505050" stroke-width="0.9" />
<text x="544.50" y="327.00" font-size="2.8" text-anchor="middle" fill="#6a6a6a" font-weight="normal">462.4416</text>
<line x1="584.00" y1="301.80" x2="584.00" y2="343.20" stroke="#c4c4c4" stroke-width="1.9" />
<line x1="583.50" y1="329.00" x2="583.50" y2="343.20" stroke="#383838" stroke-width="1.0" />
<text x="584.00" y="300.90" font-size="2.8" text-anchor="middle" fill="#6a6a6a" font-weight="normal">974.9757</text>
<line x1="563.50" y1="320.00" x2="563.50" y2="343.20" stroke="#505050" stroke-width="0.9" />
<text x="563.50" y="319.10" font-size="2.8" text-anchor="middle" fill="#6a6a6a" font-weight="normal">493.2481</text>
<line x1="603.50" y1="329.60" x2="603.50" y2="343.20" stroke="#505050" stroke-width="0.9" />
<text x="603.50" y="328.70" font-size="2.8" text-anchor="middle" fill="#6a6a6a" font-weight="normal">1273.5866</text>
<line x1="619.50" y1="329.60" x2="619.50" y2="343.20" stroke="#505050" stroke-width="0.9" />
<text x="619.50" y="328.70" font-size="2.8" text-anchor="middle" fill="#6a6a6a" font-weight="normal">554.9101</text>
<line x1="649.50" y1="335.00" x2="649.50" y2="343.20" stroke="#505050" stroke-width="0.9" />
<text x="649.50" y="334.10" font-size="2.8" text-anchor="middle" fill="#6a6a6a" font-weight="normal">586.9696</text>
<line x1="495.50" y1="332.00" x2="495.50" y2="343.20" stroke="#505050" stroke-width="0.9" />
<text x="495.50" y="331.10" font-size="2.8" text-anchor="middle" fill="#6a6a6a" font-weight="normal">311.8185</text>
<line x1="488.50" y1="339.00" x2="488.50" y2="343.20" stroke="#505050" stroke-width="0.9" />
<text x="488.50" y="338.10" font-size="2.8" text-anchor="middle" fill="#6a6a6a" font-weight="normal">389.2940</text>
<line x1="475.50" y1="339.00" x2="475.50" y2="343.20" stroke="#505050" stroke-width="0.9" />
<text x="475.50" y="338.10" font-size="2.8" text-anchor="middle" fill="#6a6a6a" font-weight="normal">691.7865</text>
<line x1="454.50" y1="336.00" x2="454.50" y2="343.20" stroke="#505050" stroke-width="0.9" />
<text x="454.50" y="335.10" font-size="2.8" text-anchor="middle" fill="#6a6a6a" font-weight="normal">629.3282</text>
<line x1="534.50" y1="330.00" x2="534.50" y2="343.20" stroke="#505050" stroke-width="0.9" />
<text x="534.50" y="329.10" font-size="2.8" text-anchor="middle" fill="#6a6a6a" font-weight="normal">1119.9078</text>
<line x1="536.50" y1="328.00" x2="536.50" y2="343.20" stroke="#505050" stroke-width="0.9" />
<line x1="626.50" y1="336.50" x2="626.50" y2="343.20" stroke="#505050" stroke-width="0.9" />
<text x="626.50" y="335.60" font-size="2.8" text-anchor="middle" fill="#6a6a6a" font-weight="normal">1291.1957</text>
<line x1="572.50" y1="338.50" x2="572.50" y2="343.20" stroke="#505050" stroke-width="0.9" />
<text x="572.50" y="337.60" font-size="2.8" text-anchor="middle" fill="#6a6a6a" font-weight="normal">1141.8652</text>
<line x1="592.50" y1="339.00" x2="592.50" y2="343.20" stroke="#505050" stroke-width="0.9" />
<text x="592.50" y="338.10" font-size="2.8" text-anchor="middle" fill="#6a6a6a" font-weight="normal">445.9050</text>
<line x1="612.50" y1="339.00" x2="612.50" y2="343.20" stroke="#505050" stroke-width="0.9" />
<line x1="637.50" y1="339.50" x2="637.50" y2="343.20" stroke="#505050" stroke-width="0.9" />
<text x="637.50" y="338.60" font-size="2.8" text-anchor="middle" fill="#6a6a6a" font-weight="normal">654.9162</text>
<line x1="662.50" y1="339.50" x2="662.50" y2="343.20" stroke="#505050" stroke-width="0.9" />
<text x="662.50" y="338.60" font-size="2.8" text-anchor="middle" fill="#6a6a6a" font-weight="normal">487.9839</text>
<line x1="670.50" y1="339.00" x2="670.50" y2="343.20" stroke="#505050" stroke-width="0.9" />
<text x="670.50" y="338.10" font-size="2.8" text-anchor="middle" fill="#6a6a6a" font-weight="normal">1377.1108</text>
<line x1="548.50" y1="338.00" x2="548.50" y2="343.20" stroke="#505050" stroke-width="0.9" />
<text x="540.60" y="204.70" font-size="5.6" font-weight="bold" text-anchor="middle" fill="#000">y<tspan font-size="3.58" dy="1.2">4</tspan></text>
<text x="465.50" y="267.30" font-size="5.6" font-weight="bold" text-anchor="middle" fill="#000">y<tspan font-size="3.58" dy="1.2">1</tspan></text>
<text x="501.30" y="302.70" font-size="5.6" font-weight="bold" text-anchor="middle" fill="#000">b<tspan font-size="3.58" dy="1.2">3</tspan></text>
<text x="481.30" y="315.70" font-size="5.6" font-weight="bold" text-anchor="middle" fill="#000">b<tspan font-size="3.58" dy="1.2">2</tspan></text>
<text x="458.40" y="325.50" font-size="5.6" font-weight="bold" text-anchor="middle" fill="#000">b<tspan font-size="3.58" dy="1.2">1</tspan></text>
<text x="521.20" y="314.90" font-size="5.6" font-weight="bold" text-anchor="middle" fill="#000">b<tspan font-size="3.58" dy="1.2">4</tspan></text>
<text x="544.30" y="323.10" font-size="5.6" font-weight="bold" text-anchor="middle" fill="#000">b<tspan font-size="3.58" dy="1.2">5</tspan></text>
<text x="583.50" y="295.40" font-size="5.6" font-weight="bold" text-anchor="middle" fill="#000">y<tspan font-size="3.58" dy="1.2">6</tspan></text>
<text x="563.20" y="312.70" font-size="5.6" font-weight="bold" text-anchor="middle" fill="#000">y<tspan font-size="3.58" dy="1.2">5</tspan></text>
<text x="603.40" y="323.50" font-size="5.6" font-weight="bold" text-anchor="middle" fill="#000">y<tspan font-size="3.58" dy="1.2">7</tspan></text>
<text x="619.70" y="322.60" font-size="5.6" font-weight="bold" text-anchor="middle" fill="#000">b<tspan font-size="3.58" dy="1.2">6</tspan></text>
<rect x="428.10" y="211.30" width="97.60" height="48.90" fill="none" stroke="#555" stroke-width="0.75"/>
<line x1="441.80" y1="215.50" x2="441.80" y2="244.10" stroke="#999" stroke-width="0.5" />
<line x1="440.60" y1="244.10" x2="441.80" y2="244.10" stroke="#999" stroke-width="0.4" />
<text x="440.20" y="244.70" font-size="1.7" text-anchor="end" fill="#888">0</text>
<line x1="440.60" y1="240.80" x2="441.80" y2="240.80" stroke="#999" stroke-width="0.4" />
<text x="440.20" y="241.40" font-size="1.7" text-anchor="end" fill="#888">500</text>
<line x1="440.60" y1="237.50" x2="441.80" y2="237.50" stroke="#999" stroke-width="0.4" />
<text x="440.20" y="238.10" font-size="1.7" text-anchor="end" fill="#888">1000</text>
<line x1="440.60" y1="234.20" x2="441.80" y2="234.20" stroke="#999" stroke-width="0.4" />
<text x="440.20" y="234.80" font-size="1.7" text-anchor="end" fill="#888">1500</text>
<line x1="440.60" y1="230.90" x2="441.80" y2="230.90" stroke="#999" stroke-width="0.4" />
<text x="440.20" y="231.50" font-size="1.7" text-anchor="end" fill="#888">2000</text>
<line x1="440.60" y1="227.60" x2="441.80" y2="227.60" stroke="#999" stroke-width="0.4" />
<text x="440.20" y="228.20" font-size="1.7" text-anchor="end" fill="#888">2500</text>
<line x1="440.60" y1="224.30" x2="441.80" y2="224.30" stroke="#999" stroke-width="0.4" />
<text x="440.20" y="224.90" font-size="1.7" text-anchor="end" fill="#888">3000</text>
<line x1="440.60" y1="221.00" x2="441.80" y2="221.00" stroke="#999" stroke-width="0.4" />
<text x="440.20" y="221.60" font-size="1.7" text-anchor="end" fill="#888">3500</text>
<line x1="440.60" y1="217.70" x2="441.80" y2="217.70" stroke="#999" stroke-width="0.4" />
<text x="440.20" y="218.30" font-size="1.7" text-anchor="end" fill="#888">4000</text>
<line x1="441.80" y1="244.10" x2="521.20" y2="244.10" stroke="#b8b8b8" stroke-width="0.6" />
<text x="0" y="0" font-size="3.6" text-anchor="middle" fill="#333" transform="translate(433.80,230.30) rotate(-90)">Intensity (counts)</text>
<line x1="453.55" y1="244.10" x2="453.55" y2="244.90" stroke="#aaa" stroke-width="0.4" />
<text x="453.55" y="251.00" font-size="4.1" font-weight="bold" text-anchor="middle" fill="#000" >114</text>
<line x1="474.00" y1="244.10" x2="474.00" y2="244.90" stroke="#aaa" stroke-width="0.4" />
<text x="474.00" y="251.00" font-size="4.1" font-weight="bold" text-anchor="middle" fill="#000" >115</text>
<line x1="494.45" y1="244.10" x2="494.45" y2="244.90" stroke="#aaa" stroke-width="0.4" />
<text x="494.45" y="251.00" font-size="4.1" font-weight="bold" text-anchor="middle" fill="#000" >116</text>
<line x1="514.90" y1="244.10" x2="514.90" y2="244.90" stroke="#aaa" stroke-width="0.4" />
<text x="514.90" y="251.00" font-size="4.1" font-weight="bold" text-anchor="middle" fill="#000" >117</text>
<text x="482.80" y="257.70" font-size="4.0" font-weight="bold" text-anchor="middle" fill="#000" >m/z</text>
<line x1="474.50" y1="233.40" x2="474.50" y2="244.10" stroke="#78aade" stroke-width="0.85" />
<line x1="514.50" y1="223.00" x2="514.50" y2="244.10" stroke="#78aade" stroke-width="0.85" />
<text x="473.30" y="229.60" font-size="4.7" font-weight="bold" text-anchor="middle" fill="#000" >115.11</text>
<text x="513.00" y="219.30" font-size="4.7" font-weight="bold" text-anchor="middle" fill="#000" >117.11</text>
<line x1="531.00" y1="237.00" x2="537.00" y2="237.00" stroke="#111" stroke-width="0.9" />
<path d="M527.70,237.00 L531.90,235.10 L531.90,238.90 Z" fill="#111"/>
</g>
<g>
<text x="32.60" y="397.60" font-size="9.6" font-weight="bold" text-anchor="start" fill="#000" stroke="#000" stroke-width="0.211" >UreB</text>
<text x="74.00" y="397.90" font-size="8.2" font-weight="bold" text-anchor="start" fill="#000" stroke="#000" stroke-width="0.180" >Peptide : eYVSMYGPTTGDk</text>
<text x="337.30" y="397.90" font-size="8.3" font-weight="bold" text-anchor="end" fill="#000" stroke="#000" stroke-width="0.183" >117/115 ratio : 1.098</text>
<line x1="80.90" y1="404.50" x2="80.90" y2="536.80" stroke="#707070" stroke-width="0.7" />
<line x1="79.30" y1="536.30" x2="80.90" y2="536.30" stroke="#777" stroke-width="0.5" />
<text x="79.00" y="537.30" font-size="2.9" text-anchor="end" fill="#707070">0</text>
<line x1="79.90" y1="532.27" x2="80.90" y2="532.27" stroke="#777" stroke-width="0.5" />
<line x1="79.30" y1="528.25" x2="80.90" y2="528.25" stroke="#777" stroke-width="0.5" />
<text x="79.00" y="529.25" font-size="2.9" text-anchor="end" fill="#707070">500</text>
<line x1="79.90" y1="524.23" x2="80.90" y2="524.23" stroke="#777" stroke-width="0.5" />
<line x1="79.30" y1="520.20" x2="80.90" y2="520.20" stroke="#777" stroke-width="0.5" />
<text x="79.00" y="521.20" font-size="2.9" text-anchor="end" fill="#707070">1000</text>
<line x1="79.90" y1="516.18" x2="80.90" y2="516.18" stroke="#777" stroke-width="0.5" />
<line x1="79.30" y1="512.15" x2="80.90" y2="512.15" stroke="#777" stroke-width="0.5" />
<text x="79.00" y="513.15" font-size="2.9" text-anchor="end" fill="#707070">1500</text>
<line x1="79.90" y1="508.13" x2="80.90" y2="508.13" stroke="#777" stroke-width="0.5" />
<line x1="79.30" y1="504.10" x2="80.90" y2="504.10" stroke="#777" stroke-width="0.5" />
<text x="79.00" y="505.10" font-size="2.9" text-anchor="end" fill="#707070">2000</text>
<line x1="79.90" y1="500.08" x2="80.90" y2="500.08" stroke="#777" stroke-width="0.5" />
<line x1="79.30" y1="496.05" x2="80.90" y2="496.05" stroke="#777" stroke-width="0.5" />
<text x="79.00" y="497.05" font-size="2.9" text-anchor="end" fill="#707070">2500</text>
<line x1="79.90" y1="492.03" x2="80.90" y2="492.03" stroke="#777" stroke-width="0.5" />
<line x1="79.30" y1="488.00" x2="80.90" y2="488.00" stroke="#777" stroke-width="0.5" />
<text x="79.00" y="489.00" font-size="2.9" text-anchor="end" fill="#707070">3000</text>
<line x1="79.90" y1="483.98" x2="80.90" y2="483.98" stroke="#777" stroke-width="0.5" />
<line x1="79.30" y1="479.95" x2="80.90" y2="479.95" stroke="#777" stroke-width="0.5" />
<text x="79.00" y="480.95" font-size="2.9" text-anchor="end" fill="#707070">3500</text>
<line x1="79.90" y1="475.93" x2="80.90" y2="475.93" stroke="#777" stroke-width="0.5" />
<line x1="79.30" y1="471.90" x2="80.90" y2="471.90" stroke="#777" stroke-width="0.5" />
<text x="79.00" y="472.90" font-size="2.9" text-anchor="end" fill="#707070">4000</text>
<line x1="79.90" y1="467.88" x2="80.90" y2="467.88" stroke="#777" stroke-width="0.5" />
<line x1="79.30" y1="463.85" x2="80.90" y2="463.85" stroke="#777" stroke-width="0.5" />
<text x="79.00" y="464.85" font-size="2.9" text-anchor="end" fill="#707070">4500</text>
<line x1="79.90" y1="459.83" x2="80.90" y2="459.83" stroke="#777" stroke-width="0.5" />
<line x1="79.30" y1="455.80" x2="80.90" y2="455.80" stroke="#777" stroke-width="0.5" />
<text x="79.00" y="456.80" font-size="2.9" text-anchor="end" fill="#707070">5000</text>
<line x1="79.90" y1="451.78" x2="80.90" y2="451.78" stroke="#777" stroke-width="0.5" />
<line x1="79.30" y1="447.75" x2="80.90" y2="447.75" stroke="#777" stroke-width="0.5" />
<text x="79.00" y="448.75" font-size="2.9" text-anchor="end" fill="#707070">5500</text>
<line x1="79.90" y1="443.73" x2="80.90" y2="443.73" stroke="#777" stroke-width="0.5" />
<line x1="79.30" y1="439.70" x2="80.90" y2="439.70" stroke="#777" stroke-width="0.5" />
<text x="79.00" y="440.70" font-size="2.9" text-anchor="end" fill="#707070">6000</text>
<line x1="79.90" y1="435.68" x2="80.90" y2="435.68" stroke="#777" stroke-width="0.5" />
<line x1="79.30" y1="431.65" x2="80.90" y2="431.65" stroke="#777" stroke-width="0.5" />
<text x="79.00" y="432.65" font-size="2.9" text-anchor="end" fill="#707070">6500</text>
<line x1="79.90" y1="427.63" x2="80.90" y2="427.63" stroke="#777" stroke-width="0.5" />
<line x1="79.30" y1="423.60" x2="80.90" y2="423.60" stroke="#777" stroke-width="0.5" />
<text x="79.00" y="424.60" font-size="2.9" text-anchor="end" fill="#707070">7000</text>
<line x1="79.90" y1="419.58" x2="80.90" y2="419.58" stroke="#777" stroke-width="0.5" />
<line x1="79.30" y1="415.55" x2="80.90" y2="415.55" stroke="#777" stroke-width="0.5" />
<text x="79.00" y="416.55" font-size="2.9" text-anchor="end" fill="#707070">7500</text>
<line x1="79.90" y1="411.53" x2="80.90" y2="411.53" stroke="#777" stroke-width="0.5" />
<line x1="79.30" y1="407.50" x2="80.90" y2="407.50" stroke="#777" stroke-width="0.5" />
<text x="79.00" y="408.50" font-size="2.9" text-anchor="end" fill="#707070">8000</text>
<line x1="80.90" y1="536.30" x2="335.70" y2="536.30" stroke="#4a4a4a" stroke-width="0.8" />
<line x1="96.80" y1="536.30" x2="96.80" y2="537.80" stroke="#777" stroke-width="0.5" />
<text x="96.80" y="540.60" font-size="2.9" text-anchor="middle" fill="#707070">200</text>
<line x1="105.22" y1="536.30" x2="105.22" y2="537.20" stroke="#999" stroke-width="0.4" />
<line x1="113.65" y1="536.30" x2="113.65" y2="537.80" stroke="#777" stroke-width="0.5" />
<text x="113.65" y="540.60" font-size="2.9" text-anchor="middle" fill="#707070">300</text>
<line x1="122.08" y1="536.30" x2="122.08" y2="537.20" stroke="#999" stroke-width="0.4" />
<line x1="130.50" y1="536.30" x2="130.50" y2="537.80" stroke="#777" stroke-width="0.5" />
<text x="130.50" y="540.60" font-size="2.9" text-anchor="middle" fill="#707070">400</text>
<line x1="138.93" y1="536.30" x2="138.93" y2="537.20" stroke="#999" stroke-width="0.4" />
<line x1="147.35" y1="536.30" x2="147.35" y2="537.80" stroke="#777" stroke-width="0.5" />
<text x="147.35" y="540.60" font-size="2.9" text-anchor="middle" fill="#707070">500</text>
<line x1="155.78" y1="536.30" x2="155.78" y2="537.20" stroke="#999" stroke-width="0.4" />
<line x1="164.20" y1="536.30" x2="164.20" y2="537.80" stroke="#777" stroke-width="0.5" />
<text x="164.20" y="540.60" font-size="2.9" text-anchor="middle" fill="#707070">600</text>
<line x1="172.62" y1="536.30" x2="172.62" y2="537.20" stroke="#999" stroke-width="0.4" />
<line x1="181.05" y1="536.30" x2="181.05" y2="537.80" stroke="#777" stroke-width="0.5" />
<text x="181.05" y="540.60" font-size="2.9" text-anchor="middle" fill="#707070">700</text>
<line x1="189.47" y1="536.30" x2="189.47" y2="537.20" stroke="#999" stroke-width="0.4" />
<line x1="197.90" y1="536.30" x2="197.90" y2="537.80" stroke="#777" stroke-width="0.5" />
<text x="197.90" y="540.60" font-size="2.9" text-anchor="middle" fill="#707070">800</text>
<line x1="206.32" y1="536.30" x2="206.32" y2="537.20" stroke="#999" stroke-width="0.4" />
<line x1="214.75" y1="536.30" x2="214.75" y2="537.80" stroke="#777" stroke-width="0.5" />
<text x="214.75" y="540.60" font-size="2.9" text-anchor="middle" fill="#707070">900</text>
<line x1="223.17" y1="536.30" x2="223.17" y2="537.20" stroke="#999" stroke-width="0.4" />
<line x1="231.60" y1="536.30" x2="231.60" y2="537.80" stroke="#777" stroke-width="0.5" />
<text x="231.60" y="540.60" font-size="2.9" text-anchor="middle" fill="#707070">1000</text>
<line x1="240.02" y1="536.30" x2="240.02" y2="537.20" stroke="#999" stroke-width="0.4" />
<line x1="248.45" y1="536.30" x2="248.45" y2="537.80" stroke="#777" stroke-width="0.5" />
<text x="248.45" y="540.60" font-size="2.9" text-anchor="middle" fill="#707070">1100</text>
<line x1="256.87" y1="536.30" x2="256.87" y2="537.20" stroke="#999" stroke-width="0.4" />
<line x1="265.30" y1="536.30" x2="265.30" y2="537.80" stroke="#777" stroke-width="0.5" />
<text x="265.30" y="540.60" font-size="2.9" text-anchor="middle" fill="#707070">1200</text>
<line x1="273.72" y1="536.30" x2="273.72" y2="537.20" stroke="#999" stroke-width="0.4" />
<line x1="282.15" y1="536.30" x2="282.15" y2="537.80" stroke="#777" stroke-width="0.5" />
<text x="282.15" y="540.60" font-size="2.9" text-anchor="middle" fill="#707070">1300</text>
<line x1="290.57" y1="536.30" x2="290.57" y2="537.20" stroke="#999" stroke-width="0.4" />
<line x1="299.00" y1="536.30" x2="299.00" y2="537.80" stroke="#777" stroke-width="0.5" />
<text x="299.00" y="540.60" font-size="2.9" text-anchor="middle" fill="#707070">1400</text>
<line x1="307.43" y1="536.30" x2="307.43" y2="537.20" stroke="#999" stroke-width="0.4" />
<line x1="315.85" y1="536.30" x2="315.85" y2="537.80" stroke="#777" stroke-width="0.5" />
<text x="315.85" y="540.60" font-size="2.9" text-anchor="middle" fill="#707070">1500</text>
<line x1="324.28" y1="536.30" x2="324.28" y2="537.20" stroke="#999" stroke-width="0.4" />
<line x1="332.70" y1="536.30" x2="332.70" y2="537.80" stroke="#777" stroke-width="0.5" />
<text x="332.70" y="540.60" font-size="2.9" text-anchor="middle" fill="#707070">1600</text>
<line x1="341.13" y1="536.30" x2="341.13" y2="537.20" stroke="#999" stroke-width="0.4" />
<text x="0" y="0" font-size="8.3" font-weight="bold" text-anchor="middle" fill="#000" stroke="#000" stroke-width="0.18" transform="translate(69.20,472.00) rotate(-90)">Intensity (counts)</text>
<text x="210.20" y="552.60" font-size="8.2" font-weight="bold" text-anchor="middle" fill="#000" stroke="#000" stroke-width="0.180" >m/z</text>
<line x1="158.50" y1="535.55" x2="158.50" y2="536.30" stroke="rgb(149,149,149)" stroke-width="0.5" />
<line x1="218.50" y1="534.37" x2="218.50" y2="536.30" stroke="rgb(167,167,167)" stroke-width="0.5" />
<line x1="206.50" y1="535.35" x2="206.50" y2="536.30" stroke="rgb(146,146,146)" stroke-width="0.5" />
<line x1="137.50" y1="534.54" x2="137.50" y2="536.30" stroke="rgb(141,141,141)" stroke-width="0.5" />
<line x1="229.50" y1="535.70" x2="229.50" y2="536.30" stroke="rgb(65,65,65)" stroke-width="0.5" />
<line x1="235.50" y1="532.06" x2="235.50" y2="536.30" stroke="rgb(102,102,102)" stroke-width="0.5" />
<line x1="257.50" y1="535.70" x2="257.50" y2="536.30" stroke="rgb(121,121,121)" stroke-width="0.5" />
<line x1="208.50" y1="532.45" x2="208.50" y2="536.30" stroke="rgb(64,64,64)" stroke-width="0.5" />
<line x1="168.50" y1="535.38" x2="168.50" y2="536.30" stroke="rgb(76,76,76)" stroke-width="0.5" />
<line x1="189.50" y1="532.82" x2="189.50" y2="536.30" stroke="rgb(106,106,106)" stroke-width="0.5" />
<line x1="189.50" y1="533.58" x2="189.50" y2="536.30" stroke="rgb(130,130,130)" stroke-width="0.5" />
<line x1="250.50" y1="535.66" x2="250.50" y2="536.30" stroke="rgb(115,115,115)" stroke-width="0.5" />
<line x1="189.50" y1="535.63" x2="189.50" y2="536.30" stroke="rgb(66,66,66)" stroke-width="0.5" />
<line x1="261.50" y1="535.59" x2="261.50" y2="536.30" stroke="rgb(165,165,165)" stroke-width="0.5" />
<line x1="209.50" y1="535.53" x2="209.50" y2="536.30" stroke="rgb(94,94,94)" stroke-width="0.5" />
<line x1="271.50" y1="535.52" x2="271.50" y2="536.30" stroke="rgb(86,86,86)" stroke-width="0.5" />
<line x1="231.50" y1="533.46" x2="231.50" y2="536.30" stroke="rgb(102,102,102)" stroke-width="0.5" />
<line x1="164.50" y1="534.07" x2="164.50" y2="536.30" stroke="rgb(76,76,76)" stroke-width="0.5" />
<line x1="221.50" y1="534.55" x2="221.50" y2="536.30" stroke="rgb(160,160,160)" stroke-width="0.5" />
<line x1="323.50" y1="535.41" x2="323.50" y2="536.30" stroke="rgb(130,130,130)" stroke-width="0.5" />
<line x1="274.50" y1="534.97" x2="274.50" y2="536.30" stroke="rgb(66,66,66)" stroke-width="0.5" />
<line x1="197.50" y1="535.69" x2="197.50" y2="536.30" stroke="rgb(65,65,65)" stroke-width="0.5" />
<line x1="164.50" y1="532.18" x2="164.50" y2="536.30" stroke="rgb(137,137,137)" stroke-width="0.5" />
<line x1="249.50" y1="535.70" x2="249.50" y2="536.30" stroke="rgb(124,124,124)" stroke-width="0.5" />
<line x1="281.50" y1="534.67" x2="281.50" y2="536.30" stroke="rgb(138,138,138)" stroke-width="0.5" />
<line x1="155.50" y1="534.32" x2="155.50" y2="536.30" stroke="rgb(148,148,148)" stroke-width="0.5" />
<line x1="222.50" y1="534.28" x2="222.50" y2="536.30" stroke="rgb(87,87,87)" stroke-width="0.5" />
<line x1="124.50" y1="534.56" x2="124.50" y2="536.30" stroke="rgb(140,140,140)" stroke-width="0.5" />
<line x1="248.50" y1="535.70" x2="248.50" y2="536.30" stroke="rgb(83,83,83)" stroke-width="0.5" />
<line x1="270.50" y1="535.36" x2="270.50" y2="536.30" stroke="rgb(72,72,72)" stroke-width="0.5" />
<line x1="282.50" y1="534.43" x2="282.50" y2="536.30" stroke="rgb(107,107,107)" stroke-width="0.5" />
<line x1="271.50" y1="535.69" x2="271.50" y2="536.30" stroke="rgb(99,99,99)" stroke-width="0.5" />
<line x1="218.50" y1="535.62" x2="218.50" y2="536.30" stroke="rgb(98,98,98)" stroke-width="0.5" />
<line x1="163.50" y1="535.70" x2="163.50" y2="536.30" stroke="rgb(62,62,62)" stroke-width="0.5" />
<line x1="201.50" y1="534.51" x2="201.50" y2="536.30" stroke="rgb(66,66,66)" stroke-width="0.5" />
<line x1="210.50" y1="535.06" x2="210.50" y2="536.30" stroke="rgb(165,165,165)" stroke-width="0.5" />
<line x1="149.50" y1="533.31" x2="149.50" y2="536.30" stroke="rgb(133,133,133)" stroke-width="0.5" />
<line x1="237.50" y1="535.40" x2="237.50" y2="536.30" stroke="rgb(68,68,68)" stroke-width="0.5" />
<line x1="110.50" y1="535.44" x2="110.50" y2="536.30" stroke="rgb(135,135,135)" stroke-width="0.5" />
<line x1="319.50" y1="534.41" x2="319.50" y2="536.30" stroke="rgb(79,79,79)" stroke-width="0.5" />
<line x1="207.50" y1="535.38" x2="207.50" y2="536.30" stroke="rgb(73,73,73)" stroke-width="0.5" />
<line x1="139.50" y1="535.23" x2="139.50" y2="536.30" stroke="rgb(79,79,79)" stroke-width="0.5" />
<line x1="227.50" y1="535.35" x2="227.50" y2="536.30" stroke="rgb(61,61,61)" stroke-width="0.5" />
<line x1="235.50" y1="535.69" x2="235.50" y2="536.30" stroke="rgb(169,169,169)" stroke-width="0.5" />
<line x1="141.50" y1="532.74" x2="141.50" y2="536.30" stroke="rgb(76,76,76)" stroke-width="0.5" />
<line x1="206.50" y1="535.61" x2="206.50" y2="536.30" stroke="rgb(132,132,132)" stroke-width="0.5" />
<line x1="174.50" y1="533.92" x2="174.50" y2="536.30" stroke="rgb(83,83,83)" stroke-width="0.5" />
<line x1="285.50" y1="535.48" x2="285.50" y2="536.30" stroke="rgb(155,155,155)" stroke-width="0.5" />
<line x1="240.50" y1="532.88" x2="240.50" y2="536.30" stroke="rgb(153,153,153)" stroke-width="0.5" />
<line x1="248.50" y1="535.59" x2="248.50" y2="536.30" stroke="rgb(131,131,131)" stroke-width="0.5" />
<line x1="239.50" y1="535.26" x2="239.50" y2="536.30" stroke="rgb(92,92,92)" stroke-width="0.5" />
<line x1="282.50" y1="535.70" x2="282.50" y2="536.30" stroke="rgb(64,64,64)" stroke-width="0.5" />
<line x1="108.50" y1="535.70" x2="108.50" y2="536.30" stroke="rgb(143,143,143)" stroke-width="0.5" />
<line x1="236.50" y1="534.64" x2="236.50" y2="536.30" stroke="rgb(109,109,109)" stroke-width="0.5" />
<line x1="185.50" y1="533.95" x2="185.50" y2="536.30" stroke="rgb(81,81,81)" stroke-width="0.5" />
<line x1="297.50" y1="533.08" x2="297.50" y2="536.30" stroke="rgb(137,137,137)" stroke-width="0.5" />
<line x1="132.50" y1="535.48" x2="132.50" y2="536.30" stroke="rgb(133,133,133)" stroke-width="0.5" />
<line x1="242.50" y1="535.23" x2="242.50" y2="536.30" stroke="rgb(81,81,81)" stroke-width="0.5" />
<line x1="155.50" y1="533.42" x2="155.50" y2="536.30" stroke="rgb(106,106,106)" stroke-width="0.5" />
<line x1="296.50" y1="535.68" x2="296.50" y2="536.30" stroke="rgb(162,162,162)" stroke-width="0.5" />
<line x1="200.50" y1="535.44" x2="200.50" y2="536.30" stroke="rgb(160,160,160)" stroke-width="0.5" />
<line x1="204.50" y1="535.61" x2="204.50" y2="536.30" stroke="rgb(156,156,156)" stroke-width="0.5" />
<line x1="218.50" y1="535.59" x2="218.50" y2="536.30" stroke="rgb(67,67,67)" stroke-width="0.5" />
<line x1="226.50" y1="534.46" x2="226.50" y2="536.30" stroke="rgb(162,162,162)" stroke-width="0.5" />
<line x1="261.50" y1="535.54" x2="261.50" y2="536.30" stroke="rgb(137,137,137)" stroke-width="0.5" />
<line x1="242.50" y1="535.70" x2="242.50" y2="536.30" stroke="rgb(79,79,79)" stroke-width="0.5" />
<line x1="223.50" y1="535.57" x2="223.50" y2="536.30" stroke="rgb(114,114,114)" stroke-width="0.5" />
<line x1="306.50" y1="535.63" x2="306.50" y2="536.30" stroke="rgb(109,109,109)" stroke-width="0.5" />
<line x1="235.50" y1="534.72" x2="235.50" y2="536.30" stroke="rgb(89,89,89)" stroke-width="0.5" />
<line x1="257.50" y1="535.60" x2="257.50" y2="536.30" stroke="rgb(60,60,60)" stroke-width="0.5" />
<line x1="186.50" y1="535.61" x2="186.50" y2="536.30" stroke="rgb(80,80,80)" stroke-width="0.5" />
<line x1="221.50" y1="533.26" x2="221.50" y2="536.30" stroke="rgb(160,160,160)" stroke-width="0.5" />
<line x1="125.50" y1="533.10" x2="125.50" y2="536.30" stroke="rgb(163,163,163)" stroke-width="0.5" />
<line x1="275.50" y1="531.30" x2="275.50" y2="536.30" stroke="rgb(78,78,78)" stroke-width="0.5" />
<line x1="179.50" y1="532.92" x2="179.50" y2="536.30" stroke="rgb(163,163,163)" stroke-width="0.5" />
<line x1="216.50" y1="533.59" x2="216.50" y2="536.30" stroke="rgb(123,123,123)" stroke-width="0.5" />
<line x1="190.50" y1="535.70" x2="190.50" y2="536.30" stroke="rgb(130,130,130)" stroke-width="0.5" />
<line x1="208.50" y1="535.45" x2="208.50" y2="536.30" stroke="rgb(160,160,160)" stroke-width="0.5" />
<line x1="246.50" y1="532.06" x2="246.50" y2="536.30" stroke="rgb(89,89,89)" stroke-width="0.5" />
<line x1="184.50" y1="535.70" x2="184.50" y2="536.30" stroke="rgb(110,110,110)" stroke-width="0.5" />
<line x1="206.50" y1="535.66" x2="206.50" y2="536.30" stroke="rgb(92,92,92)" stroke-width="0.5" />
<line x1="221.50" y1="535.70" x2="221.50" y2="536.30" stroke="rgb(109,109,109)" stroke-width="0.5" />
<line x1="205.50" y1="535.70" x2="205.50" y2="536.30" stroke="rgb(163,163,163)" stroke-width="0.5" />
<line x1="191.50" y1="535.70" x2="191.50" y2="536.30" stroke="rgb(110,110,110)" stroke-width="0.5" />
<line x1="220.50" y1="532.45" x2="220.50" y2="536.30" stroke="rgb(166,166,166)" stroke-width="0.5" />
<line x1="213.50" y1="535.21" x2="213.50" y2="536.30" stroke="rgb(135,135,135)" stroke-width="0.5" />
<line x1="166.50" y1="535.66" x2="166.50" y2="536.30" stroke="rgb(71,71,71)" stroke-width="0.5" />
<line x1="162.50" y1="534.15" x2="162.50" y2="536.30" stroke="rgb(106,106,106)" stroke-width="0.5" />
<line x1="220.50" y1="535.49" x2="220.50" y2="536.30" stroke="rgb(159,159,159)" stroke-width="0.5" />
<line x1="212.50" y1="535.69" x2="212.50" y2="536.30" stroke="rgb(65,65,65)" stroke-width="0.5" />
<line x1="285.50" y1="535.16" x2="285.50" y2="536.30" stroke="rgb(170,170,170)" stroke-width="0.5" />
<line x1="145.50" y1="534.56" x2="145.50" y2="536.30" stroke="rgb(160,160,160)" stroke-width="0.5" />
<line x1="139.50" y1="535.56" x2="139.50" y2="536.30" stroke="rgb(63,63,63)" stroke-width="0.5" />
<line x1="190.50" y1="535.07" x2="190.50" y2="536.30" stroke="rgb(62,62,62)" stroke-width="0.5" />
<line x1="142.50" y1="535.66" x2="142.50" y2="536.30" stroke="rgb(170,170,170)" stroke-width="0.5" />
<line x1="218.50" y1="534.79" x2="218.50" y2="536.30" stroke="rgb(87,87,87)" stroke-width="0.5" />
<line x1="177.50" y1="533.57" x2="177.50" y2="536.30" stroke="rgb(114,114,114)" stroke-width="0.5" />
<line x1="143.50" y1="535.30" x2="143.50" y2="536.30" stroke="rgb(135,135,135)" stroke-width="0.5" />
<line x1="259.50" y1="531.68" x2="259.50" y2="536.30" stroke="rgb(92,92,92)" stroke-width="0.5" />
<line x1="264.50" y1="535.52" x2="264.50" y2="536.30" stroke="rgb(83,83,83)" stroke-width="0.5" />
<line x1="194.50" y1="535.70" x2="194.50" y2="536.30" stroke="rgb(64,64,64)" stroke-width="0.5" />
<line x1="217.50" y1="532.73" x2="217.50" y2="536.30" stroke="rgb(118,118,118)" stroke-width="0.5" />
<line x1="208.50" y1="532.98" x2="208.50" y2="536.30" stroke="rgb(68,68,68)" stroke-width="0.5" />
<line x1="269.50" y1="534.52" x2="269.50" y2="536.30" stroke="rgb(75,75,75)" stroke-width="0.5" />
<line x1="239.50" y1="535.70" x2="239.50" y2="536.30" stroke="rgb(100,100,100)" stroke-width="0.5" />
<line x1="218.50" y1="534.52" x2="218.50" y2="536.30" stroke="rgb(145,145,145)" stroke-width="0.5" />
<line x1="211.50" y1="535.67" x2="211.50" y2="536.30" stroke="rgb(168,168,168)" stroke-width="0.5" />
<line x1="158.50" y1="531.65" x2="158.50" y2="536.30" stroke="rgb(152,152,152)" stroke-width="0.5" />
<line x1="170.50" y1="535.70" x2="170.50" y2="536.30" stroke="rgb(92,92,92)" stroke-width="0.5" />
<line x1="291.50" y1="535.70" x2="291.50" y2="536.30" stroke="rgb(130,130,130)" stroke-width="0.5" />
<line x1="279.50" y1="533.06" x2="279.50" y2="536.30" stroke="rgb(66,66,66)" stroke-width="0.5" />
<line x1="176.50" y1="535.09" x2="176.50" y2="536.30" stroke="rgb(154,154,154)" stroke-width="0.5" />
<line x1="229.50" y1="531.39" x2="229.50" y2="536.30" stroke="rgb(67,67,67)" stroke-width="0.5" />
<line x1="144.50" y1="535.56" x2="144.50" y2="536.30" stroke="rgb(60,60,60)" stroke-width="0.5" />
<line x1="290.50" y1="534.30" x2="290.50" y2="536.30" stroke="rgb(98,98,98)" stroke-width="0.5" />
<line x1="221.50" y1="535.31" x2="221.50" y2="536.30" stroke="rgb(143,143,143)" stroke-width="0.5" />
<line x1="145.50" y1="535.55" x2="145.50" y2="536.30" stroke="rgb(92,92,92)" stroke-width="0.5" />
<line x1="196.50" y1="535.46" x2="196.50" y2="536.30" stroke="rgb(108,108,108)" stroke-width="0.5" />
<line x1="160.50" y1="535.64" x2="160.50" y2="536.30" stroke="rgb(78,78,78)" stroke-width="0.5" />
<line x1="282.50" y1="532.50" x2="282.50" y2="536.30" stroke="rgb(119,119,119)" stroke-width="0.5" />
<line x1="240.50" y1="535.67" x2="240.50" y2="536.30" stroke="rgb(64,64,64)" stroke-width="0.5" />
<line x1="157.50" y1="533.10" x2="157.50" y2="536.30" stroke="rgb(69,69,69)" stroke-width="0.5" />
<line x1="288.50" y1="532.77" x2="288.50" y2="536.30" stroke="rgb(155,155,155)" stroke-width="0.5" />
<line x1="154.50" y1="535.30" x2="154.50" y2="536.30" stroke="rgb(72,72,72)" stroke-width="0.5" />
<line x1="286.50" y1="535.44" x2="286.50" y2="536.30" stroke="rgb(62,62,62)" stroke-width="0.5" />
<line x1="227.50" y1="535.28" x2="227.50" y2="536.30" stroke="rgb(103,103,103)" stroke-width="0.5" />
<line x1="186.50" y1="535.64" x2="186.50" y2="536.30" stroke="rgb(74,74,74)" stroke-width="0.5" />
<line x1="227.50" y1="535.69" x2="227.50" y2="536.30" stroke="rgb(88,88,88)" stroke-width="0.5" />
<line x1="244.50" y1="535.67" x2="244.50" y2="536.30" stroke="rgb(117,117,117)" stroke-width="0.5" />
<line x1="217.50" y1="535.69" x2="217.50" y2="536.30" stroke="rgb(79,79,79)" stroke-width="0.5" />
<line x1="201.00" y1="404.60" x2="201.00" y2="536.30" stroke="#c4c4c4" stroke-width="1.9" />
<text x="201.00" y="403.70" font-size="2.8" text-anchor="middle" fill="#6a6a6a" font-weight="normal">695.7852</text>
<line x1="218.00" y1="469.50" x2="218.00" y2="536.30" stroke="#c4c4c4" stroke-width="1.9" />
<text x="218.00" y="468.60" font-size="2.8" text-anchor="middle" fill="#6a6a6a" font-weight="normal">993.5042</text>
<line x1="229.00" y1="453.60" x2="229.00" y2="536.30" stroke="#c4c4c4" stroke-width="1.9" />
<line x1="228.50" y1="495.00" x2="228.50" y2="536.30" stroke="#383838" stroke-width="1.0" />
<text x="229.00" y="452.70" font-size="2.8" text-anchor="middle" fill="#6a6a6a" font-weight="normal">468.1416</text>
<line x1="251.50" y1="503.10" x2="251.50" y2="536.30" stroke="#505050" stroke-width="0.9" />
<text x="251.50" y="502.20" font-size="2.8" text-anchor="middle" fill="#6a6a6a" font-weight="normal">705.5858</text>
<line x1="265.00" y1="469.50" x2="265.00" y2="536.30" stroke="#c4c4c4" stroke-width="1.9" />
<line x1="264.50" y1="509.50" x2="264.50" y2="536.30" stroke="#383838" stroke-width="1.0" />
<text x="265.00" y="468.60" font-size="2.8" text-anchor="middle" fill="#6a6a6a" font-weight="normal">835.3749</text>
<line x1="282.50" y1="523.90" x2="282.50" y2="536.30" stroke="#505050" stroke-width="0.9" />
<text x="282.50" y="523.00" font-size="2.8" text-anchor="middle" fill="#6a6a6a" font-weight="normal">683.9044</text>
<line x1="307.50" y1="505.70" x2="307.50" y2="536.30" stroke="#505050" stroke-width="0.9" />
<text x="307.50" y="504.80" font-size="2.8" text-anchor="middle" fill="#6a6a6a" font-weight="normal">373.6211</text>
<line x1="309.50" y1="519.00" x2="309.50" y2="536.30" stroke="#505050" stroke-width="0.9" />
<text x="309.50" y="518.10" font-size="2.8" text-anchor="middle" fill="#6a6a6a" font-weight="normal">1084.8904</text>
<line x1="331.50" y1="525.50" x2="331.50" y2="536.30" stroke="#505050" stroke-width="0.9" />
<text x="331.50" y="524.60" font-size="2.8" text-anchor="middle" fill="#6a6a6a" font-weight="normal">383.3512</text>
<line x1="112.50" y1="510.90" x2="112.50" y2="536.30" stroke="#505050" stroke-width="0.9" />
<text x="112.50" y="510.00" font-size="2.8" text-anchor="middle" fill="#6a6a6a" font-weight="normal">1201.1931</text>
<line x1="136.50" y1="510.90" x2="136.50" y2="536.30" stroke="#505050" stroke-width="0.9" />
<text x="136.50" y="510.00" font-size="2.8" text-anchor="middle" fill="#6a6a6a" font-weight="normal">582.8822</text>
<line x1="141.50" y1="526.20" x2="141.50" y2="536.30" stroke="#505050" stroke-width="0.9" />
<text x="141.50" y="525.30" font-size="2.8" text-anchor="middle" fill="#6a6a6a" font-weight="normal">736.2952</text>
<line x1="148.50" y1="517.90" x2="148.50" y2="536.30" stroke="#505050" stroke-width="0.9" />
<text x="148.50" y="517.00" font-size="2.8" text-anchor="middle" fill="#6a6a6a" font-weight="normal">677.4303</text>
<line x1="153.50" y1="478.50" x2="153.50" y2="536.30" stroke="#505050" stroke-width="0.9" />
<text x="153.50" y="477.60" font-size="2.8" text-anchor="middle" fill="#6a6a6a" font-weight="normal">896.8078</text>
<line x1="158.50" y1="524.00" x2="158.50" y2="536.30" stroke="#c0c0c0" stroke-width="1.0" />
<text x="158.50" y="523.10" font-size="2.8" text-anchor="middle" fill="#6a6a6a" font-weight="normal">685.4910</text>
<line x1="164.50" y1="507.40" x2="164.50" y2="536.30" stroke="#c0c0c0" stroke-width="1.0" />
<text x="164.50" y="506.50" font-size="2.8" text-anchor="middle" fill="#6a6a6a" font-weight="normal">637.2598</text>
<line x1="168.50" y1="503.60" x2="168.50" y2="536.30" stroke="#505050" stroke-width="0.9" />
<text x="168.50" y="502.70" font-size="2.8" text-anchor="middle" fill="#6a6a6a" font-weight="normal">949.5741</text>
<line x1="187.50" y1="475.80" x2="187.50" y2="536.30" stroke="#505050" stroke-width="0.9" />
<text x="187.50" y="474.90" font-size="2.8" text-anchor="middle" fill="#6a6a6a" font-weight="normal">1001.3657</text>
<line x1="191.50" y1="476.30" x2="191.50" y2="536.30" stroke="#505050" stroke-width="0.9" />
<line x1="191.50" y1="500.00" x2="191.50" y2="536.30" stroke="#383838" stroke-width="1.0" />
<text x="191.50" y="475.40" font-size="2.8" text-anchor="middle" fill="#6a6a6a" font-weight="normal">267.5809</text>
<line x1="109.50" y1="531.00" x2="109.50" y2="536.30" stroke="#505050" stroke-width="0.9" />
<text x="109.50" y="530.10" font-size="2.8" text-anchor="middle" fill="#6a6a6a" font-weight="normal">445.1262</text>
<line x1="132.50" y1="532.00" x2="132.50" y2="536.30" stroke="#505050" stroke-width="0.9" />
<text x="132.50" y="531.10" font-size="2.8" text-anchor="middle" fill="#6a6a6a" font-weight="normal">1055.9319</text>
<line x1="182.50" y1="532.00" x2="182.50" y2="536.30" stroke="#505050" stroke-width="0.9" />
<text x="182.50" y="531.10" font-size="2.8" text-anchor="middle" fill="#6a6a6a" font-weight="normal">848.9368</text>
<line x1="198.50" y1="530.60" x2="198.50" y2="536.30" stroke="#505050" stroke-width="0.9" />
<line x1="206.50" y1="524.40" x2="206.50" y2="536.30" stroke="#505050" stroke-width="0.9" />
<text x="206.50" y="523.50" font-size="2.8" text-anchor="middle" fill="#6a6a6a" font-weight="normal">437.8258</text>
<line x1="213.50" y1="517.50" x2="213.50" y2="536.30" stroke="#505050" stroke-width="0.9" />
<text x="213.50" y="516.60" font-size="2.8" text-anchor="middle" fill="#6a6a6a" font-weight="normal">153.9627</text>
<line x1="240.50" y1="531.00" x2="240.50" y2="536.30" stroke="#505050" stroke-width="0.9" />
<text x="240.50" y="530.10" font-size="2.8" text-anchor="middle" fill="#6a6a6a" font-weight="normal">736.4044</text>
<line x1="258.50" y1="530.00" x2="258.50" y2="536.30" stroke="#505050" stroke-width="0.9" />
<line x1="275.50" y1="531.00" x2="275.50" y2="536.30" stroke="#505050" stroke-width="0.9" />
<text x="275.50" y="530.10" font-size="2.8" text-anchor="middle" fill="#6a6a6a" font-weight="normal">887.8131</text>
<line x1="296.50" y1="530.00" x2="296.50" y2="536.30" stroke="#505050" stroke-width="0.9" />
<text x="296.50" y="529.10" font-size="2.8" text-anchor="middle" fill="#6a6a6a" font-weight="normal">233.7700</text>
<line x1="320.50" y1="530.50" x2="320.50" y2="536.30" stroke="#505050" stroke-width="0.9" />
<text x="320.50" y="529.60" font-size="2.8" text-anchor="middle" fill="#6a6a6a" font-weight="normal">597.5535</text>
<text x="201.40" y="400.00" font-size="5.6" font-weight="bold" text-anchor="middle" fill="#000">y<tspan font-size="3.58" dy="1.2">7</tspan></text>
<text x="218.00" y="462.20" font-size="5.6" font-weight="bold" text-anchor="middle" fill="#000">b<tspan font-size="3.58" dy="1.2">8</tspan></text>
<text x="228.60" y="449.40" font-size="5.6" font-weight="bold" text-anchor="middle" fill="#000">y<tspan font-size="3.58" dy="1.2">9</tspan></text>
<text x="225.40" y="492.30" font-size="5.6" font-weight="bold" text-anchor="middle" fill="#000">b<tspan font-size="3.58" dy="1.2">7</tspan></text>
<text x="251.30" y="496.40" font-size="5.6" font-weight="bold" text-anchor="middle" fill="#000">y<tspan font-size="3.58" dy="1.2">9</tspan></text>
<text x="265.40" y="462.20" font-size="5.6" font-weight="bold" text-anchor="middle" fill="#000">y<tspan font-size="3.58" dy="1.2">10</tspan></text>
<text x="282.30" y="515.70" font-size="5.6" font-weight="bold" text-anchor="middle" fill="#000">y<tspan font-size="3.58" dy="1.2">11</tspan></text>
<text x="307.00" y="497.40" font-size="5.6" font-weight="bold" text-anchor="middle" fill="#000">b<tspan font-size="3.58" dy="1.2">13</tspan></text>
<text x="312.40" y="515.70" font-size="5.6" font-weight="bold" text-anchor="middle" fill="#000">y<tspan font-size="3.58" dy="1.2">12</tspan></text>
<text x="112.10" y="501.20" font-size="5.6" font-weight="bold" text-anchor="middle" fill="#000">y<tspan font-size="3.58" dy="1.2">1</tspan></text>
<text x="136.60" y="502.20" font-size="5.6" font-weight="bold" text-anchor="middle" fill="#000">b<tspan font-size="3.58" dy="1.2">2</tspan></text>
<text x="141.50" y="523.10" font-size="5.6" font-weight="bold" text-anchor="middle" fill="#000">y<tspan font-size="3.58" dy="1.2">3</tspan></text>
<text x="153.70" y="470.50" font-size="5.6" font-weight="bold" text-anchor="middle" fill="#000">b<tspan font-size="3.58" dy="1.2">3</tspan></text>
<text x="163.00" y="494.60" font-size="5.6" font-weight="bold" text-anchor="middle" fill="#000">y<tspan font-size="3.58" dy="1.2">4</tspan></text>
<text x="170.00" y="494.60" font-size="5.6" font-weight="bold" text-anchor="middle" fill="#000">b<tspan font-size="3.58" dy="1.2">4</tspan></text>
<text x="187.00" y="468.30" font-size="5.6" font-weight="bold" text-anchor="middle" fill="#000">b<tspan font-size="3.58" dy="1.2">5</tspan></text>
<text x="194.00" y="468.30" font-size="5.6" font-weight="bold" text-anchor="middle" fill="#000">y<tspan font-size="3.58" dy="1.2">6</tspan></text>
<rect x="86.10" y="404.60" width="98.50" height="48.60" fill="none" stroke="#555" stroke-width="0.75"/>
<line x1="99.40" y1="408.80" x2="99.40" y2="438.30" stroke="#999" stroke-width="0.5" />
<line x1="98.20" y1="438.30" x2="99.40" y2="438.30" stroke="#999" stroke-width="0.4" />
<text x="97.80" y="438.90" font-size="1.7" text-anchor="end" fill="#888">0</text>
<line x1="98.20" y1="435.00" x2="99.40" y2="435.00" stroke="#999" stroke-width="0.4" />
<text x="97.80" y="435.60" font-size="1.7" text-anchor="end" fill="#888">500</text>
<line x1="98.20" y1="431.70" x2="99.40" y2="431.70" stroke="#999" stroke-width="0.4" />
<text x="97.80" y="432.30" font-size="1.7" text-anchor="end" fill="#888">1000</text>
<line x1="98.20" y1="428.40" x2="99.40" y2="428.40" stroke="#999" stroke-width="0.4" />
<text x="97.80" y="429.00" font-size="1.7" text-anchor="end" fill="#888">1500</text>
<line x1="98.20" y1="425.10" x2="99.40" y2="425.10" stroke="#999" stroke-width="0.4" />
<text x="97.80" y="425.70" font-size="1.7" text-anchor="end" fill="#888">2000</text>
<line x1="98.20" y1="421.80" x2="99.40" y2="421.80" stroke="#999" stroke-width="0.4" />
<text x="97.80" y="422.40" font-size="1.7" text-anchor="end" fill="#888">2500</text>
<line x1="98.20" y1="418.50" x2="99.40" y2="418.50" stroke="#999" stroke-width="0.4" />
<text x="97.80" y="419.10" font-size="1.7" text-anchor="end" fill="#888">3000</text>
<line x1="98.20" y1="415.20" x2="99.40" y2="415.20" stroke="#999" stroke-width="0.4" />
<text x="97.80" y="415.80" font-size="1.7" text-anchor="end" fill="#888">3500</text>
<line x1="98.20" y1="411.90" x2="99.40" y2="411.90" stroke="#999" stroke-width="0.4" />
<text x="97.80" y="412.50" font-size="1.7" text-anchor="end" fill="#888">4000</text>
<line x1="98.20" y1="408.60" x2="99.40" y2="408.60" stroke="#999" stroke-width="0.4" />
<text x="97.80" y="409.20" font-size="1.7" text-anchor="end" fill="#888">4500</text>
<line x1="99.40" y1="438.30" x2="180.10" y2="438.30" stroke="#b8b8b8" stroke-width="0.6" />
<text x="0" y="0" font-size="3.6" text-anchor="middle" fill="#333" transform="translate(91.80,424.05) rotate(-90)">Intensity (counts)</text>
<line x1="111.25" y1="438.30" x2="111.25" y2="439.10" stroke="#aaa" stroke-width="0.4" />
<text x="111.25" y="445.20" font-size="4.1" font-weight="bold" text-anchor="middle" fill="#000" >114</text>
<line x1="131.50" y1="438.30" x2="131.50" y2="439.10" stroke="#aaa" stroke-width="0.4" />
<text x="131.50" y="445.20" font-size="4.1" font-weight="bold" text-anchor="middle" fill="#000" >115</text>
<line x1="151.75" y1="438.30" x2="151.75" y2="439.10" stroke="#aaa" stroke-width="0.4" />
<text x="151.75" y="445.20" font-size="4.1" font-weight="bold" text-anchor="middle" fill="#000" >116</text>
<line x1="172.00" y1="438.30" x2="172.00" y2="439.10" stroke="#aaa" stroke-width="0.4" />
<text x="172.00" y="445.20" font-size="4.1" font-weight="bold" text-anchor="middle" fill="#000" >117</text>
<text x="140.80" y="451.90" font-size="4.0" font-weight="bold" text-anchor="middle" fill="#000" >m/z</text>
<line x1="131.50" y1="416.00" x2="131.50" y2="438.30" stroke="#78aade" stroke-width="0.85" />
<line x1="172.50" y1="416.00" x2="172.50" y2="438.30" stroke="#78aade" stroke-width="0.85" />
<text x="130.30" y="412.20" font-size="4.7" font-weight="bold" text-anchor="middle" fill="#000" >115.11</text>
<text x="171.00" y="412.30" font-size="4.7" font-weight="bold" text-anchor="middle" fill="#000" >117.11</text>
<line x1="189.70" y1="427.70" x2="198.10" y2="427.70" stroke="#111" stroke-width="0.9" />
<path d="M186.40,427.70 L190.60,425.80 L190.60,429.60 Z" fill="#111"/>
</g>
<text x="0.50" y="9.00" font-size="12.2" font-weight="bold" text-anchor="start" fill="#000" stroke="#000" stroke-width="0.268" >A</text>
<text x="375.20" y="401.30" font-size="12.2" font-weight="bold" text-anchor="start" fill="#000" stroke="#000" stroke-width="0.268" >B</text>
<text x="466.20" y="409.60" font-size="9.4" font-weight="bold" text-anchor="middle" fill="#000" stroke="#000" stroke-width="0.207" >DU</text>
<text x="496.20" y="409.60" font-size="9.4" font-weight="bold" text-anchor="middle" fill="#000" stroke="#000" stroke-width="0.207" >GC</text>
<defs><filter id="g1" x="-50%" y="-300%" width="200%" height="700%"><feGaussianBlur stdDeviation="0.8"/></filter><filter id="g2" x="-50%" y="-300%" width="200%" height="700%"><feGaussianBlur stdDeviation="0.5"/></filter><filter id="g3" x="-50%" y="-300%" width="200%" height="700%"><feGaussianBlur stdDeviation="1.3"/></filter></defs>
<rect x="450.7" y="415.6" width="58.2" height="19.00" fill="#060606"/>
<text x="431.00" y="429.20" font-size="9.4" font-weight="bold" text-anchor="middle" fill="#000" stroke="#000" stroke-width="0.207" >AlpA</text>
<text x="466.00" y="443.70" font-size="9.2" font-weight="bold" text-anchor="middle" fill="#000" stroke="#000" stroke-width="0.202" >1</text>
<text x="493.60" y="443.70" font-size="9.2" font-weight="bold" text-anchor="middle" fill="#000" stroke="#000" stroke-width="0.202" >4.6</text>
<rect x="450.7" y="448.0" width="58.2" height="18.90" fill="#060606"/>
<text x="431.00" y="461.55" font-size="9.4" font-weight="bold" text-anchor="middle" fill="#000" stroke="#000" stroke-width="0.207" >OipA</text>
<text x="466.00" y="476.30" font-size="9.2" font-weight="bold" text-anchor="middle" fill="#000" stroke="#000" stroke-width="0.202" >1</text>
<text x="493.60" y="476.30" font-size="9.2" font-weight="bold" text-anchor="middle" fill="#000" stroke="#000" stroke-width="0.202" >1.6</text>
<rect x="450.7" y="480.0" width="58.2" height="19.00" fill="#060606"/>
<text x="431.00" y="493.60" font-size="9.4" font-weight="bold" text-anchor="middle" fill="#000" stroke="#000" stroke-width="0.207" >BabA</text>
<text x="466.00" y="508.90" font-size="9.2" font-weight="bold" text-anchor="middle" fill="#000" stroke="#000" stroke-width="0.202" >1</text>
<text x="493.60" y="508.90" font-size="9.2" font-weight="bold" text-anchor="middle" fill="#000" stroke="#000" stroke-width="0.202" >2.1</text>
<rect x="450.7" y="511.7" width="58.2" height="18.70" fill="#060606"/>
<text x="431.00" y="525.15" font-size="9.4" font-weight="bold" text-anchor="middle" fill="#000" stroke="#000" stroke-width="0.207" >SabA</text>
<text x="466.00" y="541.10" font-size="9.2" font-weight="bold" text-anchor="middle" fill="#000" stroke="#000" stroke-width="0.202" >1</text>
<text x="493.60" y="541.10" font-size="9.2" font-weight="bold" text-anchor="middle" fill="#000" stroke="#000" stroke-width="0.202" >2.5</text>
<rect x="450.7" y="543.3" width="58.2" height="19.00" fill="#060606"/>
<text x="431.00" y="556.90" font-size="9.4" font-weight="bold" text-anchor="middle" fill="#000" stroke="#000" stroke-width="0.207" >UreB</text>
<rect x="458.00" y="419.70" width="17.50" height="2.20" rx="1.10" fill="rgb(42,42,42)" fill-opacity="1.0" filter="url(#g1)"/>
<rect x="484.80" y="422.90" width="18.60" height="3.60" rx="1.80" fill="rgb(140,140,140)" fill-opacity="1.0" filter="url(#g3)"/>
<rect x="486.00" y="423.90" width="16.40" height="1.60" rx="0.80" fill="rgb(255,255,255)" fill-opacity="1.0" filter="url(#g1)"/>
<rect x="458.80" y="455.70" width="17.00" height="2.80" rx="1.40" fill="rgb(175,175,175)" fill-opacity="1.0" filter="url(#g1)"/>
<rect x="485.20" y="456.20" width="17.40" height="3.20" rx="1.60" fill="rgb(215,215,215)" fill-opacity="1.0" filter="url(#g1)"/>
<rect x="458.40" y="484.90" width="17.60" height="2.60" rx="1.30" fill="rgb(45,45,45)" fill-opacity="1.0" filter="url(#g1)"/>
<rect x="484.80" y="488.50" width="16.90" height="3.00" rx="1.50" fill="rgb(125,125,125)" fill-opacity="1.0" filter="url(#g1)"/>
<rect x="458.40" y="516.60" width="17.60" height="2.80" rx="1.40" fill="rgb(48,48,48)" fill-opacity="1.0" filter="url(#g1)"/>
<rect x="484.80" y="519.60" width="16.90" height="3.00" rx="1.50" fill="rgb(120,120,120)" fill-opacity="1.0" filter="url(#g1)"/>
<rect x="457.00" y="548.45" width="19.20" height="5.50" rx="2.00" fill="rgb(110,110,110)" fill-opacity="1.0" filter="url(#g3)"/>
<rect x="457.50" y="551.00" width="18.30" height="3.20" rx="1.60" fill="rgb(215,215,215)" fill-opacity="1.0" filter="url(#g1)"/>
<rect x="483.20" y="547.00" width="18.50" height="5.20" rx="2.00" fill="rgb(110,110,110)" fill-opacity="1.0" filter="url(#g3)"/>
<rect x="483.70" y="548.70" width="17.50" height="3.00" rx="1.50" fill="rgb(205,205,205)" fill-opacity="1.0" filter="url(#g1)"/>
<text x="598.30" y="437.00" font-size="9.4" font-weight="bold" text-anchor="middle" fill="#000" stroke="#000" stroke-width="0.207" >DU</text>
<text x="628.40" y="437.00" font-size="9.4" font-weight="bold" text-anchor="middle" fill="#000" stroke="#000" stroke-width="0.207" >GC</text>
<rect x="587.8" y="443.4" width="58.9" height="20.10" fill="#efefef" stroke="#262626" stroke-width="1.1"/>
<text x="564.40" y="457.45" font-size="9.4" font-weight="bold" text-anchor="middle" fill="#000" stroke="#000" stroke-width="0.207" >BabA</text>
<text x="598.90" y="473.90" font-size="8.9" font-weight="bold" text-anchor="middle" fill="#000" stroke="#000" stroke-width="0.196" >1</text>
<text x="626.80" y="473.90" font-size="8.9" font-weight="bold" text-anchor="middle" fill="#000" stroke="#000" stroke-width="0.196" >2.1</text>
<rect x="587.8" y="478.3" width="58.9" height="19.80" fill="#efefef" stroke="#262626" stroke-width="1.1"/>
<text x="564.40" y="492.20" font-size="9.4" font-weight="bold" text-anchor="middle" fill="#000" stroke="#000" stroke-width="0.207" >SabA</text>
<text x="598.90" y="508.30" font-size="8.9" font-weight="bold" text-anchor="middle" fill="#000" stroke="#000" stroke-width="0.196" >1</text>
<text x="626.80" y="508.30" font-size="8.9" font-weight="bold" text-anchor="middle" fill="#000" stroke="#000" stroke-width="0.196" >1.7</text>
<rect x="587.8" y="512.2" width="58.9" height="20.10" fill="#efefef" stroke="#262626" stroke-width="1.1"/>
<text x="564.40" y="526.25" font-size="9.4" font-weight="bold" text-anchor="middle" fill="#000" stroke="#000" stroke-width="0.207" >UreB</text>
<rect x="591.00" y="453.30" width="24.40" height="2.20" rx="1.10" fill="rgb(215,215,215)" fill-opacity="1.0" filter="url(#g1)"/>
<rect x="619.60" y="451.50" width="22.20" height="3.60" rx="1.80" fill="#303030" fill-opacity="1.0" filter="url(#g2)"/>
<rect x="620.40" y="452.20" width="12.60" height="2.60" rx="1.30" fill="#141414" fill-opacity="1.0" filter="url(#g2)"/>
<rect x="623.00" y="483.40" width="18.00" height="1.80" rx="0.90" fill="rgb(220,220,220)" fill-opacity="1.0" filter="url(#g1)"/>
<path d="M622.3,490.3 C622.6,488.4 627,488.8 632,488.5 C637,488.0 641,486.8 642.2,487.8 C642.4,489.2 637,489.6 632,490.3 C628,491.0 623,492.2 622.3,490.3 Z" fill="#2a2a2a" filter="url(#g2)"/>
<path d="M590.2,523.4 C590.4,520.8 600,520.9 606,521.1 C612,521.3 616.2,521.8 616.2,523.3 C616.0,525.2 610,525.4 603,525.6 C596,525.8 590.1,525.8 590.2,523.4 Z" fill="#1a1a1a" filter="url(#g2)"/>
<path d="M617.2,522.8 C617.4,520.6 626,520.6 632,520.7 C638,520.8 641.6,521.2 641.6,522.4 C641.4,524.0 636,524.2 630,524.4 C624,524.6 617.1,524.9 617.2,522.8 Z" fill="#262626" filter="url(#g2)"/>
</svg>
</body></html>
